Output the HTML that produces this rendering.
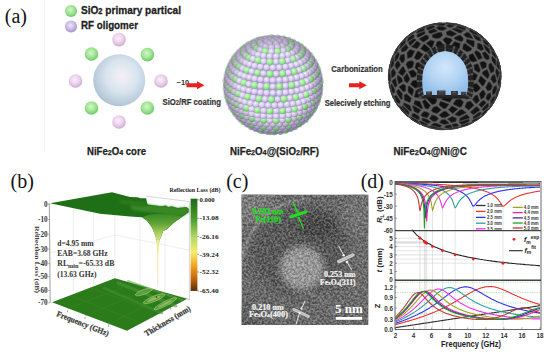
<!DOCTYPE html><html><head><meta charset="utf-8"><style>html,body{margin:0;padding:0;background:#fff;overflow:hidden}svg{display:block}</style></head><body><svg width="550" height="353" viewBox="0 0 550 353">
<defs>
 <radialGradient id="gCore" cx="0.55" cy="0.42" r="0.62">
  <stop offset="0" stop-color="#f5f0f6"/>
  <stop offset="0.5" stop-color="#d8e4ee"/>
  <stop offset="1" stop-color="#abc0d3"/>
 </radialGradient>
 <radialGradient id="gGreen" cx="0.45" cy="0.4" r="0.65">
  <stop offset="0" stop-color="#d2f6c8"/>
  <stop offset="0.5" stop-color="#a2e696"/>
  <stop offset="1" stop-color="#68c062"/>
 </radialGradient>
 <radialGradient id="gPurp" cx="0.45" cy="0.4" r="0.65">
  <stop offset="0" stop-color="#fbf0fb"/>
  <stop offset="0.5" stop-color="#ecd3ec"/>
  <stop offset="1" stop-color="#c9a3cc"/>
 </radialGradient>
 <radialGradient id="gPurpL" cx="0.45" cy="0.4" r="0.65">
  <stop offset="0" stop-color="#efe6f8"/>
  <stop offset="0.5" stop-color="#cdbde6"/>
  <stop offset="1" stop-color="#9c88c0"/>
 </radialGradient>
 <radialGradient id="gB1" cx="0.4" cy="0.35" r="0.7">
  <stop offset="0" stop-color="#f6f0fc"/>
  <stop offset="0.6" stop-color="#d2c4ec"/>
  <stop offset="1" stop-color="#9a8abe"/>
 </radialGradient>
 <radialGradient id="gB2" cx="0.4" cy="0.35" r="0.7">
  <stop offset="0" stop-color="#d8fad0"/>
  <stop offset="0.6" stop-color="#92e68e"/>
  <stop offset="1" stop-color="#5cb85a"/>
 </radialGradient>
 <radialGradient id="gShade" cx="0.5" cy="0.5" r="0.5">
  <stop offset="0.7" stop-color="#000" stop-opacity="0"/>
  <stop offset="1" stop-color="#302040" stop-opacity="0.35"/>
 </radialGradient>
 <radialGradient id="gDark" cx="0.45" cy="0.4" r="0.6">
  <stop offset="0" stop-color="#2e2e2e"/>
  <stop offset="1" stop-color="#141414"/>
 </radialGradient>
 <radialGradient id="gBlue" cx="0.5" cy="0.38" r="0.62">
  <stop offset="0" stop-color="#d2e7fa"/>
  <stop offset="0.6" stop-color="#b0d3f3"/>
  <stop offset="1" stop-color="#94bfea"/>
 </radialGradient>
 <linearGradient id="gCbar" x1="0" y1="0" x2="0" y2="1">
  <stop offset="0" stop-color="#1b6a16"/>
  <stop offset="0.22" stop-color="#4d9a2e"/>
  <stop offset="0.42" stop-color="#b5d86a"/>
  <stop offset="0.58" stop-color="#f4ec6e"/>
  <stop offset="0.72" stop-color="#f0a828"/>
  <stop offset="0.86" stop-color="#c86a0c"/>
  <stop offset="1" stop-color="#5a2c0a"/>
 </linearGradient>
 <linearGradient id="gTop" x1="0" y1="0" x2="1" y2="0.3">
  <stop offset="0" stop-color="#2a7a1e"/>
  <stop offset="0.6" stop-color="#2f7f21"/>
  <stop offset="1" stop-color="#4a9530"/>
 </linearGradient>
 <linearGradient id="gDip" x1="0" y1="0" x2="0" y2="1">
  <stop offset="0" stop-color="#3a8a26"/>
  <stop offset="0.3" stop-color="#5ea236"/>
  <stop offset="0.6" stop-color="#a6cc5a"/>
  <stop offset="1" stop-color="#eef29a"/>
 </linearGradient>
 <linearGradient id="gSpike" x1="0" y1="0" x2="0" y2="1">
  <stop offset="0" stop-color="#e8ee90"/>
  <stop offset="0.4" stop-color="#f4e890"/>
  <stop offset="1" stop-color="#f0c090"/>
 </linearGradient>
 <linearGradient id="gFloor" x1="0" y1="0" x2="1" y2="0.4">
  <stop offset="0" stop-color="#2f7e22"/>
  <stop offset="0.7" stop-color="#38882a"/>
  <stop offset="1" stop-color="#46922f"/>
 </linearGradient>
 <filter id="noise" x="0" y="0" width="100%" height="100%" color-interpolation-filters="sRGB">
  <feTurbulence type="fractalNoise" baseFrequency="0.45" numOctaves="2" seed="7" result="t"/>
  <feColorMatrix type="matrix" values="2.4 0 0 0 -0.75  2.4 0 0 0 -0.75  2.4 0 0 0 -0.75  0 0 0 0 1" in="t" result="c"/>
  <feComposite in="c" in2="SourceGraphic" operator="in"/>
 </filter>
 <filter id="blur3"><feGaussianBlur stdDeviation="3"/></filter>
 <filter id="blur6"><feGaussianBlur stdDeviation="6"/></filter>
 <filter id="blur1"><feGaussianBlur stdDeviation="1"/></filter>
 <clipPath id="clipTem"><rect x="241.5" y="194.5" width="127" height="130.5"/></clipPath>
 <clipPath id="clipD"><rect x="395" y="181.5" width="146" height="148"/></clipPath>
 <clipPath id="clipDark"><circle cx="445.5" cy="75.5" r="55.5"/></clipPath>
</defs>
<rect width="550" height="353" fill="#fff"/><line x1="44.5" y1="0" x2="44.5" y2="152" stroke="#f7f7f7" stroke-width="1"/><text x="4.8" y="22.7" style="font-family:&quot;Liberation Serif&quot;,serif;font-size:20px" fill="#111">(a)</text><circle cx="71" cy="11" r="6" fill="url(#gGreen)"/><circle cx="71" cy="26.5" r="6" fill="url(#gPurpL)"/><text x="81" y="13.6" style="font-family:&quot;Liberation Sans&quot;,sans-serif;font-weight:bold;font-size:11.5px" fill="#222" stroke="#222" stroke-width="0.3" textLength="100" lengthAdjust="spacingAndGlyphs">SiO<tspan font-size="8.5px">2</tspan> primary partical</text><text x="81" y="29.3" style="font-family:&quot;Liberation Sans&quot;,sans-serif;font-weight:bold;font-size:11.5px" fill="#222" stroke="#222" stroke-width="0.3" textLength="57" lengthAdjust="spacingAndGlyphs">RF oligomer</text><circle cx="119.2" cy="80.3" r="26" fill="url(#gCore)"/><circle cx="119" cy="39.6" r="6.8" fill="url(#gPurp)"/><circle cx="91.5" cy="54" r="6.8" fill="url(#gGreen)"/><circle cx="147.4" cy="54.6" r="6.8" fill="url(#gGreen)"/><circle cx="75.5" cy="81" r="6.8" fill="url(#gPurp)"/><circle cx="161" cy="81" r="6.8" fill="url(#gPurp)"/><circle cx="91.5" cy="108" r="6.8" fill="url(#gGreen)"/><circle cx="147.4" cy="108" r="6.8" fill="url(#gGreen)"/><circle cx="119" cy="122" r="6.8" fill="url(#gPurp)"/><text x="176.5" y="84.5" style="font-family:&quot;Liberation Sans&quot;,sans-serif;font-weight:bold;font-size:7.5px" fill="#333">~10</text><path d="M186.5,83.3 L197.0,83.3 L197.0,81.3 L204.5,85.3 L197.0,89.3 L197.0,87.3 L186.5,87.3 Z" fill="#e8201e"/><text x="162.5" y="104.8" style="font-family:&quot;Liberation Sans&quot;,sans-serif;font-weight:bold;font-size:8.6px" fill="#333" stroke="#333" stroke-width="0.2" textLength="58.5" lengthAdjust="spacingAndGlyphs">SiO<tspan font-size="6.5px">2</tspan>/RF coating</text><text x="87" y="155.2" style="font-family:&quot;Liberation Sans&quot;,sans-serif;font-weight:bold;font-size:10px" fill="#222" stroke="#222" stroke-width="0.25" textLength="59" lengthAdjust="spacingAndGlyphs">NiFe<tspan font-size="7.5px">2</tspan>O<tspan font-size="7.5px">4</tspan> core</text><circle cx="273.0" cy="84.8" r="48.0" fill="#ac9ecc"/><g><circle cx="227.2" cy="91.4" r="3.5100000000000002" fill="url(#gB2)"/><circle cx="318.8" cy="91.4" r="3.25" fill="url(#gB1)"/><circle cx="296.7" cy="124.6" r="3.25" fill="url(#gB1)"/><circle cx="249.3" cy="124.6" r="3.25" fill="url(#gB1)"/><circle cx="263.5" cy="130.1" r="3.25" fill="url(#gB1)"/><circle cx="317.4" cy="98.3" r="3.25" fill="url(#gB1)"/><circle cx="228.6" cy="98.3" r="3.25" fill="url(#gB1)"/><circle cx="314.9" cy="104.9" r="3.5100000000000002" fill="url(#gB2)"/><circle cx="231.1" cy="104.9" r="3.25" fill="url(#gB1)"/><circle cx="289.5" cy="128.3" r="3.25" fill="url(#gB1)"/><circle cx="226.8" cy="78.3" r="3.25" fill="url(#gB1)"/><circle cx="269.8" cy="38.3" r="3.25" fill="url(#gB1)"/><circle cx="276.2" cy="38.3" r="3.25" fill="url(#gB1)"/><circle cx="280.2" cy="130.9" r="3.5100000000000002" fill="url(#gB2)"/><circle cx="234.6" cy="111.2" r="3.25" fill="url(#gB1)"/><circle cx="311.4" cy="111.2" r="3.25" fill="url(#gB1)"/><circle cx="300.5" cy="47.1" r="3.25" fill="url(#gB1)"/><circle cx="245.5" cy="47.1" r="3.25" fill="url(#gB1)"/><circle cx="226.3" cy="85.4" r="3.25" fill="url(#gB1)"/><circle cx="306.9" cy="52.7" r="3.25" fill="url(#gB1)"/><circle cx="239.1" cy="52.7" r="3.5100000000000002" fill="url(#gB2)"/><circle cx="253.1" cy="42.5" r="3.25" fill="url(#gB1)"/><circle cx="292.9" cy="42.5" r="3.5100000000000002" fill="url(#gB2)"/><circle cx="306.9" cy="117.1" r="3.25" fill="url(#gB1)"/><circle cx="239.1" cy="117.1" r="3.5100000000000002" fill="url(#gB2)"/><circle cx="234.0" cy="58.9" r="3.25" fill="url(#gB1)"/><circle cx="312.0" cy="58.9" r="3.25" fill="url(#gB1)"/><circle cx="268.5" cy="131.4" r="3.5100000000000002" fill="url(#gB2)"/><circle cx="282.4" cy="38.9" r="3.25" fill="url(#gB1)"/><circle cx="263.6" cy="38.9" r="3.25" fill="url(#gB1)"/><circle cx="315.7" cy="65.4" r="3.5100000000000002" fill="url(#gB2)"/><circle cx="230.3" cy="65.4" r="3.5100000000000002" fill="url(#gB2)"/><circle cx="258.2" cy="129.3" r="3.25" fill="url(#gB1)"/><circle cx="274.5" cy="131.7" r="3.25" fill="url(#gB1)"/><circle cx="301.3" cy="122.2" r="3.25" fill="url(#gB1)"/><circle cx="244.7" cy="122.2" r="3.25" fill="url(#gB1)"/><circle cx="318.3" cy="72.4" r="3.25" fill="url(#gB1)"/><circle cx="227.7" cy="72.4" r="3.25" fill="url(#gB1)"/><circle cx="319.7" cy="79.5" r="3.5100000000000002" fill="url(#gB2)"/><circle cx="320.0" cy="86.6" r="3.25" fill="url(#gB1)"/><circle cx="294.2" cy="126.8" r="3.5100000000000002" fill="url(#gB2)"/><circle cx="251.8" cy="126.8" r="3.5100000000000002" fill="url(#gB2)"/><circle cx="319.2" cy="93.7" r="3.5100000000000002" fill="url(#gB2)"/><circle cx="226.8" cy="93.7" r="3.25" fill="url(#gB1)"/><circle cx="285.7" cy="130.1" r="3.25" fill="url(#gB1)"/><circle cx="317.4" cy="100.7" r="3.25" fill="url(#gB1)"/><circle cx="228.6" cy="100.7" r="3.25" fill="url(#gB1)"/><circle cx="287.9" cy="40.1" r="3.25" fill="url(#gB1)"/><circle cx="258.1" cy="40.1" r="3.25" fill="url(#gB1)"/><circle cx="297.1" cy="44.3" r="3.25" fill="url(#gB1)"/><circle cx="248.9" cy="44.3" r="3.5100000000000002" fill="url(#gB2)"/><circle cx="314.5" cy="107.3" r="3.25" fill="url(#gB1)"/><circle cx="231.5" cy="107.3" r="3.5100000000000002" fill="url(#gB2)"/><circle cx="242.1" cy="49.2" r="3.25" fill="url(#gB1)"/><circle cx="303.9" cy="49.2" r="3.25" fill="url(#gB1)"/><circle cx="226.0" cy="80.6" r="3.5100000000000002" fill="url(#gB2)"/><circle cx="262.7" cy="130.9" r="3.25" fill="url(#gB1)"/><circle cx="310.4" cy="113.6" r="3.25" fill="url(#gB1)"/><circle cx="235.6" cy="113.6" r="3.25" fill="url(#gB1)"/><circle cx="309.5" cy="54.9" r="3.5100000000000002" fill="url(#gB2)"/><circle cx="236.5" cy="54.9" r="3.25" fill="url(#gB1)"/><circle cx="225.9" cy="87.8" r="3.25" fill="url(#gB1)"/><circle cx="271.4" cy="37.6" r="3.5100000000000002" fill="url(#gB2)"/><circle cx="277.6" cy="37.8" r="3.25" fill="url(#gB1)"/><circle cx="305.2" cy="119.4" r="3.5100000000000002" fill="url(#gB2)"/><circle cx="240.8" cy="119.4" r="3.25" fill="url(#gB1)"/><circle cx="313.9" cy="61.2" r="3.25" fill="url(#gB1)"/><circle cx="232.1" cy="61.2" r="3.25" fill="url(#gB1)"/><circle cx="280.6" cy="131.4" r="3.25" fill="url(#gB1)"/><circle cx="317.0" cy="67.8" r="3.25" fill="url(#gB1)"/><circle cx="229.0" cy="67.8" r="3.25" fill="url(#gB1)"/><circle cx="298.8" cy="124.3" r="3.25" fill="url(#gB1)"/><circle cx="247.2" cy="124.3" r="3.25" fill="url(#gB1)"/><circle cx="265.4" cy="38.2" r="3.25" fill="url(#gB1)"/><circle cx="319.1" cy="74.7" r="3.25" fill="url(#gB1)"/><circle cx="226.9" cy="74.7" r="3.25" fill="url(#gB1)"/><circle cx="268.4" cy="131.8" r="3.25" fill="url(#gB1)"/><circle cx="290.4" cy="128.7" r="3.25" fill="url(#gB1)"/><circle cx="255.6" cy="128.7" r="3.25" fill="url(#gB1)"/><circle cx="274.6" cy="132.0" r="3.25" fill="url(#gB1)"/><circle cx="320.1" cy="81.8" r="3.5100000000000002" fill="url(#gB2)"/><circle cx="292.5" cy="41.8" r="3.25" fill="url(#gB1)"/><circle cx="253.5" cy="41.8" r="3.25" fill="url(#gB1)"/><circle cx="283.3" cy="38.7" r="3.5100000000000002" fill="url(#gB2)"/><circle cx="320.0" cy="89.0" r="3.25" fill="url(#gB1)"/><circle cx="318.8" cy="96.1" r="3.25" fill="url(#gB1)"/><circle cx="227.2" cy="96.1" r="3.5100000000000002" fill="url(#gB2)"/><circle cx="245.8" cy="46.3" r="3.25" fill="url(#gB1)"/><circle cx="300.2" cy="46.3" r="3.5100000000000002" fill="url(#gB2)"/><circle cx="316.5" cy="103.0" r="3.25" fill="url(#gB1)"/><circle cx="229.5" cy="103.0" r="3.25" fill="url(#gB1)"/><circle cx="306.2" cy="51.4" r="3.25" fill="url(#gB1)"/><circle cx="239.8" cy="51.4" r="3.25" fill="url(#gB1)"/><circle cx="313.1" cy="109.6" r="3.5100000000000002" fill="url(#gB2)"/><circle cx="232.9" cy="109.6" r="3.25" fill="url(#gB1)"/><circle cx="260.3" cy="39.5" r="3.5100000000000002" fill="url(#gB2)"/><circle cx="226.0" cy="83.0" r="3.25" fill="url(#gB1)"/><circle cx="308.3" cy="115.9" r="3.25" fill="url(#gB1)"/><circle cx="237.7" cy="115.9" r="3.25" fill="url(#gB1)"/><circle cx="234.9" cy="57.2" r="3.5100000000000002" fill="url(#gB2)"/><circle cx="311.1" cy="57.2" r="3.25" fill="url(#gB1)"/><circle cx="285.3" cy="130.2" r="3.5100000000000002" fill="url(#gB2)"/><circle cx="260.7" cy="130.2" r="3.5100000000000002" fill="url(#gB2)"/><circle cx="226.3" cy="90.1" r="3.25" fill="url(#gB1)"/><circle cx="295.1" cy="126.2" r="3.25" fill="url(#gB1)"/><circle cx="250.9" cy="126.2" r="3.25" fill="url(#gB1)"/><circle cx="302.3" cy="121.5" r="3.25" fill="url(#gB1)"/><circle cx="243.7" cy="121.5" r="3.5100000000000002" fill="url(#gB2)"/><circle cx="231.2" cy="63.5" r="3.25" fill="url(#gB1)"/><circle cx="314.8" cy="63.5" r="3.25" fill="url(#gB1)"/><circle cx="271.5" cy="37.9" r="3.25" fill="url(#gB1)"/><circle cx="287.8" cy="40.3" r="3.25" fill="url(#gB1)"/><circle cx="317.5" cy="70.1" r="3.5100000000000002" fill="url(#gB2)"/><circle cx="228.5" cy="70.1" r="3.5100000000000002" fill="url(#gB2)"/><circle cx="277.5" cy="38.2" r="3.25" fill="url(#gB1)"/><circle cx="250.3" cy="43.9" r="3.25" fill="url(#gB1)"/><circle cx="295.7" cy="43.9" r="3.25" fill="url(#gB1)"/><circle cx="226.9" cy="77.1" r="3.25" fill="url(#gB1)"/><circle cx="319.1" cy="77.1" r="3.25" fill="url(#gB1)"/><circle cx="279.4" cy="131.1" r="3.25" fill="url(#gB1)"/><circle cx="266.6" cy="131.1" r="3.25" fill="url(#gB1)"/><circle cx="319.7" cy="84.2" r="3.25" fill="url(#gB1)"/><circle cx="265.8" cy="38.7" r="3.25" fill="url(#gB1)"/><circle cx="319.2" cy="91.3" r="3.25" fill="url(#gB1)"/><circle cx="273.0" cy="131.4" r="3.5100000000000002" fill="url(#gB2)"/><circle cx="256.5" cy="41.3" r="3.25" fill="url(#gB1)"/><circle cx="317.5" cy="98.4" r="3.5100000000000002" fill="url(#gB2)"/><circle cx="228.5" cy="98.4" r="3.25" fill="url(#gB1)"/><circle cx="243.8" cy="48.5" r="3.5100000000000002" fill="url(#gB2)"/><circle cx="302.2" cy="48.5" r="3.25" fill="url(#gB1)"/><circle cx="314.7" cy="105.3" r="3.25" fill="url(#gB1)"/><circle cx="231.3" cy="105.3" r="3.25" fill="url(#gB1)"/><circle cx="290.5" cy="127.8" r="3.25" fill="url(#gB1)"/><circle cx="255.5" cy="127.8" r="3.25" fill="url(#gB1)"/><circle cx="310.8" cy="111.8" r="3.25" fill="url(#gB1)"/><circle cx="235.2" cy="111.8" r="3.5100000000000002" fill="url(#gB2)"/><circle cx="307.4" cy="53.7" r="3.25" fill="url(#gB1)"/><circle cx="238.6" cy="53.7" r="3.25" fill="url(#gB1)"/><circle cx="282.5" cy="39.5" r="3.25" fill="url(#gB1)"/><circle cx="305.3" cy="118.0" r="3.25" fill="url(#gB1)"/><circle cx="240.7" cy="118.0" r="3.25" fill="url(#gB1)"/><circle cx="247.5" cy="123.4" r="3.25" fill="url(#gB1)"/><circle cx="298.5" cy="123.4" r="3.5100000000000002" fill="url(#gB2)"/><circle cx="226.8" cy="85.3" r="3.5100000000000002" fill="url(#gB2)"/><circle cx="311.6" cy="59.5" r="3.5100000000000002" fill="url(#gB2)"/><circle cx="234.4" cy="59.5" r="3.25" fill="url(#gB1)"/><circle cx="227.6" cy="92.5" r="3.25" fill="url(#gB1)"/><circle cx="290.8" cy="42.4" r="3.5100000000000002" fill="url(#gB2)"/><circle cx="314.8" cy="65.8" r="3.25" fill="url(#gB1)"/><circle cx="231.2" cy="65.8" r="3.25" fill="url(#gB1)"/><circle cx="285.1" cy="129.0" r="3.25" fill="url(#gB1)"/><circle cx="260.9" cy="129.0" r="3.25" fill="url(#gB1)"/><circle cx="261.7" cy="40.4" r="3.25" fill="url(#gB1)"/><circle cx="317.0" cy="72.5" r="3.25" fill="url(#gB1)"/><circle cx="229.0" cy="72.5" r="3.25" fill="url(#gB1)"/><circle cx="248.7" cy="46.2" r="3.25" fill="url(#gB1)"/><circle cx="297.3" cy="46.2" r="3.25" fill="url(#gB1)"/><circle cx="318.3" cy="79.4" r="3.25" fill="url(#gB1)"/><circle cx="227.7" cy="79.4" r="3.25" fill="url(#gB1)"/><circle cx="269.8" cy="39.3" r="3.25" fill="url(#gB1)"/><circle cx="276.2" cy="39.3" r="3.25" fill="url(#gB1)"/><circle cx="318.4" cy="86.5" r="3.5100000000000002" fill="url(#gB2)"/><circle cx="317.5" cy="93.6" r="3.25" fill="url(#gB1)"/><circle cx="279.2" cy="129.7" r="3.25" fill="url(#gB1)"/><circle cx="266.8" cy="129.7" r="3.25" fill="url(#gB1)"/><circle cx="254.4" cy="43.5" r="3.5100000000000002" fill="url(#gB2)"/><circle cx="293.8" cy="125.0" r="3.25" fill="url(#gB1)"/><circle cx="252.2" cy="125.0" r="3.5100000000000002" fill="url(#gB2)"/><circle cx="230.6" cy="100.6" r="3.5100000000000002" fill="url(#gB2)"/><circle cx="315.4" cy="100.6" r="3.25" fill="url(#gB1)"/><circle cx="302.8" cy="50.8" r="3.5100000000000002" fill="url(#gB2)"/><circle cx="243.2" cy="50.8" r="3.25" fill="url(#gB1)"/><circle cx="238.4" cy="113.8" r="3.25" fill="url(#gB1)"/><circle cx="307.6" cy="113.8" r="3.5100000000000002" fill="url(#gB2)"/><circle cx="233.9" cy="107.5" r="3.25" fill="url(#gB1)"/><circle cx="312.1" cy="107.5" r="3.25" fill="url(#gB1)"/><circle cx="273.0" cy="129.9" r="3.25" fill="url(#gB1)"/><circle cx="301.4" cy="119.8" r="3.25" fill="url(#gB1)"/><circle cx="244.6" cy="119.8" r="3.25" fill="url(#gB1)"/><circle cx="285.4" cy="41.5" r="3.25" fill="url(#gB1)"/><circle cx="238.6" cy="56.1" r="3.25" fill="url(#gB1)"/><circle cx="307.4" cy="56.1" r="3.25" fill="url(#gB1)"/><circle cx="228.5" cy="87.6" r="3.25" fill="url(#gB1)"/><circle cx="229.6" cy="94.7" r="3.25" fill="url(#gB1)"/><circle cx="311.1" cy="61.9" r="3.25" fill="url(#gB1)"/><circle cx="234.9" cy="61.9" r="3.5100000000000002" fill="url(#gB2)"/><circle cx="291.8" cy="44.6" r="3.5100000000000002" fill="url(#gB2)"/><circle cx="288.4" cy="126.3" r="3.5100000000000002" fill="url(#gB2)"/><circle cx="257.6" cy="126.3" r="3.25" fill="url(#gB1)"/><circle cx="313.9" cy="68.2" r="3.25" fill="url(#gB1)"/><circle cx="232.1" cy="68.2" r="3.25" fill="url(#gB1)"/><circle cx="260.3" cy="42.6" r="3.25" fill="url(#gB1)"/><circle cx="279.4" cy="41.4" r="3.25" fill="url(#gB1)"/><circle cx="266.6" cy="41.4" r="3.25" fill="url(#gB1)"/><circle cx="315.7" cy="74.8" r="3.5100000000000002" fill="url(#gB2)"/><circle cx="230.3" cy="74.8" r="3.5100000000000002" fill="url(#gB2)"/><circle cx="273.0" cy="41.0" r="3.25" fill="url(#gB1)"/><circle cx="316.6" cy="81.7" r="3.25" fill="url(#gB1)"/><circle cx="229.4" cy="81.7" r="3.25" fill="url(#gB1)"/><circle cx="296.7" cy="121.5" r="3.25" fill="url(#gB1)"/><circle cx="249.3" cy="121.5" r="3.25" fill="url(#gB1)"/><circle cx="297.3" cy="48.6" r="3.25" fill="url(#gB1)"/><circle cx="248.7" cy="48.6" r="3.25" fill="url(#gB1)"/><circle cx="316.4" cy="88.7" r="3.25" fill="url(#gB1)"/><circle cx="303.7" cy="115.6" r="3.25" fill="url(#gB1)"/><circle cx="242.3" cy="115.6" r="3.5100000000000002" fill="url(#gB2)"/><circle cx="315.1" cy="95.7" r="3.25" fill="url(#gB1)"/><circle cx="312.5" cy="102.7" r="3.5100000000000002" fill="url(#gB2)"/><circle cx="233.5" cy="102.7" r="3.25" fill="url(#gB1)"/><circle cx="282.4" cy="127.1" r="3.25" fill="url(#gB1)"/><circle cx="263.6" cy="127.1" r="3.5100000000000002" fill="url(#gB2)"/><circle cx="308.6" cy="109.5" r="3.25" fill="url(#gB1)"/><circle cx="237.4" cy="109.5" r="3.25" fill="url(#gB1)"/><circle cx="254.4" cy="45.8" r="3.25" fill="url(#gB1)"/><circle cx="302.2" cy="53.2" r="3.25" fill="url(#gB1)"/><circle cx="243.8" cy="53.2" r="3.5100000000000002" fill="url(#gB2)"/><circle cx="276.2" cy="127.6" r="3.5100000000000002" fill="url(#gB2)"/><circle cx="269.8" cy="127.6" r="3.25" fill="url(#gB1)"/><circle cx="285.4" cy="43.8" r="3.25" fill="url(#gB1)"/><circle cx="306.2" cy="58.5" r="3.25" fill="url(#gB1)"/><circle cx="239.8" cy="58.5" r="3.25" fill="url(#gB1)"/><circle cx="230.9" cy="89.8" r="3.5100000000000002" fill="url(#gB2)"/><circle cx="232.5" cy="96.8" r="3.25" fill="url(#gB1)"/><circle cx="291.4" cy="122.8" r="3.25" fill="url(#gB1)"/><circle cx="254.6" cy="122.8" r="3.25" fill="url(#gB1)"/><circle cx="236.5" cy="64.2" r="3.25" fill="url(#gB1)"/><circle cx="309.5" cy="64.2" r="3.5100000000000002" fill="url(#gB2)"/><circle cx="290.8" cy="46.9" r="3.25" fill="url(#gB1)"/><circle cx="299.1" cy="117.2" r="3.5100000000000002" fill="url(#gB2)"/><circle cx="246.9" cy="117.2" r="3.25" fill="url(#gB1)"/><circle cx="234.0" cy="70.4" r="3.25" fill="url(#gB1)"/><circle cx="312.0" cy="70.4" r="3.25" fill="url(#gB1)"/><circle cx="261.7" cy="44.9" r="3.25" fill="url(#gB1)"/><circle cx="276.2" cy="43.5" r="3.25" fill="url(#gB1)"/><circle cx="269.8" cy="43.5" r="3.25" fill="url(#gB1)"/><circle cx="313.5" cy="77.1" r="3.25" fill="url(#gB1)"/><circle cx="232.5" cy="77.1" r="3.25" fill="url(#gB1)"/><circle cx="304.5" cy="111.3" r="3.25" fill="url(#gB1)"/><circle cx="241.5" cy="111.3" r="3.25" fill="url(#gB1)"/><circle cx="314.1" cy="83.9" r="3.25" fill="url(#gB1)"/><circle cx="231.9" cy="83.9" r="3.25" fill="url(#gB1)"/><circle cx="308.9" cy="104.6" r="3.25" fill="url(#gB1)"/><circle cx="237.1" cy="104.6" r="3.5100000000000002" fill="url(#gB2)"/><circle cx="313.5" cy="90.8" r="3.5100000000000002" fill="url(#gB2)"/><circle cx="311.8" cy="97.8" r="3.25" fill="url(#gB1)"/><circle cx="285.5" cy="123.7" r="3.25" fill="url(#gB1)"/><circle cx="260.5" cy="123.7" r="3.25" fill="url(#gB1)"/><circle cx="295.7" cy="50.9" r="3.25" fill="url(#gB1)"/><circle cx="250.3" cy="50.9" r="3.25" fill="url(#gB1)"/><circle cx="256.5" cy="48.0" r="3.5100000000000002" fill="url(#gB2)"/><circle cx="282.5" cy="45.8" r="3.25" fill="url(#gB1)"/><circle cx="300.2" cy="55.4" r="3.5100000000000002" fill="url(#gB2)"/><circle cx="245.8" cy="55.4" r="3.25" fill="url(#gB1)"/><circle cx="279.4" cy="124.3" r="3.25" fill="url(#gB1)"/><circle cx="266.6" cy="124.3" r="3.25" fill="url(#gB1)"/><circle cx="294.0" cy="118.5" r="3.25" fill="url(#gB1)"/><circle cx="252.0" cy="118.5" r="3.5100000000000002" fill="url(#gB2)"/><circle cx="273.0" cy="124.5" r="3.25" fill="url(#gB1)"/><circle cx="236.0" cy="98.7" r="3.25" fill="url(#gB1)"/><circle cx="234.2" cy="91.8" r="3.25" fill="url(#gB1)"/><circle cx="303.9" cy="60.7" r="3.25" fill="url(#gB1)"/><circle cx="242.1" cy="60.7" r="3.25" fill="url(#gB1)"/><circle cx="265.8" cy="46.6" r="3.25" fill="url(#gB1)"/><circle cx="287.8" cy="49.0" r="3.5100000000000002" fill="url(#gB2)"/><circle cx="299.7" cy="112.8" r="3.25" fill="url(#gB1)"/><circle cx="246.3" cy="112.8" r="3.25" fill="url(#gB1)"/><circle cx="306.9" cy="66.4" r="3.25" fill="url(#gB1)"/><circle cx="239.1" cy="66.4" r="3.5100000000000002" fill="url(#gB2)"/><circle cx="309.3" cy="72.5" r="3.25" fill="url(#gB1)"/><circle cx="236.7" cy="72.5" r="3.25" fill="url(#gB1)"/><circle cx="241.4" cy="106.4" r="3.25" fill="url(#gB1)"/><circle cx="304.6" cy="106.4" r="3.5100000000000002" fill="url(#gB2)"/><circle cx="288.3" cy="119.6" r="3.5100000000000002" fill="url(#gB2)"/><circle cx="257.7" cy="119.6" r="3.25" fill="url(#gB1)"/><circle cx="277.5" cy="47.1" r="3.25" fill="url(#gB1)"/><circle cx="307.9" cy="99.6" r="3.25" fill="url(#gB1)"/><circle cx="310.4" cy="79.1" r="3.5100000000000002" fill="url(#gB2)"/><circle cx="235.6" cy="79.1" r="3.5100000000000002" fill="url(#gB2)"/><circle cx="310.0" cy="92.8" r="3.25" fill="url(#gB1)"/><circle cx="310.8" cy="85.9" r="3.25" fill="url(#gB1)"/><circle cx="235.2" cy="85.9" r="3.25" fill="url(#gB1)"/><circle cx="271.5" cy="47.4" r="3.25" fill="url(#gB1)"/><circle cx="292.5" cy="53.0" r="3.25" fill="url(#gB1)"/><circle cx="253.5" cy="53.0" r="3.25" fill="url(#gB1)"/><circle cx="260.3" cy="49.8" r="3.25" fill="url(#gB1)"/><circle cx="282.3" cy="120.3" r="3.25" fill="url(#gB1)"/><circle cx="263.7" cy="120.3" r="3.5100000000000002" fill="url(#gB2)"/><circle cx="297.1" cy="57.4" r="3.25" fill="url(#gB1)"/><circle cx="248.9" cy="57.4" r="3.5100000000000002" fill="url(#gB2)"/><circle cx="240.2" cy="100.5" r="3.25" fill="url(#gB1)"/><circle cx="294.3" cy="114.1" r="3.25" fill="url(#gB1)"/><circle cx="251.7" cy="114.1" r="3.25" fill="url(#gB1)"/><circle cx="238.1" cy="93.7" r="3.5100000000000002" fill="url(#gB2)"/><circle cx="276.1" cy="120.6" r="3.5100000000000002" fill="url(#gB2)"/><circle cx="269.9" cy="120.6" r="3.25" fill="url(#gB1)"/><circle cx="283.3" cy="50.5" r="3.25" fill="url(#gB1)"/><circle cx="300.5" cy="62.7" r="3.25" fill="url(#gB1)"/><circle cx="245.5" cy="62.7" r="3.25" fill="url(#gB1)"/><circle cx="299.7" cy="107.9" r="3.25" fill="url(#gB1)"/><circle cx="246.3" cy="107.9" r="3.5100000000000002" fill="url(#gB2)"/><circle cx="303.4" cy="101.3" r="3.25" fill="url(#gB1)"/><circle cx="303.4" cy="68.4" r="3.5100000000000002" fill="url(#gB2)"/><circle cx="242.6" cy="68.4" r="3.25" fill="url(#gB1)"/><circle cx="265.4" cy="51.1" r="3.5100000000000002" fill="url(#gB2)"/><circle cx="305.8" cy="74.4" r="3.25" fill="url(#gB1)"/><circle cx="240.2" cy="74.4" r="3.25" fill="url(#gB1)"/><circle cx="305.8" cy="94.5" r="3.5100000000000002" fill="url(#gB2)"/><circle cx="288.6" cy="115.1" r="3.25" fill="url(#gB1)"/><circle cx="257.4" cy="115.1" r="3.25" fill="url(#gB1)"/><circle cx="306.8" cy="87.7" r="3.25" fill="url(#gB1)"/><circle cx="239.2" cy="87.7" r="3.25" fill="url(#gB1)"/><circle cx="306.6" cy="81.1" r="3.25" fill="url(#gB1)"/><circle cx="239.4" cy="81.1" r="3.25" fill="url(#gB1)"/><circle cx="277.6" cy="51.5" r="3.5100000000000002" fill="url(#gB2)"/><circle cx="287.9" cy="54.7" r="3.25" fill="url(#gB1)"/><circle cx="258.1" cy="54.7" r="3.25" fill="url(#gB1)"/><circle cx="271.4" cy="51.7" r="3.25" fill="url(#gB1)"/><circle cx="245.1" cy="102.0" r="3.25" fill="url(#gB1)"/><circle cx="292.9" cy="59.1" r="3.5100000000000002" fill="url(#gB2)"/><circle cx="253.1" cy="59.1" r="3.25" fill="url(#gB1)"/><circle cx="282.5" cy="115.8" r="3.25" fill="url(#gB1)"/><circle cx="263.5" cy="115.8" r="3.25" fill="url(#gB1)"/><circle cx="294.3" cy="109.1" r="3.5100000000000002" fill="url(#gB2)"/><circle cx="251.7" cy="109.1" r="3.25" fill="url(#gB1)"/><circle cx="242.6" cy="95.3" r="3.25" fill="url(#gB1)"/><circle cx="276.2" cy="116.1" r="3.25" fill="url(#gB1)"/><circle cx="269.8" cy="116.1" r="3.25" fill="url(#gB1)"/><circle cx="298.4" cy="102.7" r="3.25" fill="url(#gB1)"/><circle cx="296.3" cy="64.5" r="3.25" fill="url(#gB1)"/><circle cx="249.7" cy="64.5" r="3.25" fill="url(#gB1)"/><circle cx="282.4" cy="55.9" r="3.25" fill="url(#gB1)"/><circle cx="263.6" cy="55.9" r="3.25" fill="url(#gB1)"/><circle cx="300.9" cy="96.0" r="3.25" fill="url(#gB1)"/><circle cx="299.1" cy="70.2" r="3.25" fill="url(#gB1)"/><circle cx="246.9" cy="70.2" r="3.5100000000000002" fill="url(#gB2)"/><circle cx="301.5" cy="76.2" r="3.25" fill="url(#gB1)"/><circle cx="244.5" cy="76.2" r="3.25" fill="url(#gB1)"/><circle cx="288.5" cy="110.0" r="3.25" fill="url(#gB1)"/><circle cx="257.5" cy="110.0" r="3.5100000000000002" fill="url(#gB2)"/><circle cx="302.2" cy="89.3" r="3.25" fill="url(#gB1)"/><circle cx="243.8" cy="89.3" r="3.25" fill="url(#gB1)"/><circle cx="250.4" cy="103.3" r="3.25" fill="url(#gB1)"/><circle cx="302.1" cy="82.7" r="3.5100000000000002" fill="url(#gB2)"/><circle cx="243.9" cy="82.7" r="3.5100000000000002" fill="url(#gB2)"/><circle cx="287.9" cy="60.5" r="3.25" fill="url(#gB1)"/><circle cx="258.1" cy="60.5" r="3.5100000000000002" fill="url(#gB2)"/><circle cx="276.2" cy="56.5" r="3.25" fill="url(#gB1)"/><circle cx="269.8" cy="56.5" r="3.25" fill="url(#gB1)"/><circle cx="247.6" cy="96.7" r="3.5100000000000002" fill="url(#gB2)"/><circle cx="282.4" cy="110.7" r="3.5100000000000002" fill="url(#gB2)"/><circle cx="263.6" cy="110.7" r="3.25" fill="url(#gB1)"/><circle cx="292.8" cy="103.8" r="3.25" fill="url(#gB1)"/><circle cx="276.2" cy="111.0" r="3.25" fill="url(#gB1)"/><circle cx="269.8" cy="111.0" r="3.5100000000000002" fill="url(#gB2)"/><circle cx="291.2" cy="65.9" r="3.25" fill="url(#gB1)"/><circle cx="254.8" cy="65.9" r="3.25" fill="url(#gB1)"/><circle cx="295.6" cy="97.3" r="3.5100000000000002" fill="url(#gB2)"/><circle cx="256.1" cy="104.3" r="3.25" fill="url(#gB1)"/><circle cx="282.2" cy="61.5" r="3.5100000000000002" fill="url(#gB2)"/><circle cx="263.8" cy="61.5" r="3.25" fill="url(#gB1)"/><circle cx="251.9" cy="71.6" r="3.25" fill="url(#gB1)"/><circle cx="294.1" cy="71.6" r="3.5100000000000002" fill="url(#gB2)"/><circle cx="297.0" cy="90.7" r="3.25" fill="url(#gB1)"/><circle cx="249.0" cy="90.7" r="3.25" fill="url(#gB1)"/><circle cx="296.6" cy="77.6" r="3.25" fill="url(#gB1)"/><circle cx="249.4" cy="77.6" r="3.25" fill="url(#gB1)"/><circle cx="287.0" cy="104.6" r="3.25" fill="url(#gB1)"/><circle cx="297.1" cy="84.2" r="3.25" fill="url(#gB1)"/><circle cx="248.9" cy="84.2" r="3.25" fill="url(#gB1)"/><circle cx="253.2" cy="97.8" r="3.25" fill="url(#gB1)"/><circle cx="276.1" cy="61.9" r="3.25" fill="url(#gB1)"/><circle cx="269.9" cy="61.9" r="3.5100000000000002" fill="url(#gB2)"/><circle cx="262.1" cy="105.0" r="3.25" fill="url(#gB1)"/><circle cx="280.8" cy="105.2" r="3.25" fill="url(#gB1)"/><circle cx="285.5" cy="67.0" r="3.25" fill="url(#gB1)"/><circle cx="260.5" cy="67.0" r="3.25" fill="url(#gB1)"/><circle cx="289.9" cy="98.3" r="3.25" fill="url(#gB1)"/><circle cx="268.3" cy="105.3" r="3.25" fill="url(#gB1)"/><circle cx="274.6" cy="105.4" r="3.25" fill="url(#gB1)"/><circle cx="291.4" cy="91.8" r="3.25" fill="url(#gB1)"/><circle cx="254.6" cy="91.8" r="3.25" fill="url(#gB1)"/><circle cx="259.0" cy="98.7" r="3.5100000000000002" fill="url(#gB2)"/><circle cx="288.5" cy="72.8" r="3.25" fill="url(#gB1)"/><circle cx="257.5" cy="72.8" r="3.5100000000000002" fill="url(#gB2)"/><circle cx="291.2" cy="78.8" r="3.25" fill="url(#gB1)"/><circle cx="254.8" cy="78.8" r="3.25" fill="url(#gB1)"/><circle cx="291.5" cy="85.3" r="3.5100000000000002" fill="url(#gB2)"/><circle cx="254.5" cy="85.3" r="3.5100000000000002" fill="url(#gB2)"/><circle cx="279.3" cy="67.6" r="3.25" fill="url(#gB1)"/><circle cx="266.7" cy="67.6" r="3.25" fill="url(#gB1)"/><circle cx="283.9" cy="99.0" r="3.5100000000000002" fill="url(#gB2)"/><circle cx="273.0" cy="67.8" r="3.25" fill="url(#gB1)"/><circle cx="265.2" cy="99.2" r="3.25" fill="url(#gB1)"/><circle cx="277.7" cy="99.4" r="3.25" fill="url(#gB1)"/><circle cx="271.4" cy="99.5" r="3.5100000000000002" fill="url(#gB2)"/><circle cx="282.5" cy="73.6" r="3.5100000000000002" fill="url(#gB2)"/><circle cx="263.5" cy="73.6" r="3.25" fill="url(#gB1)"/><circle cx="285.5" cy="92.6" r="3.25" fill="url(#gB1)"/><circle cx="260.5" cy="92.6" r="3.25" fill="url(#gB1)"/><circle cx="260.6" cy="79.7" r="3.25" fill="url(#gB1)"/><circle cx="285.4" cy="79.7" r="3.25" fill="url(#gB1)"/><circle cx="285.5" cy="86.1" r="3.25" fill="url(#gB1)"/><circle cx="260.5" cy="86.1" r="3.25" fill="url(#gB1)"/><circle cx="276.2" cy="74.0" r="3.25" fill="url(#gB1)"/><circle cx="269.8" cy="74.0" r="3.5100000000000002" fill="url(#gB2)"/><circle cx="279.3" cy="93.1" r="3.25" fill="url(#gB1)"/><circle cx="266.7" cy="93.1" r="3.25" fill="url(#gB1)"/><circle cx="273.0" cy="93.2" r="3.25" fill="url(#gB1)"/><circle cx="279.2" cy="80.2" r="3.25" fill="url(#gB1)"/><circle cx="266.8" cy="80.2" r="3.25" fill="url(#gB1)"/><circle cx="279.3" cy="86.6" r="3.5100000000000002" fill="url(#gB2)"/><circle cx="266.7" cy="86.6" r="3.5100000000000002" fill="url(#gB2)"/><circle cx="273.0" cy="80.4" r="3.25" fill="url(#gB1)"/><circle cx="273.0" cy="86.8" r="3.25" fill="url(#gB1)"/></g><circle cx="273.0" cy="84.8" r="49.5" fill="url(#gShade)"/><text x="230" y="155.2" style="font-family:&quot;Liberation Sans&quot;,sans-serif;font-weight:bold;font-size:10px" fill="#222" stroke="#222" stroke-width="0.25" textLength="89" lengthAdjust="spacingAndGlyphs">NiFe<tspan font-size="7.5px">2</tspan>O<tspan font-size="7.5px">4</tspan>@(SiO<tspan font-size="7.5px">2</tspan>/RF)</text><text x="331.3" y="72.3" style="font-family:&quot;Liberation Sans&quot;,sans-serif;font-weight:bold;font-size:8.4px" fill="#333" stroke="#333" stroke-width="0.2" textLength="51.5" lengthAdjust="spacingAndGlyphs">Carbonization</text><path d="M349,83.3 L359.3,83.3 L359.3,81.3 L366.8,85.3 L359.3,89.3 L359.3,87.3 L349,87.3 Z" fill="#e8201e"/><text x="324.7" y="105.6" style="font-family:&quot;Liberation Sans&quot;,sans-serif;font-weight:bold;font-size:8.4px" fill="#333" stroke="#333" stroke-width="0.2" textLength="65.8" lengthAdjust="spacingAndGlyphs">Selecively etching</text><ellipse cx="444.8" cy="76.3" rx="56.5" ry="53.6" fill="#636363"/><g><polygon points="433.5,128.8 433.3,128.7 429.2,127.8 429.6,127.9 435.3,128.8 440.2,129.7" fill="rgb(28,28,28)" stroke="#333" stroke-width="0.6"/><polygon points="437.4,23.4 440.2,22.9 431.5,24.2 429.3,24.8 428.7,25.0 432.0,24.5" fill="rgb(28,28,28)" stroke="#333" stroke-width="0.6"/><polygon points="493.2,103.8 495.8,99.2 497.7,95.1 498.0,94.2 495.9,98.3 493.7,102.8" fill="rgb(28,28,28)" stroke="#333" stroke-width="0.6"/><polygon points="388.4,74.7 388.5,72.3 388.6,73.0 388.7,75.9 388.5,80.7 388.4,78.8" fill="rgb(28,28,28)" stroke="#333" stroke-width="0.6"/><polygon points="412.9,32.1 409.5,35.2 409.2,35.4 404.6,38.6 408.0,35.6 412.8,32.1" fill="rgb(28,28,28)" stroke="#333" stroke-width="0.6"/><polygon points="390.4,90.5 391.3,93.3 393.1,97.9 393.6,98.9 391.9,94.1 390.7,91.2" fill="rgb(28,28,28)" stroke="#333" stroke-width="0.6"/><polygon points="475.6,31.7 477.0,32.7 483.1,36.9 482.2,36.2 479.2,33.9 475.0,31.0" fill="rgb(28,28,28)" stroke="#333" stroke-width="0.6"/><polygon points="457.8,24.1 453.8,23.5 447.0,22.9 445.8,22.7 451.5,23.3 457.5,24.1" fill="rgb(27,27,27)" stroke="#333" stroke-width="0.6"/><polygon points="395.6,50.0 399.2,45.1 401.7,41.7 398.3,46.3" fill="rgb(27,27,27)" stroke="#333" stroke-width="0.6"/><polygon points="484.8,114.1 484.8,114.1 481.0,117.1 476.9,120.2 476.0,121.0 482.7,116.0" fill="rgb(27,27,27)" stroke="#333" stroke-width="0.6"/><polygon points="500.1,65.2 500.3,68.3 500.4,69.1 501.2,73.7 501.0,72.4 500.6,69.1" fill="rgb(27,27,27)" stroke="#333" stroke-width="0.6"/><polygon points="398.3,106.4 396.7,103.6 394.2,100.1 394.7,101.0 397.3,105.1 397.6,105.5 398.6,107.1" fill="rgb(27,27,27)" stroke="#333" stroke-width="0.6"/><polygon points="410.5,118.9 415.1,121.8 419.9,124.4 418.2,123.3 411.5,119.3" fill="rgb(27,27,27)" stroke="#333" stroke-width="0.6"/><polygon points="500.9,82.3 500.6,83.3 499.7,86.9 499.0,91.3 499.3,90.4 500.1,86.9" fill="rgb(27,27,27)" stroke="#333" stroke-width="0.6"/><polygon points="416.8,29.7 420.9,27.8 425.0,26.1 425.6,25.9 420.8,28.4 419.3,29.1 416.7,29.8" fill="rgb(27,27,27)" stroke="#333" stroke-width="0.6"/><polygon points="478.1,33.2 473.9,30.4 470.0,28.5 470.6,29.2 476.1,32.3" fill="rgb(27,27,27)" stroke="#333" stroke-width="0.6"/><polygon points="432.1,24.2 433.9,24.5 434.7,24.4 442.1,23.0 442.2,23.0 440.9,22.8 440.8,22.8" fill="rgb(27,27,27)" stroke="#333" stroke-width="0.6"/><polygon points="486.3,40.8 488.6,43.4 491.4,46.2 491.0,45.5 486.0,39.6 485.9,39.5 485.0,38.8" fill="rgb(27,27,27)" stroke="#333" stroke-width="0.6"/><polygon points="406.6,115.7 401.2,110.3 400.9,109.6 407.2,115.1 408.4,116.9 407.4,116.5" fill="rgb(26,26,26)" stroke="#333" stroke-width="0.6"/><polygon points="474.1,121.9 473.2,122.6 470.7,123.9 468.6,124.9 465.6,126.0 470.6,123.1" fill="rgb(26,26,26)" stroke="#333" stroke-width="0.6"/><polygon points="390.0,85.0 390.9,90.2 390.5,90.5 389.6,87.7 388.9,83.9 388.8,82.0" fill="rgb(26,26,26)" stroke="#333" stroke-width="0.6"/><polygon points="388.7,72.4 389.9,69.7 390.2,65.5 389.8,64.4 388.7,70.0" fill="rgb(26,26,26)" stroke="#333" stroke-width="0.6"/><polygon points="406.8,36.9 406.9,37.8 406.3,38.4 401.0,43.2 400.9,43.3 403.3,39.9 403.4,39.8" fill="rgb(26,26,26)" stroke="#333" stroke-width="0.6"/><polygon points="498.1,58.7 496.7,55.8 496.8,56.3 497.6,59.9 499.7,65.8 499.4,62.7" fill="rgb(26,26,26)" stroke="#333" stroke-width="0.6"/><polygon points="393.3,95.8 392.0,93.5 391.6,93.8 393.5,98.5 395.9,102.0 395.9,101.7" fill="rgb(26,26,26)" stroke="#333" stroke-width="0.6"/><polygon points="413.9,31.5 409.1,35.0 409.2,35.9 413.4,33.3 416.4,30.7" fill="rgb(26,26,26)" stroke="#333" stroke-width="0.6"/><polygon points="440.2,128.4 434.7,128.8 441.4,129.8 443.4,129.8 444.9,129.7 443.9,129.0 441.3,128.4" fill="rgb(26,26,26)" stroke="#333" stroke-width="0.6"/><polygon points="427.1,25.4 429.3,24.9 431.1,25.2 426.0,27.0 422.4,27.9" fill="rgb(26,26,26)" stroke="#333" stroke-width="0.6"/><polygon points="501.0,79.2 500.7,80.2 500.1,74.8 500.1,73.0 500.4,71.0 501.2,75.7" fill="rgb(26,26,26)" stroke="#333" stroke-width="0.6"/><polygon points="390.9,62.9 393.2,57.4 392.8,55.6 391.3,59.1 390.5,61.9" fill="rgb(26,26,26)" stroke="#333" stroke-width="0.6"/><polygon points="492.0,105.7 494.5,101.1 494.0,101.4 490.2,105.9 490.0,106.4 488.5,110.1 488.5,110.1" fill="rgb(26,26,26)" stroke="#333" stroke-width="0.6"/><polygon points="460.3,24.8 465.6,26.7 466.1,27.4 465.2,27.4 458.1,25.3 456.3,24.2" fill="rgb(26,26,26)" stroke="#333" stroke-width="0.6"/><polygon points="427.6,126.0 422.5,124.8 421.7,124.8 423.5,125.9 426.6,127.0 430.6,127.9" fill="rgb(26,26,26)" stroke="#333" stroke-width="0.6"/><polygon points="481.2,37.5 484.2,39.0 482.9,37.0 479.9,34.7 477.9,33.8 480.3,36.7" fill="rgb(26,26,26)" stroke="#333" stroke-width="0.6"/><polygon points="394.8,54.6 394.4,54.9 394.0,53.1 394.7,51.8 398.3,46.8 398.4,46.8 397.5,50.7" fill="rgb(26,26,26)" stroke="#333" stroke-width="0.6"/><polygon points="448.3,128.7 453.5,127.8 457.4,127.2 458.4,128.0 455.2,128.8 449.4,129.5" fill="rgb(26,26,26)" stroke="#333" stroke-width="0.6"/><polygon points="388.7,75.3 389.9,72.6 390.0,72.8 390.6,79.3 390.6,80.4 389.9,82.3 388.7,79.4" fill="rgb(25,25,25)" stroke="#333" stroke-width="0.6"/><polygon points="498.1,93.6 498.7,89.1 497.7,89.6 496.0,94.0 495.6,98.0 496.1,97.7" fill="rgb(25,25,25)" stroke="#333" stroke-width="0.6"/><polygon points="492.6,48.0 494.7,52.0 494.7,52.5 490.8,48.8 490.6,48.6 489.7,45.2" fill="rgb(25,25,25)" stroke="#333" stroke-width="0.6"/><polygon points="468.5,122.9 469.0,123.5 464.1,126.4 461.7,127.1 460.7,126.2 462.2,125.3" fill="rgb(25,25,25)" stroke="#333" stroke-width="0.6"/><polygon points="453.5,23.8 455.4,25.0 454.4,25.1 448.3,24.1 446.7,23.2 446.8,23.1" fill="rgb(25,25,25)" stroke="#333" stroke-width="0.6"/><polygon points="438.5,128.0 430.9,126.1 429.7,126.4 432.7,128.3 432.9,128.3" fill="rgb(25,25,25)" stroke="#333" stroke-width="0.6"/><polygon points="471.9,121.1 472.5,121.7 476.0,120.5 480.1,117.4 479.2,116.9 473.0,120.0" fill="rgb(25,25,25)" stroke="#333" stroke-width="0.6"/><polygon points="410.5,117.2 410.6,117.2 411.9,117.5 416.8,120.3 419.1,123.0 418.4,123.0 411.7,119.0" fill="rgb(25,25,25)" stroke="#333" stroke-width="0.6"/><polygon points="486.4,112.3 482.5,115.3 481.7,114.8 483.6,112.1 487.8,108.5" fill="rgb(25,25,25)" stroke="#333" stroke-width="0.6"/><polygon points="401.1,106.5 406.6,113.8 406.5,113.9 400.2,108.4 398.7,105.6 398.6,105.4" fill="rgb(25,25,25)" stroke="#333" stroke-width="0.6"/><polygon points="500.4,81.5 499.5,85.1 498.5,85.6 497.9,82.2 498.1,80.8 499.7,76.1" fill="rgb(25,25,25)" stroke="#333" stroke-width="0.6"/><polygon points="444.0,23.2 436.6,24.7 438.6,25.5 443.8,25.5 445.6,24.2" fill="rgb(25,25,25)" stroke="#333" stroke-width="0.6"/><polygon points="478.4,35.7 471.9,32.9 469.9,31.6 469.5,29.7 470.4,29.7 476.0,32.8" fill="rgb(24,24,24)" stroke="#333" stroke-width="0.6"/><polygon points="499.2,69.8 496.8,66.4 496.9,61.3 497.4,61.1 499.5,67.0 499.6,67.8" fill="rgb(24,24,24)" stroke="#333" stroke-width="0.6"/><polygon points="492.3,54.3 491.4,50.5 495.4,54.3 496.2,57.9 495.8,58.0" fill="rgb(24,24,24)" stroke="#333" stroke-width="0.6"/><polygon points="482.8,39.6 483.8,42.7 489.0,46.9 488.0,43.6 485.8,41.1" fill="rgb(24,24,24)" stroke="#333" stroke-width="0.6"/><polygon points="390.9,68.1 391.1,63.9 393.4,58.4 393.8,58.0 393.8,63.5 393.3,65.2 391.0,68.3" fill="rgb(24,24,24)" stroke="#333" stroke-width="0.6"/><polygon points="400.5,48.1 405.0,43.2 405.9,39.6 400.6,44.5 399.6,48.4" fill="rgb(24,24,24)" stroke="#333" stroke-width="0.6"/><polygon points="490.6,104.3 490.6,100.9 492.4,98.0 494.8,95.8 494.3,99.8" fill="rgb(24,24,24)" stroke="#333" stroke-width="0.6"/><polygon points="427.6,124.7 426.4,125.1 421.3,123.8 419.0,121.1 421.2,121.3 427.2,124.1" fill="rgb(24,24,24)" stroke="#333" stroke-width="0.6"/><polygon points="448.0,24.5 454.1,25.4 453.1,26.7 449.7,27.4 446.2,25.8" fill="rgb(24,24,24)" stroke="#333" stroke-width="0.6"/><polygon points="394.9,92.2 394.7,89.6 391.6,83.8 390.9,85.8 391.8,91.0 393.1,93.3" fill="rgb(24,24,24)" stroke="#333" stroke-width="0.6"/><polygon points="417.5,33.1 416.1,32.5 419.2,30.0 420.7,29.3 424.3,28.3 424.1,30.5" fill="rgb(24,24,24)" stroke="#333" stroke-width="0.6"/><polygon points="400.2,102.3 400.1,101.0 396.2,95.2 394.4,96.3 397.0,102.3 399.5,103.4" fill="rgb(24,24,24)" stroke="#333" stroke-width="0.6"/><polygon points="456.1,27.4 457.1,26.1 458.0,26.0 465.1,28.1 465.5,30.0 464.1,30.0" fill="rgb(24,24,24)" stroke="#333" stroke-width="0.6"/><polygon points="427.0,27.5 426.8,29.7 427.8,29.9 433.3,27.9 435.0,26.5 433.0,25.7 432.1,25.8" fill="rgb(23,23,23)" stroke="#333" stroke-width="0.6"/><polygon points="445.6,125.8 450.5,124.7 452.3,127.2 447.1,128.2 444.5,127.6" fill="rgb(23,23,23)" stroke="#333" stroke-width="0.6"/><polygon points="402.8,105.6 408.9,111.8 408.9,114.3 407.6,114.0 402.1,106.7" fill="rgb(23,23,23)" stroke="#333" stroke-width="0.6"/><polygon points="452.2,124.3 452.0,124.4 453.7,126.9 457.6,126.3 459.1,125.4 456.3,123.4" fill="rgb(23,23,23)" stroke="#333" stroke-width="0.6"/><polygon points="495.7,72.6 496.0,69.1 496.7,68.8 499.1,72.2 499.1,73.9 497.4,78.6" fill="rgb(23,23,23)" stroke="#333" stroke-width="0.6"/><polygon points="479.9,112.1 481.6,112.9 479.7,115.6 473.5,118.8 473.3,117.2 473.8,116.2" fill="rgb(23,23,23)" stroke="#333" stroke-width="0.6"/><polygon points="413.7,37.5 414.3,35.4 412.9,34.8 408.8,37.4 408.2,38.0 407.4,41.6 407.9,41.5" fill="rgb(23,23,23)" stroke="#333" stroke-width="0.6"/><polygon points="495.1,65.3 492.0,60.6 491.7,57.4 492.5,56.2 495.9,59.9 495.8,65.0" fill="rgb(23,23,23)" stroke="#333" stroke-width="0.6"/><polygon points="488.4,106.6 488.1,107.1 483.8,110.7 482.1,109.8 482.6,108.7 486.9,104.0 488.4,103.3" fill="rgb(23,23,23)" stroke="#333" stroke-width="0.6"/><polygon points="436.9,123.3 441.6,125.5 440.5,127.3 439.5,127.3 431.8,125.4 431.4,124.8 433.9,123.2" fill="rgb(23,23,23)" stroke="#333" stroke-width="0.6"/><polygon points="398.5,52.3 399.3,54.8 397.7,58.6 395.0,62.0 395.0,56.5 397.7,52.6" fill="rgb(23,23,23)" stroke="#333" stroke-width="0.6"/><polygon points="480.4,41.1 480.9,41.0 479.9,37.8 479.0,37.0 472.5,34.2 475.6,39.2 476.3,39.8" fill="rgb(23,23,23)" stroke="#333" stroke-width="0.6"/><polygon points="459.2,122.2 468.9,119.3 469.1,120.9 468.1,122.0 461.8,124.4 459.0,122.3" fill="rgb(23,23,23)" stroke="#333" stroke-width="0.6"/><polygon points="393.5,68.5 395.7,72.7 395.7,73.1 395.0,75.5 391.7,78.1 391.1,71.6" fill="rgb(23,23,23)" stroke="#333" stroke-width="0.6"/><polygon points="493.9,87.1 492.3,91.0 492.8,95.3 495.2,93.1 496.9,88.7 496.3,85.3" fill="rgb(23,23,23)" stroke="#333" stroke-width="0.6"/><polygon points="414.1,113.6 418.0,115.5 419.2,116.9 419.2,119.4 416.9,119.2 412.0,116.3 412.0,113.9" fill="rgb(23,23,23)" stroke="#333" stroke-width="0.6"/><polygon points="483.5,44.8 484.0,44.6 489.2,48.8 489.3,49.0 490.2,52.8 489.5,53.9 485.7,50.1" fill="rgb(22,22,22)" stroke="#333" stroke-width="0.6"/><polygon points="442.7,30.5 439.6,30.3 436.4,28.0 438.0,26.6 443.2,26.6 446.7,28.2 446.6,28.5" fill="rgb(22,22,22)" stroke="#333" stroke-width="0.6"/><polygon points="392.1,81.8 395.2,87.5 397.0,85.6 397.0,84.9 395.5,78.2 392.2,80.7" fill="rgb(22,22,22)" stroke="#333" stroke-width="0.6"/><polygon points="418.6,37.3 424.9,33.8 425.0,31.8 424.0,31.6 417.4,34.1 416.7,36.2" fill="rgb(22,22,22)" stroke="#333" stroke-width="0.6"/><polygon points="427.3,119.5 430.7,121.9 428.2,123.4 422.1,120.6 422.2,118.0" fill="rgb(22,22,22)" stroke="#333" stroke-width="0.6"/><polygon points="452.2,29.1 452.2,28.8 455.6,28.2 463.6,30.7 460.6,33.1 458.9,32.7" fill="rgb(22,22,22)" stroke="#333" stroke-width="0.6"/><polygon points="401.0,49.4 405.6,44.5 406.2,44.4 408.2,47.5 408.1,47.9 405.4,51.1 401.8,51.9" fill="rgb(22,22,22)" stroke="#333" stroke-width="0.6"/><polygon points="428.7,32.8 431.0,33.5 437.5,31.1 434.2,28.8 428.7,30.8" fill="rgb(22,22,22)" stroke="#333" stroke-width="0.6"/><polygon points="403.6,104.8 409.7,111.0 411.7,110.8 409.9,105.4 404.6,103.0 403.4,103.4" fill="rgb(22,22,22)" stroke="#333" stroke-width="0.6"/><polygon points="410.2,45.7 408.2,42.6 413.9,38.6 415.8,39.6 415.7,40.2" fill="rgb(22,22,22)" stroke="#333" stroke-width="0.6"/><polygon points="494.6,74.3 491.7,76.2 490.9,79.2 493.7,83.5 496.1,81.7 496.3,80.3" fill="rgb(22,22,22)" stroke="#333" stroke-width="0.6"/><polygon points="473.1,38.8 466.2,37.1 463.6,34.7 466.7,32.3 468.1,32.4 470.1,33.7" fill="rgb(22,22,22)" stroke="#333" stroke-width="0.6"/><polygon points="398.1,60.6 400.6,64.7 397.1,69.8 394.9,65.7 395.3,64.0" fill="rgb(21,21,21)" stroke="#333" stroke-width="0.6"/><polygon points="490.6,92.7 487.5,94.0 485.8,98.1 487.9,100.7 489.3,100.0 491.1,97.0" fill="rgb(21,21,21)" stroke="#333" stroke-width="0.6"/><polygon points="397.1,93.6 396.8,91.0 398.6,89.1 402.2,93.5 402.2,98.9 401.0,99.4" fill="rgb(21,21,21)" stroke="#333" stroke-width="0.6"/><polygon points="459.2,121.1 469.0,118.2 469.5,117.3 466.9,114.6 460.1,118.0" fill="rgb(21,21,21)" stroke="#333" stroke-width="0.6"/><polygon points="439.3,122.4 441.8,119.7 445.4,119.8 449.1,123.2 448.9,123.4 444.0,124.5" fill="rgb(21,21,21)" stroke="#333" stroke-width="0.6"/><polygon points="481.7,107.6 486.1,102.9 484.0,100.3 481.2,101.9 478.9,104.7" fill="rgb(21,21,21)" stroke="#333" stroke-width="0.6"/><polygon points="479.7,109.5 479.2,110.7 473.2,114.8 470.6,112.2 470.8,111.6 475.9,107.0 476.9,106.7" fill="rgb(21,21,21)" stroke="#333" stroke-width="0.6"/><polygon points="493.9,71.3 494.2,67.7 491.0,63.0 488.9,64.2 488.8,68.1 491.0,73.2" fill="rgb(21,21,21)" stroke="#333" stroke-width="0.6"/><polygon points="404.8,59.8 404.4,54.2 400.8,55.0 399.3,58.8 401.8,63.0 403.3,62.4" fill="rgb(21,21,21)" stroke="#333" stroke-width="0.6"/><polygon points="481.6,44.3 483.8,49.6 480.9,50.6 477.2,48.2 477.6,43.0" fill="rgb(21,21,21)" stroke="#333" stroke-width="0.6"/><polygon points="487.1,60.0 489.2,58.9 489.0,55.7 485.1,51.8 482.3,52.8 484.3,58.0" fill="rgb(21,21,21)" stroke="#333" stroke-width="0.6"/><polygon points="455.7,121.5 456.6,118.3 452.3,116.6 452.1,116.6 447.7,119.1 451.4,122.5 455.5,121.6" fill="rgb(21,21,21)" stroke="#333" stroke-width="0.6"/><polygon points="492.4,86.0 490.8,89.8 487.7,91.1 485.7,87.6 488.3,82.5 489.5,81.7" fill="rgb(21,21,21)" stroke="#333" stroke-width="0.6"/><polygon points="435.9,121.2 438.4,118.6 435.8,116.1 431.8,114.9 429.6,118.8 432.9,121.2" fill="rgb(21,21,21)" stroke="#333" stroke-width="0.6"/><polygon points="447.0,35.1 446.2,32.1 450.1,30.2 456.9,33.8 452.1,36.4" fill="rgb(20,20,20)" stroke="#333" stroke-width="0.6"/><polygon points="427.2,117.8 422.1,116.4 420.8,115.1 423.5,111.8 424.8,111.6 427.8,112.4 429.5,113.9" fill="rgb(20,20,20)" stroke="#333" stroke-width="0.6"/><polygon points="402.5,81.6 401.8,78.2 397.8,75.0 397.1,77.4 398.6,84.1" fill="rgb(20,20,20)" stroke="#333" stroke-width="0.6"/><polygon points="412.5,106.0 414.3,111.4 418.2,113.4 420.9,110.1 413.3,105.5" fill="rgb(20,20,20)" stroke="#333" stroke-width="0.6"/><polygon points="428.7,38.5 428.2,35.8 425.9,35.1 419.6,38.6 419.5,39.2 423.0,41.9 424.3,41.5" fill="rgb(20,20,20)" stroke="#333" stroke-width="0.6"/><polygon points="404.3,94.7 404.3,100.1 409.5,102.5 410.3,102.0 411.2,98.4 411.0,98.0 406.7,94.1" fill="rgb(20,20,20)" stroke="#333" stroke-width="0.6"/><polygon points="442.5,35.5 439.5,38.0 436.5,38.5 432.6,37.5 432.2,34.8 438.6,32.4 441.7,32.6" fill="rgb(20,20,20)" stroke="#333" stroke-width="0.6"/><polygon points="474.4,41.4 473.7,40.8 466.7,39.2 466.2,42.1 473.1,46.9 474.0,46.7" fill="rgb(20,20,20)" stroke="#333" stroke-width="0.6"/><polygon points="411.7,46.6 411.6,46.9 416.5,48.5 417.8,47.9 420.6,43.8 417.1,41.0" fill="rgb(20,20,20)" stroke="#333" stroke-width="0.6"/><polygon points="403.1,91.7 399.5,87.2 399.5,86.5 403.4,84.0 405.7,85.7 405.6,91.1" fill="rgb(20,20,20)" stroke="#333" stroke-width="0.6"/><polygon points="403.5,66.6 402.0,67.2 398.5,72.3 398.5,72.8 402.6,76.0 405.7,71.6 405.7,71.3" fill="rgb(20,20,20)" stroke="#333" stroke-width="0.6"/><polygon points="483.5,90.1 485.5,93.6 483.8,97.7 481.1,99.3 479.2,93.9 482.4,90.4" fill="rgb(20,20,20)" stroke="#333" stroke-width="0.6"/><polygon points="454.1,37.8 455.4,39.6 460.9,41.5 462.7,40.9 463.2,38.0 460.6,35.5 459.0,35.2" fill="rgb(20,20,20)" stroke="#333" stroke-width="0.6"/><polygon points="409.9,49.5 407.1,52.7 407.5,58.4 411.8,57.0 414.8,51.1" fill="rgb(19,19,19)" stroke="#333" stroke-width="0.6"/><polygon points="465.8,113.0 458.9,116.3 454.7,114.6 459.8,110.0 461.9,109.4 465.9,112.4" fill="rgb(19,19,19)" stroke="#333" stroke-width="0.6"/><polygon points="487.2,69.5 489.3,74.6 488.5,77.6 487.3,78.4 482.2,73.7 483.0,71.6" fill="rgb(19,19,19)" stroke="#333" stroke-width="0.6"/><polygon points="443.6,111.4 439.2,114.9 441.8,117.4 445.4,117.5 449.8,115.0 445.8,111.3" fill="rgb(19,19,19)" stroke="#333" stroke-width="0.6"/><polygon points="478.6,59.6 474.5,52.8 475.5,50.9 476.5,50.6 480.2,53.1 482.3,58.2" fill="rgb(19,19,19)" stroke="#333" stroke-width="0.6"/><polygon points="480.0,62.5 483.6,61.2 486.4,63.2 486.3,67.1 482.1,69.2 479.8,63.0" fill="rgb(19,19,19)" stroke="#333" stroke-width="0.6"/><polygon points="422.8,108.4 420.0,101.4 414.8,100.5 413.9,104.1 421.5,108.7" fill="rgb(19,19,19)" stroke="#333" stroke-width="0.6"/><polygon points="472.5,99.4 476.0,103.6 477.0,103.3 479.4,100.5 477.5,95.1 475.0,95.7" fill="rgb(19,19,19)" stroke="#333" stroke-width="0.6"/><polygon points="466.8,102.3 470.4,101.1 474.0,105.4 468.8,110.0 464.9,107.0" fill="rgb(19,19,19)" stroke="#333" stroke-width="0.6"/><polygon points="409.9,78.9 408.0,82.2 406.8,82.7 404.5,81.0 403.8,77.6 406.9,73.2" fill="rgb(19,19,19)" stroke="#333" stroke-width="0.6"/><polygon points="483.5,85.7 486.1,80.7 481.0,76.0 480.2,76.4 478.3,81.1 482.4,86.0" fill="rgb(19,19,19)" stroke="#333" stroke-width="0.6"/><polygon points="465.0,43.6 463.3,44.3 462.6,49.1 467.0,51.8 470.9,50.4 471.9,48.4" fill="rgb(19,19,19)" stroke="#333" stroke-width="0.6"/><polygon points="445.8,37.3 442.8,39.7 447.3,45.1 449.0,44.7 452.2,40.4 450.9,38.6" fill="rgb(19,19,19)" stroke="#333" stroke-width="0.6"/><polygon points="430.6,40.2 426.1,43.2 431.4,47.8 432.3,47.3 434.4,41.2" fill="rgb(18,18,18)" stroke="#333" stroke-width="0.6"/><polygon points="408.0,91.9 408.2,86.5 409.4,86.0 413.8,89.8 412.3,95.8" fill="rgb(18,18,18)" stroke="#333" stroke-width="0.6"/><polygon points="412.7,67.3 413.9,62.5 411.8,60.5 407.5,61.8 406.0,64.4 408.2,69.1" fill="rgb(18,18,18)" stroke="#333" stroke-width="0.6"/><polygon points="451.8,105.9 457.9,108.9 452.7,113.5 452.5,113.5 448.5,109.8" fill="rgb(18,18,18)" stroke="#333" stroke-width="0.6"/><polygon points="436.9,106.2 433.5,107.1 431.2,110.7 432.9,112.2 436.9,113.4 441.3,109.9" fill="rgb(18,18,18)" stroke="#333" stroke-width="0.6"/><polygon points="420.6,48.8 425.3,51.8 427.9,51.5 430.0,48.9 424.7,44.2 423.5,44.7" fill="rgb(18,18,18)" stroke="#333" stroke-width="0.6"/><polygon points="451.5,45.8 454.6,41.5 460.2,43.4 459.5,48.2 458.3,48.4" fill="rgb(18,18,18)" stroke="#333" stroke-width="0.6"/><polygon points="430.4,105.5 428.1,109.1 425.1,108.3 422.4,101.3 425.1,99.6" fill="rgb(18,18,18)" stroke="#333" stroke-width="0.6"/><polygon points="477.0,60.4 472.9,53.6 469.0,55.1 469.1,59.9 472.8,62.1 476.8,60.9" fill="rgb(18,18,18)" stroke="#333" stroke-width="0.6"/><polygon points="417.2,51.8 418.5,51.2 423.1,54.3 419.3,59.3 416.3,59.7 414.2,57.7" fill="rgb(18,18,18)" stroke="#333" stroke-width="0.6"/><polygon points="480.6,88.1 476.5,83.2 473.8,84.3 471.9,87.7 475.0,92.3 477.4,91.6" fill="rgb(18,18,18)" stroke="#333" stroke-width="0.6"/><polygon points="474.5,69.9 478.6,72.5 479.5,72.0 480.3,69.9 477.9,63.8 473.9,64.9" fill="rgb(18,18,18)" stroke="#333" stroke-width="0.6"/><polygon points="435.0,47.6 442.9,48.7 444.7,46.4 440.1,41.0 437.2,41.5" fill="rgb(18,18,18)" stroke="#333" stroke-width="0.6"/><polygon points="414.3,96.8 415.8,90.7 420.2,89.7 423.1,95.0 422.5,96.3 419.7,98.0 414.5,97.1" fill="rgb(18,18,18)" stroke="#333" stroke-width="0.6"/><polygon points="413.2,69.8 416.8,73.5 415.6,76.6 411.6,77.6 408.6,71.8 408.7,71.5" fill="rgb(18,18,18)" stroke="#333" stroke-width="0.6"/><polygon points="463.5,101.9 461.5,106.6 459.4,107.2 453.3,104.2 453.3,103.8 455.9,99.8 460.1,99.1" fill="rgb(18,18,18)" stroke="#333" stroke-width="0.6"/><polygon points="412.3,81.0 410.5,84.3 414.9,88.0 419.3,86.9 419.6,85.5 416.3,80.0" fill="rgb(18,18,18)" stroke="#333" stroke-width="0.6"/><polygon points="439.0,104.8 443.3,108.5 445.6,108.4 448.8,104.5 448.8,104.2 440.5,101.3" fill="rgb(17,17,17)" stroke="#333" stroke-width="0.6"/><polygon points="469.4,89.7 472.5,94.3 469.9,97.9 466.4,99.1 463.0,96.2 465.5,90.7" fill="rgb(17,17,17)" stroke="#333" stroke-width="0.6"/><polygon points="435.5,103.6 432.1,104.5 426.8,98.5 427.4,97.1 433.7,96.5 437.0,99.8 437.0,100.1" fill="rgb(17,17,17)" stroke="#333" stroke-width="0.6"/><polygon points="415.0,67.7 418.6,71.5 421.3,70.0 422.9,66.9 419.2,62.5 416.2,62.9" fill="rgb(17,17,17)" stroke="#333" stroke-width="0.6"/><polygon points="468.2,75.0 473.3,72.3 477.5,75.0 475.6,79.7 472.9,80.7" fill="rgb(17,17,17)" stroke="#333" stroke-width="0.6"/><polygon points="447.0,50.8 448.8,48.5 450.5,48.1 457.3,50.7 454.6,55.2 449.9,56.0 447.4,53.7" fill="rgb(17,17,17)" stroke="#333" stroke-width="0.6"/><polygon points="462.3,61.2 465.3,59.3 465.3,54.5 460.8,51.7 459.7,51.9 457.0,56.5" fill="rgb(17,17,17)" stroke="#333" stroke-width="0.6"/><polygon points="464.5,65.5 464.8,64.7 467.8,62.8 471.6,65.0 472.1,69.9 467.0,72.6 466.9,72.6" fill="rgb(17,17,17)" stroke="#333" stroke-width="0.6"/><polygon points="430.6,59.9 428.5,63.6 425.1,65.0 421.4,60.6 425.2,55.6 427.8,55.3" fill="rgb(17,17,17)" stroke="#333" stroke-width="0.6"/><polygon points="434.1,57.9 435.7,57.8 442.6,54.2 442.2,51.3 434.3,50.2 433.4,50.7 431.3,53.3" fill="rgb(17,17,17)" stroke="#333" stroke-width="0.6"/><polygon points="452.4,98.3 448.9,94.5 441.4,99.2 441.4,99.4 449.7,102.3" fill="rgb(17,17,17)" stroke="#333" stroke-width="0.6"/><polygon points="462.3,79.3 461.9,83.9 464.9,87.0 468.9,86.0 470.9,82.6 466.2,76.9 466.1,76.9" fill="rgb(16,16,16)" stroke="#333" stroke-width="0.6"/><polygon points="420.3,75.1 423.1,73.6 427.3,77.4 425.2,82.4 422.4,83.7 419.1,78.2" fill="rgb(16,16,16)" stroke="#333" stroke-width="0.6"/><polygon points="424.0,86.7 426.7,85.5 434.9,87.4 432.9,92.8 426.6,93.5 423.7,88.2" fill="rgb(16,16,16)" stroke="#333" stroke-width="0.6"/><polygon points="453.9,88.3 459.1,86.5 462.1,89.6 459.6,95.2 455.5,95.9 452.0,92.2 451.9,91.6" fill="rgb(16,16,16)" stroke="#333" stroke-width="0.6"/><polygon points="454.2,65.8 450.6,61.6 450.7,58.9 455.4,58.1 460.7,62.8 460.4,63.6" fill="rgb(16,16,16)" stroke="#333" stroke-width="0.6"/><polygon points="436.8,94.2 440.1,97.6 447.6,92.9 447.5,92.4 439.2,88.5 438.8,88.8" fill="rgb(16,16,16)" stroke="#333" stroke-width="0.6"/><polygon points="446.5,61.5 446.6,58.8 444.0,56.4 437.1,60.1 442.1,64.5" fill="rgb(16,16,16)" stroke="#333" stroke-width="0.6"/><polygon points="460.1,75.9 454.2,73.1 455.4,68.5 461.5,66.4 463.9,73.5" fill="rgb(16,16,16)" stroke="#333" stroke-width="0.6"/><polygon points="429.0,75.5 433.4,75.2 434.1,71.5 429.9,67.2 426.4,68.6 424.9,71.7" fill="rgb(16,16,16)" stroke="#333" stroke-width="0.6"/><polygon points="427.2,83.3 429.3,78.3 433.7,78.0 436.6,81.7 435.7,84.9 435.3,85.2" fill="rgb(16,16,16)" stroke="#333" stroke-width="0.6"/><polygon points="434.1,61.5 435.7,61.4 440.8,65.8 440.3,67.7 436.2,69.5 432.0,65.3" fill="rgb(16,16,16)" stroke="#333" stroke-width="0.6"/><polygon points="458.5,79.1 452.6,76.3 450.5,77.2 449.0,79.4 452.9,85.5 458.1,83.7" fill="rgb(16,16,16)" stroke="#333" stroke-width="0.6"/><polygon points="446.9,80.7 450.8,86.8 448.8,90.1 440.5,86.2 441.4,82.9" fill="rgb(16,16,16)" stroke="#333" stroke-width="0.6"/><polygon points="450.6,72.2 448.5,73.1 443.3,68.4 443.8,66.5 448.1,63.5 451.7,67.6" fill="rgb(16,16,16)" stroke="#333" stroke-width="0.6"/><polygon points="445.2,77.1 446.8,74.9 441.5,70.1 437.4,72.0 436.8,75.7 439.8,79.4" fill="rgb(16,16,16)" stroke="#333" stroke-width="0.6"/></g><ellipse cx="444.8" cy="76.3" rx="56.1" ry="53.2" fill="none" stroke="#3a3a3a" stroke-width="1"/><path d="M418.5,98.6 L417.7,93.6 L416.9,88.7 L416.7,81.2 L417.1,73.8 L418.2,67.6 L419.9,62.6 L422.6,57.7 L426.6,52.7 L430.9,49.0 L435.9,45.9 L445.2,44.0 L454.5,45.9 L459.5,49.0 L463.8,52.7 L467.8,57.7 L470.5,62.6 L472.2,67.6 L473.3,73.8 L473.7,81.2 L473.5,88.7 L472.7,93.6 L471.9,98.6 Z" fill="#202020"/><g stroke="#585858" stroke-width="1.8"><line x1="423.7" y1="95.0" x2="418.5" y2="98.6"/><line x1="423.0" y1="91.0" x2="417.7" y2="93.6"/><line x1="422.4" y1="87.0" x2="416.9" y2="88.7"/><line x1="422.2" y1="81.0" x2="416.7" y2="81.2"/><line x1="422.5" y1="75.0" x2="417.1" y2="73.8"/><line x1="423.4" y1="70.0" x2="418.2" y2="67.6"/><line x1="424.8" y1="66.0" x2="419.9" y2="62.6"/><line x1="427.0" y1="62.0" x2="422.6" y2="57.7"/><line x1="430.2" y1="58.0" x2="426.6" y2="52.7"/><line x1="433.7" y1="55.0" x2="430.9" y2="49.0"/><line x1="437.7" y1="52.5" x2="435.9" y2="45.9"/><line x1="445.2" y1="51.0" x2="445.2" y2="44.0"/><line x1="452.7" y1="52.5" x2="454.5" y2="45.9"/><line x1="456.7" y1="55.0" x2="459.5" y2="49.0"/><line x1="460.2" y1="58.0" x2="463.8" y2="52.7"/><line x1="463.4" y1="62.0" x2="467.8" y2="57.7"/><line x1="465.6" y1="66.0" x2="470.5" y2="62.6"/><line x1="467.0" y1="70.0" x2="472.2" y2="67.6"/><line x1="467.9" y1="75.0" x2="473.3" y2="73.8"/><line x1="468.2" y1="81.0" x2="473.7" y2="81.2"/><line x1="468.0" y1="87.0" x2="473.5" y2="88.7"/><line x1="467.4" y1="91.0" x2="472.7" y2="93.6"/><line x1="466.7" y1="95.0" x2="471.9" y2="98.6"/></g><path d="M421.3,96.7 L420.6,92.2 L419.9,87.8 L419.7,81.1 L420.0,74.5 L421.0,68.9 L422.6,64.5 L425.0,60.0 L428.6,55.6 L432.4,52.2 L436.9,49.5 L445.2,47.8 L453.5,49.5 L458.0,52.2 L461.8,55.6 L465.4,60.0 L467.8,64.5 L469.4,68.9 L470.4,74.5 L470.7,81.1 L470.5,87.8 L469.8,92.2 L469.1,96.7 Z" fill="none" stroke="#2c2c2c" stroke-width="0.9"/><path d="M423.7,95.0 L423.0,91.0 L422.4,87.0 L422.2,81.0 L422.5,75.0 L423.4,70.0 L424.8,66.0 L427.0,62.0 L430.2,58.0 L433.7,55.0 L437.7,52.5 L445.2,51.0 L452.7,52.5 L456.7,55.0 L460.2,58.0 L463.4,62.0 L465.6,66.0 L467.0,70.0 L467.9,75.0 L468.2,81.0 L468.0,87.0 L467.4,91.0 L466.7,95.0 Z" fill="url(#gBlue)"/><g fill="#3a3a3a"><rect x="426" y="91.5" width="6" height="4"/><rect x="437" y="90.5" width="8.5" height="5"/><rect x="451" y="91" width="7" height="4.5"/><rect x="461" y="91.8" width="5.5" height="3.8"/></g><g fill="#5a5a5a"><rect x="427" y="92.3" width="3" height="1.1"/><rect x="439" y="91.3" width="4.5" height="1.1"/><rect x="453" y="91.8" width="3" height="1.1"/><rect x="462.5" y="92.5" width="3" height="1.1"/></g><text x="393.5" y="155.2" style="font-family:&quot;Liberation Sans&quot;,sans-serif;font-weight:bold;font-size:10px" fill="#222" stroke="#222" stroke-width="0.25" textLength="73.3" lengthAdjust="spacingAndGlyphs">NiFe<tspan font-size="7.5px">2</tspan>O<tspan font-size="7.5px">4</tspan>@Ni@C</text><text x="10.6" y="187.8" style="font-family:&quot;Liberation Serif&quot;,serif;font-size:20px" fill="#111">(b)</text><g stroke="#e2e2e2" stroke-width="0.6" fill="none"><line x1="73.3" y1="199" x2="73.3" y2="293"/><line x1="93.6" y1="196" x2="93.6" y2="286"/><line x1="114.8" y1="192.5" x2="114.8" y2="278.3"/><line x1="140" y1="197" x2="140" y2="285"/><line x1="165" y1="205" x2="165" y2="292"/><line x1="50" y1="253" x2="114.8" y2="235"/><line x1="114.8" y1="235" x2="189" y2="250"/></g><g stroke="#c4c4c4" stroke-width="0.7" fill="none"><line x1="146.2" y1="196.2" x2="189" y2="201.5"/><line x1="189.4" y1="201.5" x2="189.4" y2="299"/></g><line x1="49.3" y1="203.5" x2="50.2" y2="303" stroke="#8a8a8a" stroke-width="0.8"/><text x="47.6" y="206.7" text-anchor="end" style="font-family:&quot;Liberation Serif&quot;,serif;font-weight:bold;font-size:7.2px" fill="#333">0</text><line x1="48" y1="204.2" x2="50" y2="204.2" stroke="#777" stroke-width="0.5"/><text x="47.6" y="222.0" text-anchor="end" style="font-family:&quot;Liberation Serif&quot;,serif;font-weight:bold;font-size:7.2px" fill="#333">-10</text><line x1="48" y1="219.5" x2="50" y2="219.5" stroke="#777" stroke-width="0.5"/><text x="47.6" y="236.7" text-anchor="end" style="font-family:&quot;Liberation Serif&quot;,serif;font-weight:bold;font-size:7.2px" fill="#333">-20</text><line x1="48" y1="234.2" x2="50" y2="234.2" stroke="#777" stroke-width="0.5"/><text x="47.6" y="251.5" text-anchor="end" style="font-family:&quot;Liberation Serif&quot;,serif;font-weight:bold;font-size:7.2px" fill="#333">-30</text><line x1="48" y1="249" x2="50" y2="249" stroke="#777" stroke-width="0.5"/><text x="47.6" y="266.1" text-anchor="end" style="font-family:&quot;Liberation Serif&quot;,serif;font-weight:bold;font-size:7.2px" fill="#333">-40</text><line x1="48" y1="263.6" x2="50" y2="263.6" stroke="#777" stroke-width="0.5"/><text x="47.6" y="279.2" text-anchor="end" style="font-family:&quot;Liberation Serif&quot;,serif;font-weight:bold;font-size:7.2px" fill="#333">-50</text><line x1="48" y1="276.7" x2="50" y2="276.7" stroke="#777" stroke-width="0.5"/><text x="47.6" y="292.9" text-anchor="end" style="font-family:&quot;Liberation Serif&quot;,serif;font-weight:bold;font-size:7.2px" fill="#333">-60</text><line x1="48" y1="290.4" x2="50" y2="290.4" stroke="#777" stroke-width="0.5"/><text x="47.6" y="305.3" text-anchor="end" style="font-family:&quot;Liberation Serif&quot;,serif;font-weight:bold;font-size:7.2px" fill="#333">-70</text><line x1="48" y1="302.8" x2="50" y2="302.8" stroke="#777" stroke-width="0.5"/><text transform="translate(34.5,226) rotate(90)" style="font-family:&quot;Liberation Serif&quot;,serif;font-weight:bold;font-size:6px" fill="#444" textLength="67" lengthAdjust="spacingAndGlyphs">Reflection Loss (dB)</text><polygon points="52,302.2 114.9,278.3 187.3,298.8 127,330.8" fill="#2b7b1b"/><g opacity="0.55" stroke-linecap="round" fill="none"><path d="M118,283 L176,306" stroke="#4f9c38" stroke-width="3"/><path d="M104,288 L162,313" stroke="#449230" stroke-width="2.5"/><path d="M128,281 L182,300" stroke="#5aa540" stroke-width="2"/></g><g stroke="#3d8b2b" stroke-width="0.5" opacity="0.9"><line x1="70" y1="295.3" x2="141.5" y2="323.2"/><line x1="90" y1="287.8" x2="160" y2="313.3"/><line x1="67.7" y1="308.7" x2="131" y2="284.2"/><line x1="85" y1="316" x2="149" y2="289"/><line x1="108.4" y1="324.5" x2="168" y2="294"/></g><g fill="#68a848" stroke="#d8ecb0" stroke-width="0.5" opacity="0.75"><ellipse cx="143.8" cy="292" rx="9" ry="2.4" transform="rotate(-20 143.8 292)"/><ellipse cx="154" cy="298.8" rx="11.5" ry="2.6" transform="rotate(-22 154 298.8)"/><ellipse cx="165.3" cy="303.7" rx="12.5" ry="2.3" transform="rotate(-27 165.3 303.7)"/></g><g fill="#b0d070" opacity="0.6"><ellipse cx="154" cy="298.8" rx="7" ry="1.3" transform="rotate(-22 154 298.8)"/><ellipse cx="165.3" cy="303.7" rx="8" ry="1.1" transform="rotate(-27 165.3 303.7)"/></g><circle cx="156.5" cy="297" r="0.9" fill="#a03010"/><polygon points="50,203.3 112,192.3 130,196.9 137.7,197.3 140.2,198.3 146.2,198.3 147,202.9 147.9,204.6 161.5,206.3 165.7,205.4 168.3,207.1 171.7,206.3 177.6,208 186.2,207.1 188.7,208.8 188.7,212.2 182.7,216.5 174.2,222.4 166.6,229.6 163.2,231 161.5,236 159.8,239.5 158.4,245 157.4,245 155.5,236 152,227.5 147,220.7 142,217.3 130,216.5 100,213.7" fill="#1f6f16"/><g fill="#3f8f2a" opacity="0.8" filter="url(#blur1)"><polygon points="130,205 146,206 147.9,204.6 161.5,206.3 165.7,205.4 168.3,207.1 171.7,206.3 177.6,208 186.2,207.1 188.7,208.8 188.7,212.2 182.7,216.5 170,215 158,213 146,212 132,210"/></g><g fill="#2e7e1e" opacity="0.9" filter="url(#blur1)"><polygon points="120,200 146,202 147,202.9 147.9,204.6 140,205 120,204"/></g><polygon points="142,217.3 150,214.5 160,214 172,214.5 182.7,216.5 174.2,222.4 166.6,229.6 163.2,231 161.5,236 159.8,239.5 158.4,245 157.4,245 155.5,236 152,227.5 147,220.7" fill="url(#gDip)"/><polygon points="156.4,240 159.6,240 158.4,252 158.1,287 157.7,287 157.2,252" fill="url(#gSpike)"/><rect x="190.6" y="198.7" width="6.8" height="92.2" fill="url(#gCbar)"/><line x1="197.4" y1="199.8" x2="199" y2="199.8" stroke="#333" stroke-width="0.5"/><text x="199.6" y="202.0" style="font-family:&quot;Liberation Serif&quot;,serif;font-weight:bold;font-size:6.4px" fill="#222" textLength="15" lengthAdjust="spacingAndGlyphs">0.000</text><line x1="197.4" y1="218.2" x2="199" y2="218.2" stroke="#333" stroke-width="0.5"/><text x="199.6" y="220.4" style="font-family:&quot;Liberation Serif&quot;,serif;font-weight:bold;font-size:6.4px" fill="#222" textLength="19" lengthAdjust="spacingAndGlyphs">-13.08</text><line x1="197.4" y1="236.3" x2="199" y2="236.3" stroke="#333" stroke-width="0.5"/><text x="199.6" y="238.5" style="font-family:&quot;Liberation Serif&quot;,serif;font-weight:bold;font-size:6.4px" fill="#222" textLength="19" lengthAdjust="spacingAndGlyphs">-26.16</text><line x1="197.4" y1="254.3" x2="199" y2="254.3" stroke="#333" stroke-width="0.5"/><text x="199.6" y="256.5" style="font-family:&quot;Liberation Serif&quot;,serif;font-weight:bold;font-size:6.4px" fill="#222" textLength="19" lengthAdjust="spacingAndGlyphs">-39.24</text><line x1="197.4" y1="272" x2="199" y2="272" stroke="#333" stroke-width="0.5"/><text x="199.6" y="274.2" style="font-family:&quot;Liberation Serif&quot;,serif;font-weight:bold;font-size:6.4px" fill="#222" textLength="19" lengthAdjust="spacingAndGlyphs">-52.32</text><line x1="197.4" y1="290.8" x2="199" y2="290.8" stroke="#333" stroke-width="0.5"/><text x="199.6" y="293.0" style="font-family:&quot;Liberation Serif&quot;,serif;font-weight:bold;font-size:6.4px" fill="#222" textLength="19" lengthAdjust="spacingAndGlyphs">-65.40</text><text x="169.5" y="192" style="font-family:&quot;Liberation Serif&quot;,serif;font-weight:bold;font-size:6px" fill="#222" textLength="51" lengthAdjust="spacingAndGlyphs">Reflection Loss (dB)</text><text x="57.3" y="245.6" style="font-family:&quot;Liberation Serif&quot;,serif;font-weight:bold;font-size:7.6px" fill="#333">d=4.95 mm</text><text x="57.3" y="256.0" style="font-family:&quot;Liberation Serif&quot;,serif;font-weight:bold;font-size:7.6px" fill="#333">EAB=3.68 GHz</text><text x="57.3" y="276.8" style="font-family:&quot;Liberation Serif&quot;,serif;font-weight:bold;font-size:7.6px" fill="#333">(13.63 GHz)</text><text x="57.3" y="265.6" style="font-family:&quot;Liberation Serif&quot;,serif;font-weight:bold;font-size:7.6px" fill="#333" textLength="57" lengthAdjust="spacingAndGlyphs">RL<tspan font-size="6.2px" dy="2">min</tspan><tspan dy="-2">=-65.33 dB</tspan></text><text transform="translate(56,316) rotate(21.5)" style="font-family:&quot;Liberation Serif&quot;,serif;font-weight:bold;font-size:8.2px" fill="#333" stroke="#333" stroke-width="0.2" textLength="55.5" lengthAdjust="spacingAndGlyphs">Frequency (GHz)</text><text transform="translate(146.5,336.5) rotate(-30.5)" style="font-family:&quot;Liberation Serif&quot;,serif;font-weight:bold;font-size:8.2px" fill="#333" stroke="#333" stroke-width="0.2" textLength="52" lengthAdjust="spacingAndGlyphs">Thickness (mm)</text><g stroke="#555" stroke-width="0.5"><line x1="67.6" y1="310" x2="67.6" y2="312"/><line x1="85" y1="317" x2="85" y2="319"/><line x1="108.4" y1="325" x2="108.4" y2="327"/><line x1="152.6" y1="315.5" x2="152.6" y2="317.5"/><line x1="170.4" y1="307.5" x2="170.4" y2="309.5"/><line x1="187.3" y1="298.8" x2="189.5" y2="299.8"/></g><text x="226.2" y="188.2" style="font-family:&quot;Liberation Serif&quot;,serif;font-size:20px" fill="#111">(c)</text><g clip-path="url(#clipTem)"><rect x="241.5" y="194.5" width="127" height="130.5" fill="#686868"/><g filter="url(#blur6)"><ellipse cx="252" cy="205" rx="22" ry="18" fill="#808080"/><ellipse cx="358" cy="215" rx="14" ry="22" fill="#747474"/><ellipse cx="300" cy="250" rx="50" ry="46" fill="#535353"/><ellipse cx="318" cy="226" rx="22" ry="13" fill="#3e3e3e"/><ellipse cx="358" cy="280" rx="10" ry="40" fill="#6c6c6c"/><ellipse cx="250" cy="318" rx="14" ry="12" fill="#5a5a5a"/></g><circle cx="302" cy="268" r="22" fill="#a4a4a4" filter="url(#blur3)"/><path d="M242,258 C246,238 258,219 275,208.5 C286,202.5 296,200 306,199.5" stroke="#8e8e8e" stroke-width="3.2" fill="none" filter="url(#blur1)"/><path d="M300,292 C315,292 328,300 334,314" stroke="#7c7c7c" stroke-width="2.5" fill="none" filter="url(#blur1)"/><rect x="241.5" y="194.5" width="127" height="130.5" fill="#fff" filter="url(#noise)" opacity="0.24"/></g><g stroke="#22dd22" stroke-linecap="round"><line x1="293.2" y1="202.3" x2="296.8" y2="211.3" stroke-width="1.3"/><line x1="298.8" y1="218" x2="303.2" y2="228" stroke-width="1.3"/><line x1="291" y1="216.8" x2="305.8" y2="211.9" stroke-width="3.2"/></g><circle cx="296.8" cy="211.3" r="1.3" fill="#22dd22"/><circle cx="298.8" cy="218" r="1.3" fill="#22dd22"/><g stroke="#e6e6e6" stroke-linecap="round"><line x1="339" y1="246.4" x2="343.7" y2="255.3" stroke-width="1"/><line x1="347.1" y1="262" x2="351.3" y2="269.3" stroke-width="1"/><line x1="338.8" y1="261.6" x2="352.8" y2="255" stroke-width="3.4" stroke="#cfcfcf"/><line x1="304.9" y1="301.2" x2="301.5" y2="308.5" stroke-width="1"/><line x1="299.5" y1="313" x2="296.2" y2="323.7" stroke-width="1"/><line x1="293.9" y1="309.5" x2="308.3" y2="316.4" stroke-width="3" stroke="#cfcfcf"/></g><g stroke="#8a8a8a" stroke-width="0.4"><line x1="338.8" y1="261.6" x2="352.8" y2="255"/><line x1="293.9" y1="309.5" x2="308.3" y2="316.4"/></g><circle cx="343.7" cy="255.3" r="1.2" fill="#f4f4f4"/><circle cx="347.1" cy="262" r="1.2" fill="#f4f4f4"/><circle cx="301.5" cy="308.6" r="1.1" fill="#f4f4f4"/><circle cx="299.6" cy="313" r="1.1" fill="#f4f4f4"/><text x="252.4" y="213.8" style="font-family:&quot;Liberation Serif&quot;,serif;font-weight:bold;font-size:7.4px" fill="#22dd22" stroke="#22dd22" stroke-width="0.25" textLength="31" lengthAdjust="spacingAndGlyphs">0.203 nm</text><text x="255.2" y="221.5" style="font-family:&quot;Liberation Serif&quot;,serif;font-weight:bold;font-size:7.4px" fill="#22dd22" stroke="#22dd22" stroke-width="0.25" textLength="25.7" lengthAdjust="spacingAndGlyphs">Fe(110)</text><text x="324" y="276.5" style="font-family:&quot;Liberation Serif&quot;,serif;font-weight:bold;font-size:7.4px" fill="#f4f4f4" stroke="#f4f4f4" stroke-width="0.2" textLength="31.5" lengthAdjust="spacingAndGlyphs">0.253 nm</text><text x="320" y="284.5" style="font-family:&quot;Liberation Serif&quot;,serif;font-weight:bold;font-size:7.4px" fill="#f4f4f4" stroke="#f4f4f4" stroke-width="0.2" textLength="35.6" lengthAdjust="spacingAndGlyphs">Fe<tspan font-size="5px">3</tspan>O<tspan font-size="5px">4</tspan>(311)</text><text x="252" y="309.5" style="font-family:&quot;Liberation Serif&quot;,serif;font-weight:bold;font-size:7.4px" fill="#f4f4f4" stroke="#f4f4f4" stroke-width="0.2" textLength="31.8" lengthAdjust="spacingAndGlyphs">0.210 nm</text><text x="249" y="316.5" style="font-family:&quot;Liberation Serif&quot;,serif;font-weight:bold;font-size:7.4px" fill="#f4f4f4" stroke="#f4f4f4" stroke-width="0.2" textLength="39" lengthAdjust="spacingAndGlyphs">Fe<tspan font-size="5px">3</tspan>O<tspan font-size="5px">4</tspan>(400)</text><text x="335" y="313" style="font-family:&quot;Liberation Serif&quot;,serif;font-weight:bold;font-size:13px" fill="#fff">5 nm</text><rect x="335.7" y="317" width="26.5" height="2.8" fill="#fff"/><text x="360.7" y="187.7" style="font-family:&quot;Liberation Serif&quot;,serif;font-size:20px" fill="#111">(d)</text><line x1="503.0" y1="206.1" x2="503.0" y2="329.4" stroke="#c8c8c8" stroke-width="0.5"/><line x1="395" y1="263.2" x2="503.0" y2="263.2" stroke="#c8c8c8" stroke-width="0.5"/><line x1="473.2" y1="206.1" x2="473.2" y2="329.4" stroke="#c8c8c8" stroke-width="0.5"/><line x1="395" y1="259.1" x2="473.2" y2="259.1" stroke="#c8c8c8" stroke-width="0.5"/><line x1="455.1" y1="207.8" x2="455.1" y2="329.4" stroke="#c8c8c8" stroke-width="0.5"/><line x1="395" y1="254.9" x2="455.1" y2="254.9" stroke="#c8c8c8" stroke-width="0.5"/><line x1="442.5" y1="207.8" x2="442.5" y2="329.4" stroke="#c8c8c8" stroke-width="0.5"/><line x1="395" y1="250.8" x2="442.5" y2="250.8" stroke="#c8c8c8" stroke-width="0.5"/><line x1="432.5" y1="210.2" x2="432.5" y2="329.4" stroke="#c8c8c8" stroke-width="0.5"/><line x1="395" y1="246.6" x2="432.5" y2="246.6" stroke="#c8c8c8" stroke-width="0.5"/><line x1="426.7" y1="221.4" x2="426.7" y2="329.4" stroke="#c8c8c8" stroke-width="0.5"/><line x1="395" y1="243.3" x2="426.7" y2="243.3" stroke="#c8c8c8" stroke-width="0.5"/><line x1="425.3" y1="218.2" x2="425.3" y2="329.4" stroke="#c8c8c8" stroke-width="0.5"/><line x1="395" y1="242.5" x2="425.3" y2="242.5" stroke="#c8c8c8" stroke-width="0.5"/><line x1="424.4" y1="228.6" x2="424.4" y2="329.4" stroke="#c8c8c8" stroke-width="0.5"/><line x1="395" y1="241.6" x2="424.4" y2="241.6" stroke="#c8c8c8" stroke-width="0.5"/><line x1="419.9" y1="211.0" x2="419.9" y2="329.4" stroke="#c8c8c8" stroke-width="0.5"/><line x1="395" y1="238.3" x2="419.9" y2="238.3" stroke="#c8c8c8" stroke-width="0.5"/><line x1="395" y1="282.3" x2="541" y2="282.3" stroke="#7ad87a" stroke-width="0.6" stroke-dasharray="1.2,1.2"/><line x1="395" y1="292.5" x2="541" y2="292.5" stroke="#7ad87a" stroke-width="0.6" stroke-dasharray="1.2,1.2"/><line x1="395" y1="303.0" x2="541" y2="303.0" stroke="#7ad87a" stroke-width="0.6" stroke-dasharray="1.2,1.2"/><line x1="395" y1="313.3" x2="541" y2="313.3" stroke="#7ad87a" stroke-width="0.6" stroke-dasharray="1.2,1.2"/><g clip-path="url(#clipD)"><polyline points="395.5,182.1 396.0,182.1 396.4,182.1 396.9,182.1 397.3,182.1 397.8,182.1 398.2,182.1 398.7,182.1 399.1,182.1 399.6,182.1 400.0,182.1 400.5,182.1 400.9,182.1 401.4,182.1 401.8,182.1 402.3,182.1 402.7,182.1 403.2,182.2 403.6,182.2 404.1,182.2 404.5,182.2 405.0,182.2 405.4,182.2 405.9,182.2 406.3,182.2 406.8,182.2 407.2,182.2 407.7,182.2 408.1,182.2 408.6,182.2 409.0,182.2 409.5,182.2 409.9,182.2 410.4,182.2 410.9,182.2 411.3,182.2 411.8,182.2 412.2,182.2 412.7,182.2 413.1,182.2 413.6,182.2 414.0,182.2 414.5,182.2 414.9,182.2 415.4,182.2 415.8,182.2 416.3,182.2 416.7,182.2 417.2,182.2 417.6,182.2 418.1,182.3 418.5,182.3 419.0,182.3 419.4,182.3 419.9,182.3 420.3,182.3 420.8,182.3 421.2,182.3 421.7,182.3 422.1,182.3 422.6,182.3 423.0,182.3 423.5,182.3 423.9,182.3 424.4,182.3 424.8,182.3 425.3,182.3 425.8,182.3 426.2,182.3 426.7,182.3 427.1,182.3 427.6,182.3 428.0,182.3 428.5,182.3 428.9,182.3 429.4,182.3 429.8,182.3 430.3,182.3 430.7,182.3 431.2,182.3 431.6,182.3 432.1,182.3 432.5,182.3 433.0,182.3 433.4,182.4 433.9,182.4 434.3,182.4 434.8,182.4 435.2,182.4 435.7,182.4 436.1,182.4 436.6,182.4 437.0,182.4 437.5,182.4 437.9,182.4 438.4,182.4 438.8,182.4 439.3,182.4 439.7,182.4 440.2,182.4 440.6,182.4 441.1,182.4 441.6,182.4 442.0,182.4 442.5,182.4 442.9,182.4 443.4,182.4 443.8,182.4 444.3,182.4 444.7,182.4 445.2,182.4 445.6,182.4 446.1,182.4 446.5,182.4 447.0,182.4 447.4,182.4 447.9,182.4 448.3,182.5 448.8,182.5 449.2,182.5 449.7,182.5 450.1,182.5 450.6,182.5 451.0,182.5 451.5,182.5 451.9,182.5 452.4,182.5 452.8,182.5 453.3,182.5 453.7,182.5 454.2,182.5 454.6,182.5 455.1,182.5 455.5,182.5 456.0,182.5 456.5,182.5 456.9,182.5 457.4,182.5 457.8,182.5 458.3,182.5 458.7,182.5 459.2,182.5 459.6,182.5 460.1,182.5 460.5,182.5 461.0,182.5 461.4,182.5 461.9,182.5 462.3,182.5 462.8,182.5 463.2,182.6 463.7,182.6 464.1,182.6 464.6,182.6 465.0,182.6 465.5,182.6 465.9,182.6 466.4,182.6 466.8,182.6 467.3,182.6 467.7,182.6 468.2,182.6 468.6,182.6 469.1,182.6 469.5,182.6 470.0,182.6 470.4,182.6 470.9,182.6 471.4,182.6 471.8,182.6 472.3,182.6 472.7,182.6 473.2,182.6 473.6,182.6 474.1,182.6 474.5,182.6 475.0,182.6 475.4,182.6 475.9,182.6 476.3,182.6 476.8,182.6 477.2,182.6 477.7,182.6 478.1,182.7 478.6,182.7 479.0,182.7 479.5,182.7 479.9,182.7 480.4,182.7 480.8,182.7 481.3,182.7 481.7,182.7 482.2,182.7 482.6,182.7 483.1,182.7 483.5,182.7 484.0,182.7 484.4,182.7 484.9,182.7 485.3,182.7 485.8,182.7 486.3,182.7 486.7,182.7 487.2,182.7 487.6,182.7 488.1,182.7 488.5,182.7 489.0,182.7 489.4,182.7 489.9,182.7 490.3,182.7 490.8,182.7 491.2,182.7 491.7,182.7 492.1,182.7 492.6,182.7 493.0,182.7 493.5,182.8 493.9,182.8 494.4,182.8 494.8,182.8 495.3,182.8 495.7,182.8 496.2,182.8 496.6,182.8 497.1,182.8 497.5,182.8 498.0,182.8 498.4,182.8 498.9,182.8 499.3,182.8 499.8,182.8 500.2,182.8 500.7,182.8 501.2,182.8 501.6,182.8 502.1,182.8 502.5,182.8 503.0,182.8 503.4,182.8 503.9,182.8 504.3,182.8 504.8,182.8 505.2,182.8 505.7,182.8 506.1,182.8 506.6,182.8 507.0,182.8 507.5,182.8 507.9,182.8 508.4,182.9 508.8,182.9 509.3,182.9 509.7,182.9 510.2,182.9 510.6,182.9 511.1,182.9 511.5,182.9 512.0,182.9 512.4,182.9 512.9,182.9 513.3,182.9 513.8,182.9 514.2,182.9 514.7,182.9 515.1,182.9 515.6,182.9 516.1,182.9 516.5,182.9 517.0,182.9 517.4,182.9 517.9,182.9 518.3,182.9 518.8,182.9 519.2,182.9 519.7,182.9 520.1,182.9 520.6,182.9 521.0,182.9 521.5,182.9 521.9,182.9 522.4,182.9 522.8,182.9 523.3,183.0 523.7,183.0 524.2,183.0 524.6,183.0 525.1,183.0 525.5,183.0 526.0,183.0 526.4,183.0 526.9,183.0 527.3,183.0 527.8,183.0 528.2,183.0 528.7,183.0 529.1,183.0 529.6,183.0 530.0,183.0 530.5,183.0 531.0,183.0 531.4,183.0 531.9,183.0 532.3,183.0 532.8,183.0 533.2,183.0 533.7,183.0 534.1,183.0 534.6,183.0 535.0,183.0 535.5,183.0 535.9,183.0 536.4,183.0 536.8,183.0 537.3,183.0 537.7,183.0 538.2,183.0 538.6,183.1 539.1,183.1 539.5,183.1 540.0,183.1" fill="none" stroke="#303030" stroke-width="1.1"/><polyline points="395.5,183.1 396.0,183.1 396.4,183.2 396.9,183.2 397.3,183.2 397.8,183.2 398.2,183.2 398.7,183.2 399.1,183.2 399.6,183.2 400.0,183.2 400.5,183.2 400.9,183.2 401.4,183.2 401.8,183.3 402.3,183.3 402.7,183.3 403.2,183.3 403.6,183.3 404.1,183.3 404.5,183.3 405.0,183.3 405.4,183.3 405.9,183.3 406.3,183.3 406.8,183.4 407.2,183.4 407.7,183.4 408.1,183.4 408.6,183.4 409.0,183.4 409.5,183.4 409.9,183.4 410.4,183.4 410.9,183.4 411.3,183.5 411.8,183.5 412.2,183.5 412.7,183.5 413.1,183.5 413.6,183.5 414.0,183.5 414.5,183.5 414.9,183.6 415.4,183.6 415.8,183.6 416.3,183.6 416.7,183.6 417.2,183.6 417.6,183.6 418.1,183.6 418.5,183.7 419.0,183.7 419.4,183.7 419.9,183.7 420.3,183.7 420.8,183.7 421.2,183.7 421.7,183.8 422.1,183.8 422.6,183.8 423.0,183.8 423.5,183.8 423.9,183.8 424.4,183.8 424.8,183.9 425.3,183.9 425.8,183.9 426.2,183.9 426.7,183.9 427.1,183.9 427.6,184.0 428.0,184.0 428.5,184.0 428.9,184.0 429.4,184.0 429.8,184.0 430.3,184.1 430.7,184.1 431.2,184.1 431.6,184.1 432.1,184.1 432.5,184.2 433.0,184.2 433.4,184.2 433.9,184.2 434.3,184.2 434.8,184.3 435.2,184.3 435.7,184.3 436.1,184.3 436.6,184.4 437.0,184.4 437.5,184.4 437.9,184.4 438.4,184.4 438.8,184.5 439.3,184.5 439.7,184.5 440.2,184.5 440.6,184.6 441.1,184.6 441.6,184.6 442.0,184.6 442.5,184.7 442.9,184.7 443.4,184.7 443.8,184.8 444.3,184.8 444.7,184.8 445.2,184.8 445.6,184.9 446.1,184.9 446.5,184.9 447.0,185.0 447.4,185.0 447.9,185.0 448.3,185.1 448.8,185.1 449.2,185.1 449.7,185.2 450.1,185.2 450.6,185.2 451.0,185.3 451.5,185.3 451.9,185.3 452.4,185.4 452.8,185.4 453.3,185.5 453.7,185.5 454.2,185.5 454.6,185.6 455.1,185.6 455.5,185.7 456.0,185.7 456.5,185.7 456.9,185.8 457.4,185.8 457.8,185.9 458.3,185.9 458.7,186.0 459.2,186.0 459.6,186.1 460.1,186.1 460.5,186.2 461.0,186.2 461.4,186.3 461.9,186.3 462.3,186.4 462.8,186.4 463.2,186.5 463.7,186.6 464.1,186.6 464.6,186.7 465.0,186.7 465.5,186.8 465.9,186.9 466.4,186.9 466.8,187.0 467.3,187.1 467.7,187.1 468.2,187.2 468.6,187.3 469.1,187.3 469.5,187.4 470.0,187.5 470.4,187.6 470.9,187.6 471.4,187.7 471.8,187.8 472.3,187.9 472.7,188.0 473.2,188.0 473.6,188.1 474.1,188.2 474.5,188.3 475.0,188.4 475.4,188.5 475.9,188.6 476.3,188.7 476.8,188.8 477.2,188.9 477.7,189.0 478.1,189.1 478.6,189.2 479.0,189.3 479.5,189.4 479.9,189.6 480.4,189.7 480.8,189.8 481.3,189.9 481.7,190.1 482.2,190.2 482.6,190.3 483.1,190.5 483.5,190.6 484.0,190.8 484.4,190.9 484.9,191.1 485.3,191.2 485.8,191.4 486.3,191.6 486.7,191.7 487.2,191.9 487.6,192.1 488.1,192.3 488.5,192.5 489.0,192.7 489.4,192.9 489.9,193.1 490.3,193.4 490.8,193.6 491.2,193.9 491.7,194.1 492.1,194.4 492.6,194.7 493.0,195.0 493.5,195.3 493.9,195.6 494.4,195.9 494.8,196.3 495.3,196.6 495.7,197.0 496.2,197.4 496.6,197.9 497.1,198.3 497.5,198.8 498.0,199.3 498.4,199.9 498.9,200.5 499.3,201.1 499.8,201.8 500.2,202.5 500.7,203.3 501.2,204.1 501.6,204.8 502.1,205.5 502.5,206.0 503.0,206.1 503.4,206.1 503.9,205.9 504.3,205.7 504.8,205.4 505.2,205.0 505.7,204.6 506.1,204.2 506.6,203.8 507.0,203.3 507.5,202.9 507.9,202.5 508.4,202.1 508.8,201.7 509.3,201.3 509.7,201.0 510.2,200.6 510.6,200.3 511.1,199.9 511.5,199.6 512.0,199.3 512.4,199.0 512.9,198.8 513.3,198.5 513.8,198.3 514.2,198.0 514.7,197.8 515.1,197.6 515.6,197.3 516.1,197.1 516.5,196.9 517.0,196.7 517.4,196.5 517.9,196.4 518.3,196.2 518.8,196.0 519.2,195.8 519.7,195.7 520.1,195.5 520.6,195.3 521.0,195.2 521.5,195.0 521.9,194.9 522.4,194.8 522.8,194.6 523.3,194.5 523.7,194.4 524.2,194.2 524.6,194.1 525.1,194.0 525.5,193.9 526.0,193.7 526.4,193.6 526.9,193.5 527.3,193.4 527.8,193.3 528.2,193.2 528.7,193.1 529.1,193.0 529.6,192.9 530.0,192.8 530.5,192.7 531.0,192.6 531.4,192.5 531.9,192.4 532.3,192.3 532.8,192.2 533.2,192.2 533.7,192.1 534.1,192.0 534.6,191.9 535.0,191.8 535.5,191.8 535.9,191.7 536.4,191.6 536.8,191.5 537.3,191.5 537.7,191.4 538.2,191.3 538.6,191.3 539.1,191.2 539.5,191.1 540.0,191.1" fill="none" stroke="#f03030" stroke-width="1.1"/><polyline points="395.5,183.2 396.0,183.3 396.4,183.3 396.9,183.3 397.3,183.3 397.8,183.3 398.2,183.3 398.7,183.3 399.1,183.3 399.6,183.3 400.0,183.4 400.5,183.4 400.9,183.4 401.4,183.4 401.8,183.4 402.3,183.4 402.7,183.4 403.2,183.5 403.6,183.5 404.1,183.5 404.5,183.5 405.0,183.5 405.4,183.5 405.9,183.5 406.3,183.6 406.8,183.6 407.2,183.6 407.7,183.6 408.1,183.6 408.6,183.6 409.0,183.7 409.5,183.7 409.9,183.7 410.4,183.7 410.9,183.7 411.3,183.8 411.8,183.8 412.2,183.8 412.7,183.8 413.1,183.8 413.6,183.9 414.0,183.9 414.5,183.9 414.9,183.9 415.4,183.9 415.8,184.0 416.3,184.0 416.7,184.0 417.2,184.0 417.6,184.1 418.1,184.1 418.5,184.1 419.0,184.1 419.4,184.2 419.9,184.2 420.3,184.2 420.8,184.2 421.2,184.3 421.7,184.3 422.1,184.3 422.6,184.4 423.0,184.4 423.5,184.4 423.9,184.4 424.4,184.5 424.8,184.5 425.3,184.5 425.8,184.6 426.2,184.6 426.7,184.6 427.1,184.7 427.6,184.7 428.0,184.8 428.5,184.8 428.9,184.8 429.4,184.9 429.8,184.9 430.3,185.0 430.7,185.0 431.2,185.0 431.6,185.1 432.1,185.1 432.5,185.2 433.0,185.2 433.4,185.3 433.9,185.3 434.3,185.4 434.8,185.4 435.2,185.5 435.7,185.5 436.1,185.6 436.6,185.6 437.0,185.7 437.5,185.7 437.9,185.8 438.4,185.8 438.8,185.9 439.3,186.0 439.7,186.0 440.2,186.1 440.6,186.2 441.1,186.2 441.6,186.3 442.0,186.4 442.5,186.4 442.9,186.5 443.4,186.6 443.8,186.7 444.3,186.7 444.7,186.8 445.2,186.9 445.6,187.0 446.1,187.1 446.5,187.2 447.0,187.3 447.4,187.3 447.9,187.4 448.3,187.5 448.8,187.6 449.2,187.7 449.7,187.9 450.1,188.0 450.6,188.1 451.0,188.2 451.5,188.3 451.9,188.4 452.4,188.6 452.8,188.7 453.3,188.8 453.7,189.0 454.2,189.1 454.6,189.2 455.1,189.4 455.5,189.5 456.0,189.7 456.5,189.9 456.9,190.0 457.4,190.2 457.8,190.4 458.3,190.6 458.7,190.8 459.2,191.0 459.6,191.2 460.1,191.4 460.5,191.6 461.0,191.9 461.4,192.1 461.9,192.4 462.3,192.6 462.8,192.9 463.2,193.2 463.7,193.5 464.1,193.8 464.6,194.1 465.0,194.5 465.5,194.9 465.9,195.3 466.4,195.7 466.8,196.1 467.3,196.6 467.7,197.1 468.2,197.7 468.6,198.3 469.1,198.9 469.5,199.6 470.0,200.4 470.4,201.2 470.9,202.1 471.4,203.1 471.8,204.1 472.3,205.1 472.7,205.9 473.2,206.1 473.6,206.1 474.1,205.8 474.5,205.4 475.0,204.9 475.4,204.4 475.9,203.8 476.3,203.3 476.8,202.7 477.2,202.2 477.7,201.7 478.1,201.2 478.6,200.7 479.0,200.3 479.5,199.8 479.9,199.4 480.4,199.0 480.8,198.7 481.3,198.3 481.7,198.0 482.2,197.7 482.6,197.4 483.1,197.1 483.5,196.8 484.0,196.6 484.4,196.3 484.9,196.1 485.3,195.8 485.8,195.6 486.3,195.4 486.7,195.2 487.2,195.0 487.6,194.8 488.1,194.6 488.5,194.4 489.0,194.2 489.4,194.1 489.9,193.9 490.3,193.7 490.8,193.6 491.2,193.4 491.7,193.3 492.1,193.1 492.6,193.0 493.0,192.8 493.5,192.7 493.9,192.6 494.4,192.5 494.8,192.3 495.3,192.2 495.7,192.1 496.2,192.0 496.6,191.9 497.1,191.8 497.5,191.7 498.0,191.5 498.4,191.4 498.9,191.3 499.3,191.2 499.8,191.1 500.2,191.1 500.7,191.0 501.2,190.9 501.6,190.8 502.1,190.7 502.5,190.6 503.0,190.5 503.4,190.5 503.9,190.4 504.3,190.3 504.8,190.2 505.2,190.1 505.7,190.1 506.1,190.0 506.6,189.9 507.0,189.9 507.5,189.8 507.9,189.7 508.4,189.7 508.8,189.6 509.3,189.5 509.7,189.5 510.2,189.4 510.6,189.4 511.1,189.3 511.5,189.2 512.0,189.2 512.4,189.1 512.9,189.1 513.3,189.0 513.8,189.0 514.2,188.9 514.7,188.9 515.1,188.8 515.6,188.8 516.1,188.7 516.5,188.7 517.0,188.6 517.4,188.6 517.9,188.5 518.3,188.5 518.8,188.5 519.2,188.4 519.7,188.4 520.1,188.3 520.6,188.3 521.0,188.3 521.5,188.2 521.9,188.2 522.4,188.1 522.8,188.1 523.3,188.1 523.7,188.0 524.2,188.0 524.6,188.0 525.1,187.9 525.5,187.9 526.0,187.9 526.4,187.8 526.9,187.8 527.3,187.8 527.8,187.8 528.2,187.7 528.7,187.7 529.1,187.7 529.6,187.6 530.0,187.6 530.5,187.6 531.0,187.6 531.4,187.5 531.9,187.5 532.3,187.5 532.8,187.5 533.2,187.4 533.7,187.4 534.1,187.4 534.6,187.4 535.0,187.3 535.5,187.3 535.9,187.3 536.4,187.3 536.8,187.3 537.3,187.2 537.7,187.2 538.2,187.2 538.6,187.2 539.1,187.2 539.5,187.1 540.0,187.1" fill="none" stroke="#3030f0" stroke-width="1.1"/><polyline points="395.5,183.4 396.0,183.4 396.4,183.4 396.9,183.4 397.3,183.4 397.8,183.4 398.2,183.5 398.7,183.5 399.1,183.5 399.6,183.5 400.0,183.5 400.5,183.5 400.9,183.6 401.4,183.6 401.8,183.6 402.3,183.6 402.7,183.6 403.2,183.7 403.6,183.7 404.1,183.7 404.5,183.7 405.0,183.8 405.4,183.8 405.9,183.8 406.3,183.8 406.8,183.9 407.2,183.9 407.7,183.9 408.1,183.9 408.6,184.0 409.0,184.0 409.5,184.0 409.9,184.1 410.4,184.1 410.9,184.1 411.3,184.1 411.8,184.2 412.2,184.2 412.7,184.2 413.1,184.3 413.6,184.3 414.0,184.4 414.5,184.4 414.9,184.4 415.4,184.5 415.8,184.5 416.3,184.5 416.7,184.6 417.2,184.6 417.6,184.7 418.1,184.7 418.5,184.8 419.0,184.8 419.4,184.9 419.9,184.9 420.3,185.0 420.8,185.0 421.2,185.1 421.7,185.1 422.1,185.2 422.6,185.2 423.0,185.3 423.5,185.3 423.9,185.4 424.4,185.5 424.8,185.5 425.3,185.6 425.8,185.7 426.2,185.7 426.7,185.8 427.1,185.9 427.6,186.0 428.0,186.0 428.5,186.1 428.9,186.2 429.4,186.3 429.8,186.4 430.3,186.5 430.7,186.5 431.2,186.6 431.6,186.7 432.1,186.8 432.5,186.9 433.0,187.0 433.4,187.2 433.9,187.3 434.3,187.4 434.8,187.5 435.2,187.6 435.7,187.8 436.1,187.9 436.6,188.0 437.0,188.2 437.5,188.3 437.9,188.5 438.4,188.6 438.8,188.8 439.3,188.9 439.7,189.1 440.2,189.3 440.6,189.5 441.1,189.7 441.6,189.9 442.0,190.1 442.5,190.3 442.9,190.5 443.4,190.8 443.8,191.0 444.3,191.3 444.7,191.6 445.2,191.8 445.6,192.1 446.1,192.5 446.5,192.8 447.0,193.2 447.4,193.5 447.9,193.9 448.3,194.4 448.8,194.8 449.2,195.3 449.7,195.8 450.1,196.4 450.6,197.0 451.0,197.7 451.5,198.5 451.9,199.3 452.4,200.3 452.8,201.4 453.3,202.6 453.7,204.1 454.2,205.6 454.6,207.1 455.1,207.8 455.5,207.5 456.0,207.0 456.5,206.2 456.9,205.3 457.4,204.4 457.8,203.6 458.3,202.8 458.7,202.1 459.2,201.4 459.6,200.8 460.1,200.2 460.5,199.7 461.0,199.2 461.4,198.7 461.9,198.3 462.3,197.9 462.8,197.5 463.2,197.1 463.7,196.7 464.1,196.4 464.6,196.1 465.0,195.8 465.5,195.5 465.9,195.3 466.4,195.0 466.8,194.7 467.3,194.5 467.7,194.3 468.2,194.1 468.6,193.8 469.1,193.6 469.5,193.4 470.0,193.3 470.4,193.1 470.9,192.9 471.4,192.7 471.8,192.6 472.3,192.4 472.7,192.2 473.2,192.1 473.6,191.9 474.1,191.8 474.5,191.7 475.0,191.5 475.4,191.4 475.9,191.3 476.3,191.1 476.8,191.0 477.2,190.9 477.7,190.8 478.1,190.7 478.6,190.6 479.0,190.5 479.5,190.3 479.9,190.2 480.4,190.1 480.8,190.1 481.3,190.0 481.7,189.9 482.2,189.8 482.6,189.7 483.1,189.6 483.5,189.5 484.0,189.4 484.4,189.4 484.9,189.3 485.3,189.2 485.8,189.1 486.3,189.1 486.7,189.0 487.2,188.9 487.6,188.8 488.1,188.8 488.5,188.7 489.0,188.6 489.4,188.6 489.9,188.5 490.3,188.5 490.8,188.4 491.2,188.3 491.7,188.3 492.1,188.2 492.6,188.2 493.0,188.1 493.5,188.1 493.9,188.0 494.4,188.0 494.8,187.9 495.3,187.9 495.7,187.8 496.2,187.8 496.6,187.7 497.1,187.7 497.5,187.7 498.0,187.6 498.4,187.6 498.9,187.5 499.3,187.5 499.8,187.5 500.2,187.4 500.7,187.4 501.2,187.3 501.6,187.3 502.1,187.3 502.5,187.2 503.0,187.2 503.4,187.2 503.9,187.1 504.3,187.1 504.8,187.1 505.2,187.0 505.7,187.0 506.1,187.0 506.6,187.0 507.0,186.9 507.5,186.9 507.9,186.9 508.4,186.8 508.8,186.8 509.3,186.8 509.7,186.8 510.2,186.7 510.6,186.7 511.1,186.7 511.5,186.7 512.0,186.7 512.4,186.6 512.9,186.6 513.3,186.6 513.8,186.6 514.2,186.6 514.7,186.5 515.1,186.5 515.6,186.5 516.1,186.5 516.5,186.5 517.0,186.4 517.4,186.4 517.9,186.4 518.3,186.4 518.8,186.4 519.2,186.4 519.7,186.4 520.1,186.3 520.6,186.3 521.0,186.3 521.5,186.3 521.9,186.3 522.4,186.3 522.8,186.3 523.3,186.2 523.7,186.2 524.2,186.2 524.6,186.2 525.1,186.2 525.5,186.2 526.0,186.2 526.4,186.2 526.9,186.2 527.3,186.1 527.8,186.1 528.2,186.1 528.7,186.1 529.1,186.1 529.6,186.1 530.0,186.1 530.5,186.1 531.0,186.1 531.4,186.1 531.9,186.1 532.3,186.1 532.8,186.1 533.2,186.0 533.7,186.0 534.1,186.0 534.6,186.0 535.0,186.0 535.5,186.0 535.9,186.0 536.4,186.0 536.8,186.0 537.3,186.0 537.7,186.0 538.2,186.0 538.6,186.0 539.1,186.0 539.5,186.0 540.0,186.0" fill="none" stroke="#2aa0a0" stroke-width="1.1"/><polyline points="395.5,183.5 396.0,183.5 396.4,183.5 396.9,183.6 397.3,183.6 397.8,183.6 398.2,183.6 398.7,183.7 399.1,183.7 399.6,183.7 400.0,183.7 400.5,183.8 400.9,183.8 401.4,183.8 401.8,183.8 402.3,183.9 402.7,183.9 403.2,183.9 403.6,184.0 404.1,184.0 404.5,184.0 405.0,184.1 405.4,184.1 405.9,184.2 406.3,184.2 406.8,184.2 407.2,184.3 407.7,184.3 408.1,184.4 408.6,184.4 409.0,184.5 409.5,184.5 409.9,184.5 410.4,184.6 410.9,184.6 411.3,184.7 411.8,184.8 412.2,184.8 412.7,184.9 413.1,184.9 413.6,185.0 414.0,185.0 414.5,185.1 414.9,185.2 415.4,185.2 415.8,185.3 416.3,185.4 416.7,185.5 417.2,185.5 417.6,185.6 418.1,185.7 418.5,185.8 419.0,185.9 419.4,186.0 419.9,186.1 420.3,186.1 420.8,186.2 421.2,186.3 421.7,186.5 422.1,186.6 422.6,186.7 423.0,186.8 423.5,186.9 423.9,187.0 424.4,187.2 424.8,187.3 425.3,187.5 425.8,187.6 426.2,187.8 426.7,187.9 427.1,188.1 427.6,188.2 428.0,188.4 428.5,188.6 428.9,188.8 429.4,189.0 429.8,189.2 430.3,189.4 430.7,189.7 431.2,189.9 431.6,190.2 432.1,190.4 432.5,190.7 433.0,191.0 433.4,191.3 433.9,191.6 434.3,192.0 434.8,192.4 435.2,192.8 435.7,193.2 436.1,193.6 436.6,194.1 437.0,194.7 437.5,195.2 437.9,195.9 438.4,196.6 438.8,197.3 439.3,198.2 439.7,199.2 440.2,200.3 440.6,201.6 441.1,203.2 441.6,205.0 442.0,206.8 442.5,207.8 442.9,207.5 443.4,206.7 443.8,205.7 444.3,204.6 444.7,203.6 445.2,202.7 445.6,201.9 446.1,201.1 446.5,200.4 447.0,199.7 447.4,199.1 447.9,198.6 448.3,198.1 448.8,197.6 449.2,197.1 449.7,196.7 450.1,196.3 450.6,195.9 451.0,195.6 451.5,195.2 451.9,194.9 452.4,194.6 452.8,194.3 453.3,194.1 453.7,193.8 454.2,193.6 454.6,193.3 455.1,193.1 455.5,192.9 456.0,192.7 456.5,192.5 456.9,192.3 457.4,192.1 457.8,191.9 458.3,191.7 458.7,191.6 459.2,191.4 459.6,191.2 460.1,191.1 460.5,190.9 461.0,190.8 461.4,190.7 461.9,190.5 462.3,190.4 462.8,190.3 463.2,190.1 463.7,190.0 464.1,189.9 464.6,189.8 465.0,189.7 465.5,189.6 465.9,189.5 466.4,189.4 466.8,189.3 467.3,189.2 467.7,189.1 468.2,189.0 468.6,188.9 469.1,188.8 469.5,188.7 470.0,188.6 470.4,188.6 470.9,188.5 471.4,188.4 471.8,188.3 472.3,188.3 472.7,188.2 473.2,188.1 473.6,188.0 474.1,188.0 474.5,187.9 475.0,187.9 475.4,187.8 475.9,187.7 476.3,187.7 476.8,187.6 477.2,187.6 477.7,187.5 478.1,187.5 478.6,187.4 479.0,187.3 479.5,187.3 479.9,187.3 480.4,187.2 480.8,187.2 481.3,187.1 481.7,187.1 482.2,187.0 482.6,187.0 483.1,186.9 483.5,186.9 484.0,186.9 484.4,186.8 484.9,186.8 485.3,186.7 485.8,186.7 486.3,186.7 486.7,186.6 487.2,186.6 487.6,186.6 488.1,186.5 488.5,186.5 489.0,186.5 489.4,186.5 489.9,186.4 490.3,186.4 490.8,186.4 491.2,186.3 491.7,186.3 492.1,186.3 492.6,186.3 493.0,186.2 493.5,186.2 493.9,186.2 494.4,186.2 494.8,186.2 495.3,186.1 495.7,186.1 496.2,186.1 496.6,186.1 497.1,186.0 497.5,186.0 498.0,186.0 498.4,186.0 498.9,186.0 499.3,186.0 499.8,185.9 500.2,185.9 500.7,185.9 501.2,185.9 501.6,185.9 502.1,185.9 502.5,185.8 503.0,185.8 503.4,185.8 503.9,185.8 504.3,185.8 504.8,185.8 505.2,185.8 505.7,185.8 506.1,185.7 506.6,185.7 507.0,185.7 507.5,185.7 507.9,185.7 508.4,185.7 508.8,185.7 509.3,185.7 509.7,185.7 510.2,185.7 510.6,185.7 511.1,185.6 511.5,185.6 512.0,185.6 512.4,185.6 512.9,185.6 513.3,185.6 513.8,185.6 514.2,185.6 514.7,185.6 515.1,185.6 515.6,185.6 516.1,185.6 516.5,185.6 517.0,185.6 517.4,185.6 517.9,185.6 518.3,185.6 518.8,185.6 519.2,185.5 519.7,185.5 520.1,185.5 520.6,185.5 521.0,185.5 521.5,185.5 521.9,185.5 522.4,185.5 522.8,185.5 523.3,185.5 523.7,185.5 524.2,185.5 524.6,185.5 525.1,185.5 525.5,185.5 526.0,185.5 526.4,185.5 526.9,185.5 527.3,185.5 527.8,185.5 528.2,185.5 528.7,185.5 529.1,185.5 529.6,185.5 530.0,185.5 530.5,185.5 531.0,185.5 531.4,185.5 531.9,185.5 532.3,185.5 532.8,185.5 533.2,185.5 533.7,185.5 534.1,185.5 534.6,185.5 535.0,185.5 535.5,185.5 535.9,185.5 536.4,185.5 536.8,185.5 537.3,185.5 537.7,185.5 538.2,185.6 538.6,185.6 539.1,185.6 539.5,185.6 540.0,185.6" fill="none" stroke="#f030f0" stroke-width="1.1"/><polyline points="395.5,183.7 396.0,183.7 396.4,183.7 396.9,183.8 397.3,183.8 397.8,183.8 398.2,183.9 398.7,183.9 399.1,183.9 399.6,184.0 400.0,184.0 400.5,184.1 400.9,184.1 401.4,184.1 401.8,184.2 402.3,184.2 402.7,184.3 403.2,184.3 403.6,184.4 404.1,184.4 404.5,184.5 405.0,184.5 405.4,184.6 405.9,184.7 406.3,184.7 406.8,184.8 407.2,184.9 407.7,184.9 408.1,185.0 408.6,185.1 409.0,185.2 409.5,185.2 409.9,185.3 410.4,185.4 410.9,185.5 411.3,185.6 411.8,185.7 412.2,185.8 412.7,185.9 413.1,186.0 413.6,186.1 414.0,186.2 414.5,186.3 414.9,186.5 415.4,186.6 415.8,186.7 416.3,186.9 416.7,187.0 417.2,187.2 417.6,187.3 418.1,187.5 418.5,187.7 419.0,187.8 419.4,188.0 419.9,188.2 420.3,188.5 420.8,188.7 421.2,188.9 421.7,189.1 422.1,189.4 422.6,189.7 423.0,190.0 423.5,190.3 423.9,190.6 424.4,190.9 424.8,191.3 425.3,191.7 425.8,192.1 426.2,192.6 426.7,193.1 427.1,193.6 427.6,194.2 428.0,194.8 428.5,195.5 428.9,196.3 429.4,197.2 429.8,198.2 430.3,199.4 430.7,200.9 431.2,202.7 431.6,205.1 432.1,208.0 432.5,210.2 433.0,209.4 433.4,207.7 433.9,206.0 434.3,204.5 434.8,203.2 435.2,202.1 435.7,201.2 436.1,200.3 436.6,199.5 437.0,198.8 437.5,198.2 437.9,197.6 438.4,197.1 438.8,196.6 439.3,196.1 439.7,195.7 440.2,195.3 440.6,194.9 441.1,194.5 441.6,194.2 442.0,193.9 442.5,193.6 442.9,193.3 443.4,193.0 443.8,192.8 444.3,192.5 444.7,192.3 445.2,192.0 445.6,191.8 446.1,191.6 446.5,191.4 447.0,191.2 447.4,191.0 447.9,190.9 448.3,190.7 448.8,190.5 449.2,190.4 449.7,190.2 450.1,190.1 450.6,189.9 451.0,189.8 451.5,189.6 451.9,189.5 452.4,189.4 452.8,189.3 453.3,189.1 453.7,189.0 454.2,188.9 454.6,188.8 455.1,188.7 455.5,188.6 456.0,188.5 456.5,188.4 456.9,188.3 457.4,188.2 457.8,188.1 458.3,188.0 458.7,188.0 459.2,187.9 459.6,187.8 460.1,187.7 460.5,187.7 461.0,187.6 461.4,187.5 461.9,187.4 462.3,187.4 462.8,187.3 463.2,187.2 463.7,187.2 464.1,187.1 464.6,187.1 465.0,187.0 465.5,186.9 465.9,186.9 466.4,186.8 466.8,186.8 467.3,186.7 467.7,186.7 468.2,186.6 468.6,186.6 469.1,186.6 469.5,186.5 470.0,186.5 470.4,186.4 470.9,186.4 471.4,186.3 471.8,186.3 472.3,186.3 472.7,186.2 473.2,186.2 473.6,186.2 474.1,186.1 474.5,186.1 475.0,186.1 475.4,186.0 475.9,186.0 476.3,186.0 476.8,185.9 477.2,185.9 477.7,185.9 478.1,185.9 478.6,185.8 479.0,185.8 479.5,185.8 479.9,185.8 480.4,185.7 480.8,185.7 481.3,185.7 481.7,185.7 482.2,185.7 482.6,185.6 483.1,185.6 483.5,185.6 484.0,185.6 484.4,185.6 484.9,185.5 485.3,185.5 485.8,185.5 486.3,185.5 486.7,185.5 487.2,185.5 487.6,185.5 488.1,185.4 488.5,185.4 489.0,185.4 489.4,185.4 489.9,185.4 490.3,185.4 490.8,185.4 491.2,185.4 491.7,185.3 492.1,185.3 492.6,185.3 493.0,185.3 493.5,185.3 493.9,185.3 494.4,185.3 494.8,185.3 495.3,185.3 495.7,185.3 496.2,185.3 496.6,185.3 497.1,185.2 497.5,185.2 498.0,185.2 498.4,185.2 498.9,185.2 499.3,185.2 499.8,185.2 500.2,185.2 500.7,185.2 501.2,185.2 501.6,185.2 502.1,185.2 502.5,185.2 503.0,185.2 503.4,185.2 503.9,185.2 504.3,185.2 504.8,185.2 505.2,185.2 505.7,185.2 506.1,185.2 506.6,185.2 507.0,185.2 507.5,185.2 507.9,185.2 508.4,185.2 508.8,185.2 509.3,185.2 509.7,185.2 510.2,185.2 510.6,185.2 511.1,185.2 511.5,185.2 512.0,185.2 512.4,185.2 512.9,185.2 513.3,185.2 513.8,185.2 514.2,185.2 514.7,185.2 515.1,185.2 515.6,185.2 516.1,185.2 516.5,185.2 517.0,185.2 517.4,185.2 517.9,185.2 518.3,185.2 518.8,185.2 519.2,185.2 519.7,185.2 520.1,185.2 520.6,185.2 521.0,185.2 521.5,185.2 521.9,185.2 522.4,185.2 522.8,185.2 523.3,185.2 523.7,185.2 524.2,185.2 524.6,185.2 525.1,185.2 525.5,185.2 526.0,185.2 526.4,185.2 526.9,185.3 527.3,185.3 527.8,185.3 528.2,185.3 528.7,185.3 529.1,185.3 529.6,185.3 530.0,185.3 530.5,185.3 531.0,185.3 531.4,185.3 531.9,185.3 532.3,185.3 532.8,185.3 533.2,185.3 533.7,185.3 534.1,185.3 534.6,185.3 535.0,185.3 535.5,185.4 535.9,185.4 536.4,185.4 536.8,185.4 537.3,185.4 537.7,185.4 538.2,185.4 538.6,185.4 539.1,185.4 539.5,185.4 540.0,185.4" fill="none" stroke="#a0a020" stroke-width="1.1"/><polyline points="395.5,183.8 396.0,183.9 396.4,183.9 396.9,183.9 397.3,184.0 397.8,184.0 398.2,184.1 398.7,184.1 399.1,184.2 399.6,184.2 400.0,184.3 400.5,184.3 400.9,184.4 401.4,184.5 401.8,184.5 402.3,184.6 402.7,184.6 403.2,184.7 403.6,184.8 404.1,184.9 404.5,184.9 405.0,185.0 405.4,185.1 405.9,185.2 406.3,185.3 406.8,185.4 407.2,185.5 407.7,185.6 408.1,185.7 408.6,185.8 409.0,185.9 409.5,186.0 409.9,186.2 410.4,186.3 410.9,186.4 411.3,186.6 411.8,186.7 412.2,186.9 412.7,187.1 413.1,187.2 413.6,187.4 414.0,187.6 414.5,187.8 414.9,188.0 415.4,188.2 415.8,188.5 416.3,188.7 416.7,189.0 417.2,189.3 417.6,189.6 418.1,189.9 418.5,190.2 419.0,190.6 419.4,191.0 419.9,191.4 420.3,191.9 420.8,192.3 421.2,192.9 421.7,193.4 422.1,194.1 422.6,194.8 423.0,195.6 423.5,196.5 423.9,197.6 424.4,198.8 424.8,200.4 425.3,202.4 425.8,205.2 426.2,209.9 426.7,221.4 427.1,213.8 427.6,209.2 428.0,206.5 428.5,204.5 428.9,203.0 429.4,201.7 429.8,200.6 430.3,199.7 430.7,198.9 431.2,198.2 431.6,197.5 432.1,196.9 432.5,196.4 433.0,195.9 433.4,195.4 433.9,195.0 434.3,194.5 434.8,194.2 435.2,193.8 435.7,193.4 436.1,193.1 436.6,192.8 437.0,192.6 437.5,192.3 437.9,192.0 438.4,191.8 438.8,191.6 439.3,191.3 439.7,191.1 440.2,190.9 440.6,190.7 441.1,190.5 441.6,190.3 442.0,190.2 442.5,190.0 442.9,189.8 443.4,189.7 443.8,189.5 444.3,189.4 444.7,189.2 445.2,189.1 445.6,189.0 446.1,188.8 446.5,188.7 447.0,188.6 447.4,188.5 447.9,188.4 448.3,188.3 448.8,188.2 449.2,188.1 449.7,188.0 450.1,187.9 450.6,187.8 451.0,187.7 451.5,187.6 451.9,187.5 452.4,187.4 452.8,187.4 453.3,187.3 453.7,187.2 454.2,187.1 454.6,187.1 455.1,187.0 455.5,186.9 456.0,186.9 456.5,186.8 456.9,186.7 457.4,186.7 457.8,186.6 458.3,186.6 458.7,186.5 459.2,186.5 459.6,186.4 460.1,186.4 460.5,186.3 461.0,186.3 461.4,186.2 461.9,186.2 462.3,186.1 462.8,186.1 463.2,186.1 463.7,186.0 464.1,186.0 464.6,185.9 465.0,185.9 465.5,185.9 465.9,185.8 466.4,185.8 466.8,185.8 467.3,185.7 467.7,185.7 468.2,185.7 468.6,185.7 469.1,185.6 469.5,185.6 470.0,185.6 470.4,185.6 470.9,185.5 471.4,185.5 471.8,185.5 472.3,185.5 472.7,185.4 473.2,185.4 473.6,185.4 474.1,185.4 474.5,185.4 475.0,185.3 475.4,185.3 475.9,185.3 476.3,185.3 476.8,185.3 477.2,185.3 477.7,185.2 478.1,185.2 478.6,185.2 479.0,185.2 479.5,185.2 479.9,185.2 480.4,185.2 480.8,185.1 481.3,185.1 481.7,185.1 482.2,185.1 482.6,185.1 483.1,185.1 483.5,185.1 484.0,185.1 484.4,185.1 484.9,185.1 485.3,185.0 485.8,185.0 486.3,185.0 486.7,185.0 487.2,185.0 487.6,185.0 488.1,185.0 488.5,185.0 489.0,185.0 489.4,185.0 489.9,185.0 490.3,185.0 490.8,185.0 491.2,185.0 491.7,185.0 492.1,185.0 492.6,185.0 493.0,185.0 493.5,185.0 493.9,184.9 494.4,184.9 494.8,184.9 495.3,184.9 495.7,184.9 496.2,184.9 496.6,184.9 497.1,184.9 497.5,184.9 498.0,184.9 498.4,184.9 498.9,184.9 499.3,184.9 499.8,184.9 500.2,184.9 500.7,184.9 501.2,184.9 501.6,184.9 502.1,184.9 502.5,184.9 503.0,184.9 503.4,184.9 503.9,184.9 504.3,184.9 504.8,184.9 505.2,184.9 505.7,184.9 506.1,185.0 506.6,185.0 507.0,185.0 507.5,185.0 507.9,185.0 508.4,185.0 508.8,185.0 509.3,185.0 509.7,185.0 510.2,185.0 510.6,185.0 511.1,185.0 511.5,185.0 512.0,185.0 512.4,185.0 512.9,185.0 513.3,185.0 513.8,185.0 514.2,185.0 514.7,185.0 515.1,185.0 515.6,185.0 516.1,185.0 516.5,185.0 517.0,185.0 517.4,185.0 517.9,185.1 518.3,185.1 518.8,185.1 519.2,185.1 519.7,185.1 520.1,185.1 520.6,185.1 521.0,185.1 521.5,185.1 521.9,185.1 522.4,185.1 522.8,185.1 523.3,185.1 523.7,185.1 524.2,185.1 524.6,185.1 525.1,185.1 525.5,185.2 526.0,185.2 526.4,185.2 526.9,185.2 527.3,185.2 527.8,185.2 528.2,185.2 528.7,185.2 529.1,185.2 529.6,185.2 530.0,185.2 530.5,185.2 531.0,185.2 531.4,185.2 531.9,185.3 532.3,185.3 532.8,185.3 533.2,185.3 533.7,185.3 534.1,185.3 534.6,185.3 535.0,185.3 535.5,185.3 535.9,185.3 536.4,185.3 536.8,185.3 537.3,185.3 537.7,185.4 538.2,185.4 538.6,185.4 539.1,185.4 539.5,185.4 540.0,185.4" fill="none" stroke="#f020a0" stroke-width="1.1"/><polyline points="395.5,183.9 396.0,183.9 396.4,183.9 396.9,184.0 397.3,184.0 397.8,184.1 398.2,184.1 398.7,184.2 399.1,184.2 399.6,184.3 400.0,184.4 400.5,184.4 400.9,184.5 401.4,184.5 401.8,184.6 402.3,184.7 402.7,184.8 403.2,184.8 403.6,184.9 404.1,185.0 404.5,185.1 405.0,185.2 405.4,185.3 405.9,185.4 406.3,185.5 406.8,185.6 407.2,185.7 407.7,185.8 408.1,185.9 408.6,186.0 409.0,186.2 409.5,186.3 409.9,186.4 410.4,186.6 410.9,186.7 411.3,186.9 411.8,187.1 412.2,187.3 412.7,187.5 413.1,187.7 413.6,187.9 414.0,188.1 414.5,188.3 414.9,188.6 415.4,188.8 415.8,189.1 416.3,189.4 416.7,189.7 417.2,190.1 417.6,190.4 418.1,190.8 418.5,191.2 419.0,191.7 419.4,192.2 419.9,192.7 420.3,193.3 420.8,193.9 421.2,194.6 421.7,195.4 422.1,196.3 422.6,197.4 423.0,198.6 423.5,200.2 423.9,202.1 424.4,204.9 424.8,209.5 425.3,218.2 425.8,213.1 426.2,208.9 426.7,206.2 427.1,204.3 427.6,202.7 428.0,201.5 428.5,200.4 428.9,199.5 429.4,198.7 429.8,198.0 430.3,197.3 430.7,196.7 431.2,196.2 431.6,195.7 432.1,195.2 432.5,194.8 433.0,194.4 433.4,194.0 433.9,193.6 434.3,193.3 434.8,192.9 435.2,192.7 435.7,192.4 436.1,192.1 436.6,191.8 437.0,191.6 437.5,191.4 437.9,191.1 438.4,190.9 438.8,190.7 439.3,190.5 439.7,190.3 440.2,190.2 440.6,190.0 441.1,189.8 441.6,189.7 442.0,189.5 442.5,189.4 442.9,189.2 443.4,189.1 443.8,188.9 444.3,188.8 444.7,188.7 445.2,188.6 445.6,188.4 446.1,188.3 446.5,188.2 447.0,188.1 447.4,188.0 447.9,187.9 448.3,187.8 448.8,187.7 449.2,187.6 449.7,187.5 450.1,187.5 450.6,187.4 451.0,187.3 451.5,187.2 451.9,187.1 452.4,187.1 452.8,187.0 453.3,186.9 453.7,186.9 454.2,186.8 454.6,186.7 455.1,186.7 455.5,186.6 456.0,186.6 456.5,186.5 456.9,186.4 457.4,186.4 457.8,186.3 458.3,186.3 458.7,186.2 459.2,186.2 459.6,186.2 460.1,186.1 460.5,186.1 461.0,186.0 461.4,186.0 461.9,185.9 462.3,185.9 462.8,185.9 463.2,185.8 463.7,185.8 464.1,185.8 464.6,185.7 465.0,185.7 465.5,185.7 465.9,185.6 466.4,185.6 466.8,185.6 467.3,185.6 467.7,185.5 468.2,185.5 468.6,185.5 469.1,185.5 469.5,185.4 470.0,185.4 470.4,185.4 470.9,185.4 471.4,185.3 471.8,185.3 472.3,185.3 472.7,185.3 473.2,185.3 473.6,185.2 474.1,185.2 474.5,185.2 475.0,185.2 475.4,185.2 475.9,185.2 476.3,185.2 476.8,185.1 477.2,185.1 477.7,185.1 478.1,185.1 478.6,185.1 479.0,185.1 479.5,185.1 479.9,185.1 480.4,185.0 480.8,185.0 481.3,185.0 481.7,185.0 482.2,185.0 482.6,185.0 483.1,185.0 483.5,185.0 484.0,185.0 484.4,185.0 484.9,185.0 485.3,185.0 485.8,184.9 486.3,184.9 486.7,184.9 487.2,184.9 487.6,184.9 488.1,184.9 488.5,184.9 489.0,184.9 489.4,184.9 489.9,184.9 490.3,184.9 490.8,184.9 491.2,184.9 491.7,184.9 492.1,184.9 492.6,184.9 493.0,184.9 493.5,184.9 493.9,184.9 494.4,184.9 494.8,184.9 495.3,184.9 495.7,184.9 496.2,184.9 496.6,184.9 497.1,184.9 497.5,184.9 498.0,184.9 498.4,184.9 498.9,184.9 499.3,184.9 499.8,184.9 500.2,184.9 500.7,184.9 501.2,184.9 501.6,184.9 502.1,184.9 502.5,184.9 503.0,184.9 503.4,184.9 503.9,184.9 504.3,184.9 504.8,184.9 505.2,184.9 505.7,184.9 506.1,184.9 506.6,184.9 507.0,184.9 507.5,184.9 507.9,184.9 508.4,184.9 508.8,184.9 509.3,184.9 509.7,184.9 510.2,184.9 510.6,185.0 511.1,185.0 511.5,185.0 512.0,185.0 512.4,185.0 512.9,185.0 513.3,185.0 513.8,185.0 514.2,185.0 514.7,185.0 515.1,185.0 515.6,185.0 516.1,185.0 516.5,185.0 517.0,185.0 517.4,185.0 517.9,185.0 518.3,185.0 518.8,185.0 519.2,185.1 519.7,185.1 520.1,185.1 520.6,185.1 521.0,185.1 521.5,185.1 521.9,185.1 522.4,185.1 522.8,185.1 523.3,185.1 523.7,185.1 524.2,185.1 524.6,185.1 525.1,185.1 525.5,185.1 526.0,185.1 526.4,185.2 526.9,185.2 527.3,185.2 527.8,185.2 528.2,185.2 528.7,185.2 529.1,185.2 529.6,185.2 530.0,185.2 530.5,185.2 531.0,185.2 531.4,185.2 531.9,185.2 532.3,185.3 532.8,185.3 533.2,185.3 533.7,185.3 534.1,185.3 534.6,185.3 535.0,185.3 535.5,185.3 535.9,185.3 536.4,185.3 536.8,185.3 537.3,185.3 537.7,185.3 538.2,185.4 538.6,185.4 539.1,185.4 539.5,185.4 540.0,185.4" fill="none" stroke="#3030c0" stroke-width="1.1"/><polyline points="395.5,183.9 396.0,183.9 396.4,184.0 396.9,184.0 397.3,184.1 397.8,184.1 398.2,184.2 398.7,184.2 399.1,184.3 399.6,184.4 400.0,184.4 400.5,184.5 400.9,184.5 401.4,184.6 401.8,184.7 402.3,184.8 402.7,184.8 403.2,184.9 403.6,185.0 404.1,185.1 404.5,185.2 405.0,185.3 405.4,185.4 405.9,185.5 406.3,185.6 406.8,185.7 407.2,185.8 407.7,185.9 408.1,186.1 408.6,186.2 409.0,186.3 409.5,186.5 409.9,186.6 410.4,186.8 410.9,187.0 411.3,187.2 411.8,187.4 412.2,187.6 412.7,187.8 413.1,188.0 413.6,188.2 414.0,188.5 414.5,188.7 414.9,189.0 415.4,189.3 415.8,189.6 416.3,189.9 416.7,190.3 417.2,190.7 417.6,191.1 418.1,191.5 418.5,192.0 419.0,192.6 419.4,193.1 419.9,193.8 420.3,194.5 420.8,195.3 421.2,196.2 421.7,197.3 422.1,198.5 422.6,200.0 423.0,202.0 423.5,204.9 423.9,209.7 424.4,228.6 424.8,213.8 425.3,209.0 425.8,206.2 426.2,204.2 426.7,202.6 427.1,201.4 427.6,200.3 428.0,199.4 428.5,198.6 428.9,197.9 429.4,197.2 429.8,196.6 430.3,196.0 430.7,195.5 431.2,195.1 431.6,194.6 432.1,194.2 432.5,193.8 433.0,193.5 433.4,193.1 433.9,192.8 434.3,192.5 434.8,192.2 435.2,192.0 435.7,191.7 436.1,191.5 436.6,191.2 437.0,191.0 437.5,190.8 437.9,190.6 438.4,190.4 438.8,190.2 439.3,190.0 439.7,189.9 440.2,189.7 440.6,189.5 441.1,189.4 441.6,189.2 442.0,189.1 442.5,189.0 442.9,188.8 443.4,188.7 443.8,188.6 444.3,188.5 444.7,188.3 445.2,188.2 445.6,188.1 446.1,188.0 446.5,187.9 447.0,187.8 447.4,187.7 447.9,187.6 448.3,187.5 448.8,187.4 449.2,187.4 449.7,187.3 450.1,187.2 450.6,187.1 451.0,187.0 451.5,187.0 451.9,186.9 452.4,186.8 452.8,186.8 453.3,186.7 453.7,186.6 454.2,186.6 454.6,186.5 455.1,186.5 455.5,186.4 456.0,186.4 456.5,186.3 456.9,186.3 457.4,186.2 457.8,186.2 458.3,186.1 458.7,186.1 459.2,186.0 459.6,186.0 460.1,185.9 460.5,185.9 461.0,185.9 461.4,185.8 461.9,185.8 462.3,185.8 462.8,185.7 463.2,185.7 463.7,185.7 464.1,185.6 464.6,185.6 465.0,185.6 465.5,185.5 465.9,185.5 466.4,185.5 466.8,185.5 467.3,185.4 467.7,185.4 468.2,185.4 468.6,185.4 469.1,185.3 469.5,185.3 470.0,185.3 470.4,185.3 470.9,185.3 471.4,185.2 471.8,185.2 472.3,185.2 472.7,185.2 473.2,185.2 473.6,185.2 474.1,185.1 474.5,185.1 475.0,185.1 475.4,185.1 475.9,185.1 476.3,185.1 476.8,185.1 477.2,185.0 477.7,185.0 478.1,185.0 478.6,185.0 479.0,185.0 479.5,185.0 479.9,185.0 480.4,185.0 480.8,185.0 481.3,185.0 481.7,184.9 482.2,184.9 482.6,184.9 483.1,184.9 483.5,184.9 484.0,184.9 484.4,184.9 484.9,184.9 485.3,184.9 485.8,184.9 486.3,184.9 486.7,184.9 487.2,184.9 487.6,184.9 488.1,184.9 488.5,184.9 489.0,184.9 489.4,184.9 489.9,184.9 490.3,184.9 490.8,184.9 491.2,184.9 491.7,184.8 492.1,184.8 492.6,184.8 493.0,184.8 493.5,184.8 493.9,184.8 494.4,184.8 494.8,184.8 495.3,184.8 495.7,184.8 496.2,184.8 496.6,184.8 497.1,184.8 497.5,184.8 498.0,184.8 498.4,184.8 498.9,184.8 499.3,184.9 499.8,184.9 500.2,184.9 500.7,184.9 501.2,184.9 501.6,184.9 502.1,184.9 502.5,184.9 503.0,184.9 503.4,184.9 503.9,184.9 504.3,184.9 504.8,184.9 505.2,184.9 505.7,184.9 506.1,184.9 506.6,184.9 507.0,184.9 507.5,184.9 507.9,184.9 508.4,184.9 508.8,184.9 509.3,184.9 509.7,184.9 510.2,184.9 510.6,184.9 511.1,184.9 511.5,184.9 512.0,184.9 512.4,185.0 512.9,185.0 513.3,185.0 513.8,185.0 514.2,185.0 514.7,185.0 515.1,185.0 515.6,185.0 516.1,185.0 516.5,185.0 517.0,185.0 517.4,185.0 517.9,185.0 518.3,185.0 518.8,185.0 519.2,185.0 519.7,185.0 520.1,185.1 520.6,185.1 521.0,185.1 521.5,185.1 521.9,185.1 522.4,185.1 522.8,185.1 523.3,185.1 523.7,185.1 524.2,185.1 524.6,185.1 525.1,185.1 525.5,185.1 526.0,185.1 526.4,185.1 526.9,185.2 527.3,185.2 527.8,185.2 528.2,185.2 528.7,185.2 529.1,185.2 529.6,185.2 530.0,185.2 530.5,185.2 531.0,185.2 531.4,185.2 531.9,185.2 532.3,185.2 532.8,185.3 533.2,185.3 533.7,185.3 534.1,185.3 534.6,185.3 535.0,185.3 535.5,185.3 535.9,185.3 536.4,185.3 536.8,185.3 537.3,185.3 537.7,185.3 538.2,185.4 538.6,185.4 539.1,185.4 539.5,185.4 540.0,185.4" fill="none" stroke="#20a020" stroke-width="1.1"/><polyline points="395.5,184.1 396.0,184.2 396.4,184.2 396.9,184.3 397.3,184.3 397.8,184.4 398.2,184.5 398.7,184.5 399.1,184.6 399.6,184.7 400.0,184.8 400.5,184.9 400.9,185.0 401.4,185.1 401.8,185.2 402.3,185.3 402.7,185.4 403.2,185.5 403.6,185.6 404.1,185.7 404.5,185.9 405.0,186.0 405.4,186.1 405.9,186.3 406.3,186.5 406.8,186.6 407.2,186.8 407.7,187.0 408.1,187.2 408.6,187.4 409.0,187.6 409.5,187.9 409.9,188.1 410.4,188.4 410.9,188.7 411.3,189.0 411.8,189.3 412.2,189.7 412.7,190.0 413.1,190.4 413.6,190.9 414.0,191.4 414.5,191.9 414.9,192.4 415.4,193.1 415.8,193.8 416.3,194.6 416.7,195.5 417.2,196.5 417.6,197.7 418.1,199.2 418.5,201.1 419.0,203.7 419.4,207.4 419.9,211.0 420.3,209.5 420.8,207.0 421.2,204.8 421.7,203.1 422.1,201.7 422.6,200.5 423.0,199.5 423.5,198.6 423.9,197.8 424.4,197.1 424.8,196.4 425.3,195.9 425.8,195.3 426.2,194.8 426.7,194.4 427.1,193.9 427.6,193.5 428.0,193.1 428.5,192.8 428.9,192.4 429.4,192.1 429.8,191.8 430.3,191.6 430.7,191.3 431.2,191.1 431.6,190.8 432.1,190.6 432.5,190.4 433.0,190.2 433.4,190.0 433.9,189.8 434.3,189.6 434.8,189.4 435.2,189.3 435.7,189.1 436.1,188.9 436.6,188.8 437.0,188.6 437.5,188.5 437.9,188.4 438.4,188.2 438.8,188.1 439.3,188.0 439.7,187.9 440.2,187.8 440.6,187.7 441.1,187.6 441.6,187.5 442.0,187.4 442.5,187.3 442.9,187.2 443.4,187.1 443.8,187.0 444.3,186.9 444.7,186.8 445.2,186.8 445.6,186.7 446.1,186.6 446.5,186.6 447.0,186.5 447.4,186.4 447.9,186.4 448.3,186.3 448.8,186.2 449.2,186.2 449.7,186.1 450.1,186.1 450.6,186.0 451.0,186.0 451.5,185.9 451.9,185.9 452.4,185.8 452.8,185.8 453.3,185.7 453.7,185.7 454.2,185.7 454.6,185.6 455.1,185.6 455.5,185.5 456.0,185.5 456.5,185.5 456.9,185.4 457.4,185.4 457.8,185.4 458.3,185.3 458.7,185.3 459.2,185.3 459.6,185.3 460.1,185.2 460.5,185.2 461.0,185.2 461.4,185.2 461.9,185.1 462.3,185.1 462.8,185.1 463.2,185.1 463.7,185.1 464.1,185.0 464.6,185.0 465.0,185.0 465.5,185.0 465.9,185.0 466.4,184.9 466.8,184.9 467.3,184.9 467.7,184.9 468.2,184.9 468.6,184.9 469.1,184.9 469.5,184.9 470.0,184.8 470.4,184.8 470.9,184.8 471.4,184.8 471.8,184.8 472.3,184.8 472.7,184.8 473.2,184.8 473.6,184.8 474.1,184.8 474.5,184.7 475.0,184.7 475.4,184.7 475.9,184.7 476.3,184.7 476.8,184.7 477.2,184.7 477.7,184.7 478.1,184.7 478.6,184.7 479.0,184.7 479.5,184.7 479.9,184.7 480.4,184.7 480.8,184.7 481.3,184.7 481.7,184.7 482.2,184.7 482.6,184.7 483.1,184.7 483.5,184.7 484.0,184.7 484.4,184.7 484.9,184.7 485.3,184.7 485.8,184.7 486.3,184.7 486.7,184.7 487.2,184.7 487.6,184.7 488.1,184.7 488.5,184.7 489.0,184.7 489.4,184.7 489.9,184.7 490.3,184.7 490.8,184.7 491.2,184.7 491.7,184.7 492.1,184.7 492.6,184.7 493.0,184.7 493.5,184.7 493.9,184.7 494.4,184.7 494.8,184.7 495.3,184.7 495.7,184.7 496.2,184.7 496.6,184.7 497.1,184.7 497.5,184.7 498.0,184.7 498.4,184.7 498.9,184.7 499.3,184.7 499.8,184.7 500.2,184.7 500.7,184.7 501.2,184.7 501.6,184.7 502.1,184.8 502.5,184.8 503.0,184.8 503.4,184.8 503.9,184.8 504.3,184.8 504.8,184.8 505.2,184.8 505.7,184.8 506.1,184.8 506.6,184.8 507.0,184.8 507.5,184.8 507.9,184.8 508.4,184.8 508.8,184.8 509.3,184.8 509.7,184.9 510.2,184.9 510.6,184.9 511.1,184.9 511.5,184.9 512.0,184.9 512.4,184.9 512.9,184.9 513.3,184.9 513.8,184.9 514.2,184.9 514.7,184.9 515.1,184.9 515.6,184.9 516.1,185.0 516.5,185.0 517.0,185.0 517.4,185.0 517.9,185.0 518.3,185.0 518.8,185.0 519.2,185.0 519.7,185.0 520.1,185.0 520.6,185.0 521.0,185.0 521.5,185.0 521.9,185.1 522.4,185.1 522.8,185.1 523.3,185.1 523.7,185.1 524.2,185.1 524.6,185.1 525.1,185.1 525.5,185.1 526.0,185.1 526.4,185.1 526.9,185.1 527.3,185.2 527.8,185.2 528.2,185.2 528.7,185.2 529.1,185.2 529.6,185.2 530.0,185.2 530.5,185.2 531.0,185.2 531.4,185.2 531.9,185.2 532.3,185.2 532.8,185.3 533.2,185.3 533.7,185.3 534.1,185.3 534.6,185.3 535.0,185.3 535.5,185.3 535.9,185.3 536.4,185.3 536.8,185.3 537.3,185.3 537.7,185.4 538.2,185.4 538.6,185.4 539.1,185.4 539.5,185.4 540.0,185.4" fill="none" stroke="#c03838" stroke-width="1.1"/></g><polyline points="411.8,229.6 413.4,231.5 415.0,233.2 416.6,234.8 418.2,236.2 419.9,237.6 421.5,238.9 423.1,240.1 424.7,241.2 426.4,242.2 428.0,243.2 429.6,244.1 431.2,245.0 432.9,245.9 434.5,246.7 436.1,247.4 437.7,248.1 439.3,248.8 441.0,249.4 442.6,250.1 444.2,250.7 445.8,251.2 447.5,251.8 449.1,252.3 450.7,252.8 452.3,253.3 454.0,253.7 455.6,254.2 457.2,254.6 458.8,255.0 460.4,255.4 462.1,255.8 463.7,256.1 465.3,256.5 466.9,256.9 468.6,257.2 470.2,257.5 471.8,257.8 473.4,258.1 475.1,258.4 476.7,258.7 478.3,259.0 479.9,259.3 481.5,259.5 483.2,259.8 484.8,260.0 486.4,260.3 488.0,260.5 489.7,260.7 491.3,260.9 492.9,261.2 494.5,261.4 496.2,261.6 497.8,261.8 499.4,262.0 501.0,262.2 502.6,262.3 504.3,262.5 505.9,262.7 507.5,262.9 509.1,263.1 510.8,263.2 512.4,263.4 514.0,263.5 515.6,263.7 517.3,263.9 518.9,264.0 520.5,264.1 522.1,264.3 523.7,264.4 525.4,264.6 527.0,264.7 528.6,264.8 530.2,265.0 531.9,265.1 533.5,265.2 535.1,265.3 536.7,265.5 538.4,265.6 540.0,265.7" fill="none" stroke="#222" stroke-width="1.1"/><circle cx="503.0" cy="263.2" r="1.45" fill="#f02020"/><circle cx="473.2" cy="259.1" r="1.45" fill="#f02020"/><circle cx="455.1" cy="254.9" r="1.45" fill="#f02020"/><circle cx="442.5" cy="250.8" r="1.45" fill="#f02020"/><circle cx="432.5" cy="246.6" r="1.45" fill="#f02020"/><circle cx="426.7" cy="243.3" r="1.45" fill="#f02020"/><circle cx="425.3" cy="242.5" r="1.45" fill="#f02020"/><circle cx="424.4" cy="241.6" r="1.45" fill="#f02020"/><circle cx="419.9" cy="238.3" r="1.45" fill="#f02020"/><g clip-path="url(#clipD)"><polyline points="395.5,327.6 396.0,327.6 396.4,327.5 396.9,327.4 397.3,327.4 397.8,327.3 398.2,327.2 398.7,327.1 399.1,327.1 399.6,327.0 400.0,326.9 400.5,326.9 400.9,326.8 401.4,326.7 401.8,326.7 402.3,326.6 402.7,326.5 403.2,326.5 403.6,326.4 404.1,326.3 404.5,326.3 405.0,326.2 405.4,326.1 405.9,326.1 406.3,326.0 406.8,325.9 407.2,325.8 407.7,325.8 408.1,325.7 408.6,325.6 409.0,325.6 409.5,325.5 409.9,325.4 410.4,325.4 410.9,325.3 411.3,325.2 411.8,325.2 412.2,325.1 412.7,325.0 413.1,325.0 413.6,324.9 414.0,324.8 414.5,324.7 414.9,324.7 415.4,324.6 415.8,324.5 416.3,324.5 416.7,324.4 417.2,324.3 417.6,324.3 418.1,324.2 418.5,324.1 419.0,324.1 419.4,324.0 419.9,323.9 420.3,323.9 420.8,323.8 421.2,323.7 421.7,323.6 422.1,323.6 422.6,323.5 423.0,323.4 423.5,323.4 423.9,323.3 424.4,323.2 424.8,323.2 425.3,323.1 425.8,323.0 426.2,323.0 426.7,322.9 427.1,322.8 427.6,322.8 428.0,322.7 428.5,322.6 428.9,322.6 429.4,322.5 429.8,322.4 430.3,322.3 430.7,322.3 431.2,322.2 431.6,322.1 432.1,322.1 432.5,322.0 433.0,321.9 433.4,321.9 433.9,321.8 434.3,321.7 434.8,321.7 435.2,321.6 435.7,321.5 436.1,321.5 436.6,321.4 437.0,321.3 437.5,321.2 437.9,321.2 438.4,321.1 438.8,321.0 439.3,321.0 439.7,320.9 440.2,320.8 440.6,320.8 441.1,320.7 441.6,320.6 442.0,320.6 442.5,320.5 442.9,320.4 443.4,320.4 443.8,320.3 444.3,320.2 444.7,320.1 445.2,320.1 445.6,320.0 446.1,319.9 446.5,319.9 447.0,319.8 447.4,319.7 447.9,319.7 448.3,319.6 448.8,319.5 449.2,319.5 449.7,319.4 450.1,319.3 450.6,319.3 451.0,319.2 451.5,319.1 451.9,319.1 452.4,319.0 452.8,318.9 453.3,318.8 453.7,318.8 454.2,318.7 454.6,318.6 455.1,318.6 455.5,318.5 456.0,318.4 456.5,318.4 456.9,318.3 457.4,318.2 457.8,318.2 458.3,318.1 458.7,318.0 459.2,318.0 459.6,317.9 460.1,317.8 460.5,317.7 461.0,317.7 461.4,317.6 461.9,317.5 462.3,317.5 462.8,317.4 463.2,317.3 463.7,317.3 464.1,317.2 464.6,317.1 465.0,317.1 465.5,317.0 465.9,316.9 466.4,316.9 466.8,316.8 467.3,316.7 467.7,316.6 468.2,316.6 468.6,316.5 469.1,316.4 469.5,316.4 470.0,316.3 470.4,316.2 470.9,316.2 471.4,316.1 471.8,316.0 472.3,316.0 472.7,315.9 473.2,315.8 473.6,315.8 474.1,315.7 474.5,315.6 475.0,315.6 475.4,315.5 475.9,315.4 476.3,315.3 476.8,315.3 477.2,315.2 477.7,315.1 478.1,315.1 478.6,315.0 479.0,314.9 479.5,314.9 479.9,314.8 480.4,314.7 480.8,314.7 481.3,314.6 481.7,314.5 482.2,314.5 482.6,314.4 483.1,314.3 483.5,314.2 484.0,314.2 484.4,314.1 484.9,314.0 485.3,314.0 485.8,313.9 486.3,313.8 486.7,313.8 487.2,313.7 487.6,313.6 488.1,313.6 488.5,313.5 489.0,313.4 489.4,313.4 489.9,313.3 490.3,313.2 490.8,313.2 491.2,313.1 491.7,313.0 492.1,312.9 492.6,312.9 493.0,312.8 493.5,312.7 493.9,312.7 494.4,312.6 494.8,312.5 495.3,312.5 495.7,312.4 496.2,312.3 496.6,312.3 497.1,312.2 497.5,312.1 498.0,312.1 498.4,312.0 498.9,311.9 499.3,311.8 499.8,311.8 500.2,311.7 500.7,311.6 501.2,311.6 501.6,311.5 502.1,311.4 502.5,311.4 503.0,311.3 503.4,311.2 503.9,311.2 504.3,311.1 504.8,311.0 505.2,311.0 505.7,310.9 506.1,310.8 506.6,310.7 507.0,310.7 507.5,310.6 507.9,310.5 508.4,310.5 508.8,310.4 509.3,310.3 509.7,310.3 510.2,310.2 510.6,310.1 511.1,310.1 511.5,310.0 512.0,309.9 512.4,309.9 512.9,309.8 513.3,309.7 513.8,309.7 514.2,309.6 514.7,309.5 515.1,309.4 515.6,309.4 516.1,309.3 516.5,309.2 517.0,309.2 517.4,309.1 517.9,309.0 518.3,309.0 518.8,308.9 519.2,308.8 519.7,308.8 520.1,308.7 520.6,308.6 521.0,308.6 521.5,308.5 521.9,308.4 522.4,308.3 522.8,308.3 523.3,308.2 523.7,308.1 524.2,308.1 524.6,308.0 525.1,307.9 525.5,307.9 526.0,307.8 526.4,307.7 526.9,307.7 527.3,307.6 527.8,307.5 528.2,307.5 528.7,307.4 529.1,307.3 529.6,307.2 530.0,307.2 530.5,307.1 531.0,307.0 531.4,307.0 531.9,306.9 532.3,306.8 532.8,306.8 533.2,306.7 533.7,306.6 534.1,306.6 534.6,306.5 535.0,306.4 535.5,306.4 535.9,306.3 536.4,306.2 536.8,306.2 537.3,306.1 537.7,306.0 538.2,305.9 538.6,305.9 539.1,305.8 539.5,305.7 540.0,305.7" fill="none" stroke="#303030" stroke-width="1.1"/><polyline points="395.5,324.6 396.0,324.5 396.4,324.3 396.9,324.2 397.3,324.1 397.8,324.0 398.2,323.9 398.7,323.7 399.1,323.6 399.6,323.5 400.0,323.4 400.5,323.3 400.9,323.1 401.4,323.0 401.8,322.9 402.3,322.8 402.7,322.7 403.2,322.5 403.6,322.4 404.1,322.3 404.5,322.2 405.0,322.0 405.4,321.9 405.9,321.8 406.3,321.6 406.8,321.5 407.2,321.4 407.7,321.3 408.1,321.1 408.6,321.0 409.0,320.9 409.5,320.7 409.9,320.6 410.4,320.5 410.9,320.3 411.3,320.2 411.8,320.1 412.2,319.9 412.7,319.8 413.1,319.7 413.6,319.5 414.0,319.4 414.5,319.2 414.9,319.1 415.4,319.0 415.8,318.8 416.3,318.7 416.7,318.5 417.2,318.4 417.6,318.2 418.1,318.1 418.5,317.9 419.0,317.8 419.4,317.6 419.9,317.5 420.3,317.3 420.8,317.2 421.2,317.0 421.7,316.9 422.1,316.7 422.6,316.6 423.0,316.4 423.5,316.2 423.9,316.1 424.4,315.9 424.8,315.8 425.3,315.6 425.8,315.4 426.2,315.3 426.7,315.1 427.1,314.9 427.6,314.8 428.0,314.6 428.5,314.4 428.9,314.2 429.4,314.1 429.8,313.9 430.3,313.7 430.7,313.5 431.2,313.4 431.6,313.2 432.1,313.0 432.5,312.8 433.0,312.6 433.4,312.4 433.9,312.3 434.3,312.1 434.8,311.9 435.2,311.7 435.7,311.5 436.1,311.3 436.6,311.1 437.0,310.9 437.5,310.7 437.9,310.5 438.4,310.3 438.8,310.1 439.3,309.9 439.7,309.7 440.2,309.5 440.6,309.3 441.1,309.0 441.6,308.8 442.0,308.6 442.5,308.4 442.9,308.2 443.4,308.0 443.8,307.7 444.3,307.5 444.7,307.3 445.2,307.1 445.6,306.8 446.1,306.6 446.5,306.4 447.0,306.1 447.4,305.9 447.9,305.7 448.3,305.4 448.8,305.2 449.2,304.9 449.7,304.7 450.1,304.4 450.6,304.2 451.0,303.9 451.5,303.7 451.9,303.4 452.4,303.2 452.8,302.9 453.3,302.7 453.7,302.4 454.2,302.2 454.6,301.9 455.1,301.7 455.5,301.4 456.0,301.1 456.5,300.9 456.9,300.6 457.4,300.3 457.8,300.1 458.3,299.8 458.7,299.5 459.2,299.3 459.6,299.0 460.1,298.7 460.5,298.5 461.0,298.2 461.4,297.9 461.9,297.7 462.3,297.4 462.8,297.1 463.2,296.8 463.7,296.6 464.1,296.3 464.6,296.0 465.0,295.8 465.5,295.5 465.9,295.2 466.4,295.0 466.8,294.7 467.3,294.4 467.7,294.2 468.2,293.9 468.6,293.7 469.1,293.4 469.5,293.2 470.0,292.9 470.4,292.7 470.9,292.4 471.4,292.2 471.8,291.9 472.3,291.7 472.7,291.5 473.2,291.2 473.6,291.0 474.1,290.8 474.5,290.6 475.0,290.4 475.4,290.1 475.9,289.9 476.3,289.7 476.8,289.5 477.2,289.4 477.7,289.2 478.1,289.0 478.6,288.8 479.0,288.7 479.5,288.5 479.9,288.3 480.4,288.2 480.8,288.0 481.3,287.9 481.7,287.8 482.2,287.6 482.6,287.5 483.1,287.4 483.5,287.3 484.0,287.2 484.4,287.1 484.9,287.0 485.3,287.0 485.8,286.9 486.3,286.8 486.7,286.8 487.2,286.7 487.6,286.7 488.1,286.6 488.5,286.6 489.0,286.6 489.4,286.6 489.9,286.5 490.3,286.5 490.8,286.6 491.2,286.6 491.7,286.6 492.1,286.6 492.6,286.7 493.0,286.7 493.5,286.8 493.9,286.8 494.4,286.9 494.8,287.0 495.3,287.1 495.7,287.2 496.2,287.3 496.6,287.4 497.1,287.6 497.5,287.7 498.0,287.8 498.4,288.0 498.9,288.1 499.3,288.3 499.8,288.4 500.2,288.6 500.7,288.7 501.2,288.9 501.6,289.1 502.1,289.3 502.5,289.5 503.0,289.6 503.4,289.8 503.9,290.0 504.3,290.2 504.8,290.4 505.2,290.6 505.7,290.8 506.1,291.0 506.6,291.2 507.0,291.4 507.5,291.6 507.9,291.9 508.4,292.1 508.8,292.3 509.3,292.5 509.7,292.7 510.2,292.9 510.6,293.1 511.1,293.3 511.5,293.5 512.0,293.8 512.4,294.0 512.9,294.2 513.3,294.4 513.8,294.6 514.2,294.8 514.7,295.0 515.1,295.2 515.6,295.4 516.1,295.6 516.5,295.8 517.0,296.0 517.4,296.2 517.9,296.4 518.3,296.6 518.8,296.8 519.2,297.0 519.7,297.2 520.1,297.4 520.6,297.6 521.0,297.8 521.5,298.0 521.9,298.2 522.4,298.4 522.8,298.6 523.3,298.8 523.7,298.9 524.2,299.1 524.6,299.3 525.1,299.5 525.5,299.7 526.0,299.8 526.4,300.0 526.9,300.2 527.3,300.3 527.8,300.5 528.2,300.7 528.7,300.9 529.1,301.0 529.6,301.2 530.0,301.3 530.5,301.5 531.0,301.7 531.4,301.8 531.9,302.0 532.3,302.1 532.8,302.3 533.2,302.4 533.7,302.6 534.1,302.7 534.6,302.9 535.0,303.0 535.5,303.2 535.9,303.3 536.4,303.5 536.8,303.6 537.3,303.7 537.7,303.9 538.2,304.0 538.6,304.1 539.1,304.3 539.5,304.4 540.0,304.5" fill="none" stroke="#f03030" stroke-width="1.1"/><polyline points="395.5,323.3 396.0,323.2 396.4,323.0 396.9,322.8 397.3,322.7 397.8,322.5 398.2,322.4 398.7,322.2 399.1,322.1 399.6,321.9 400.0,321.7 400.5,321.6 400.9,321.4 401.4,321.3 401.8,321.1 402.3,320.9 402.7,320.8 403.2,320.6 403.6,320.4 404.1,320.2 404.5,320.1 405.0,319.9 405.4,319.7 405.9,319.5 406.3,319.4 406.8,319.2 407.2,319.0 407.7,318.8 408.1,318.7 408.6,318.5 409.0,318.3 409.5,318.1 409.9,317.9 410.4,317.7 410.9,317.5 411.3,317.3 411.8,317.1 412.2,316.9 412.7,316.7 413.1,316.5 413.6,316.3 414.0,316.1 414.5,315.9 414.9,315.7 415.4,315.5 415.8,315.3 416.3,315.1 416.7,314.9 417.2,314.7 417.6,314.5 418.1,314.2 418.5,314.0 419.0,313.8 419.4,313.6 419.9,313.3 420.3,313.1 420.8,312.9 421.2,312.6 421.7,312.4 422.1,312.2 422.6,311.9 423.0,311.7 423.5,311.4 423.9,311.2 424.4,310.9 424.8,310.7 425.3,310.4 425.8,310.1 426.2,309.9 426.7,309.6 427.1,309.4 427.6,309.1 428.0,308.8 428.5,308.5 428.9,308.3 429.4,308.0 429.8,307.7 430.3,307.4 430.7,307.1 431.2,306.8 431.6,306.5 432.1,306.2 432.5,305.9 433.0,305.6 433.4,305.3 433.9,305.0 434.3,304.7 434.8,304.4 435.2,304.1 435.7,303.8 436.1,303.5 436.6,303.1 437.0,302.8 437.5,302.5 437.9,302.2 438.4,301.8 438.8,301.5 439.3,301.2 439.7,300.8 440.2,300.5 440.6,300.2 441.1,299.8 441.6,299.5 442.0,299.1 442.5,298.8 442.9,298.5 443.4,298.1 443.8,297.8 444.3,297.4 444.7,297.1 445.2,296.8 445.6,296.4 446.1,296.1 446.5,295.7 447.0,295.4 447.4,295.1 447.9,294.7 448.3,294.4 448.8,294.1 449.2,293.8 449.7,293.4 450.1,293.1 450.6,292.8 451.0,292.5 451.5,292.2 451.9,291.9 452.4,291.6 452.8,291.3 453.3,291.0 453.7,290.8 454.2,290.5 454.6,290.2 455.1,290.0 455.5,289.8 456.0,289.5 456.5,289.3 456.9,289.1 457.4,288.9 457.8,288.7 458.3,288.5 458.7,288.3 459.2,288.1 459.6,288.0 460.1,287.8 460.5,287.7 461.0,287.6 461.4,287.4 461.9,287.3 462.3,287.2 462.8,287.2 463.2,287.1 463.7,287.0 464.1,287.0 464.6,286.9 465.0,286.9 465.5,286.9 465.9,286.9 466.4,286.9 466.8,286.9 467.3,287.0 467.7,287.0 468.2,287.1 468.6,287.2 469.1,287.3 469.5,287.4 470.0,287.5 470.4,287.6 470.9,287.8 471.4,287.9 471.8,288.1 472.3,288.3 472.7,288.5 473.2,288.7 473.6,288.9 474.1,289.1 474.5,289.3 475.0,289.5 475.4,289.7 475.9,290.0 476.3,290.2 476.8,290.5 477.2,290.7 477.7,291.0 478.1,291.2 478.6,291.5 479.0,291.7 479.5,292.0 479.9,292.3 480.4,292.5 480.8,292.8 481.3,293.1 481.7,293.3 482.2,293.6 482.6,293.9 483.1,294.1 483.5,294.4 484.0,294.7 484.4,294.9 484.9,295.2 485.3,295.5 485.8,295.7 486.3,296.0 486.7,296.2 487.2,296.5 487.6,296.8 488.1,297.0 488.5,297.3 489.0,297.5 489.4,297.8 489.9,298.0 490.3,298.2 490.8,298.5 491.2,298.7 491.7,299.0 492.1,299.2 492.6,299.4 493.0,299.6 493.5,299.9 493.9,300.1 494.4,300.3 494.8,300.5 495.3,300.7 495.7,301.0 496.2,301.2 496.6,301.4 497.1,301.6 497.5,301.8 498.0,302.0 498.4,302.2 498.9,302.4 499.3,302.6 499.8,302.8 500.2,302.9 500.7,303.1 501.2,303.3 501.6,303.5 502.1,303.7 502.5,303.8 503.0,304.0 503.4,304.2 503.9,304.4 504.3,304.5 504.8,304.7 505.2,304.9 505.7,305.0 506.1,305.2 506.6,305.3 507.0,305.5 507.5,305.7 507.9,305.8 508.4,306.0 508.8,306.1 509.3,306.3 509.7,306.4 510.2,306.5 510.6,306.7 511.1,306.8 511.5,307.0 512.0,307.1 512.4,307.2 512.9,307.4 513.3,307.5 513.8,307.6 514.2,307.8 514.7,307.9 515.1,308.0 515.6,308.1 516.1,308.3 516.5,308.4 517.0,308.5 517.4,308.6 517.9,308.7 518.3,308.8 518.8,309.0 519.2,309.1 519.7,309.2 520.1,309.3 520.6,309.4 521.0,309.5 521.5,309.6 521.9,309.7 522.4,309.8 522.8,309.9 523.3,310.0 523.7,310.1 524.2,310.2 524.6,310.3 525.1,310.4 525.5,310.5 526.0,310.6 526.4,310.7 526.9,310.8 527.3,310.9 527.8,311.0 528.2,311.1 528.7,311.2 529.1,311.3 529.6,311.3 530.0,311.4 530.5,311.5 531.0,311.6 531.4,311.7 531.9,311.8 532.3,311.9 532.8,311.9 533.2,312.0 533.7,312.1 534.1,312.2 534.6,312.3 535.0,312.3 535.5,312.4 535.9,312.5 536.4,312.6 536.8,312.6 537.3,312.7 537.7,312.8 538.2,312.9 538.6,312.9 539.1,313.0 539.5,313.1 540.0,313.1" fill="none" stroke="#3030f0" stroke-width="1.1"/><polyline points="395.5,322.0 396.0,321.8 396.4,321.6 396.9,321.4 397.3,321.2 397.8,321.0 398.2,320.8 398.7,320.6 399.1,320.4 399.6,320.2 400.0,320.0 400.5,319.8 400.9,319.6 401.4,319.4 401.8,319.2 402.3,318.9 402.7,318.7 403.2,318.5 403.6,318.3 404.1,318.0 404.5,317.8 405.0,317.6 405.4,317.4 405.9,317.1 406.3,316.9 406.8,316.6 407.2,316.4 407.7,316.1 408.1,315.9 408.6,315.6 409.0,315.4 409.5,315.1 409.9,314.9 410.4,314.6 410.9,314.3 411.3,314.1 411.8,313.8 412.2,313.5 412.7,313.2 413.1,313.0 413.6,312.7 414.0,312.4 414.5,312.1 414.9,311.8 415.4,311.5 415.8,311.2 416.3,310.9 416.7,310.6 417.2,310.3 417.6,309.9 418.1,309.6 418.5,309.3 419.0,309.0 419.4,308.6 419.9,308.3 420.3,307.9 420.8,307.6 421.2,307.3 421.7,306.9 422.1,306.5 422.6,306.2 423.0,305.8 423.5,305.4 423.9,305.1 424.4,304.7 424.8,304.3 425.3,303.9 425.8,303.5 426.2,303.2 426.7,302.8 427.1,302.4 427.6,302.0 428.0,301.6 428.5,301.2 428.9,300.8 429.4,300.4 429.8,300.0 430.3,299.5 430.7,299.1 431.2,298.7 431.6,298.3 432.1,297.9 432.5,297.5 433.0,297.1 433.4,296.7 433.9,296.3 434.3,295.9 434.8,295.5 435.2,295.1 435.7,294.7 436.1,294.3 436.6,293.9 437.0,293.5 437.5,293.1 437.9,292.8 438.4,292.4 438.8,292.1 439.3,291.7 439.7,291.4 440.2,291.1 440.6,290.8 441.1,290.5 441.6,290.2 442.0,289.9 442.5,289.7 442.9,289.4 443.4,289.2 443.8,289.0 444.3,288.8 444.7,288.6 445.2,288.4 445.6,288.3 446.1,288.1 446.5,288.0 447.0,287.9 447.4,287.8 447.9,287.7 448.3,287.7 448.8,287.6 449.2,287.6 449.7,287.6 450.1,287.6 450.6,287.7 451.0,287.7 451.5,287.8 451.9,287.9 452.4,288.0 452.8,288.1 453.3,288.3 453.7,288.5 454.2,288.7 454.6,288.9 455.1,289.1 455.5,289.3 456.0,289.6 456.5,289.8 456.9,290.1 457.4,290.4 457.8,290.7 458.3,290.9 458.7,291.2 459.2,291.5 459.6,291.8 460.1,292.2 460.5,292.5 461.0,292.8 461.4,293.1 461.9,293.4 462.3,293.8 462.8,294.1 463.2,294.4 463.7,294.7 464.1,295.0 464.6,295.4 465.0,295.7 465.5,296.0 465.9,296.3 466.4,296.6 466.8,296.9 467.3,297.2 467.7,297.6 468.2,297.9 468.6,298.2 469.1,298.4 469.5,298.7 470.0,299.0 470.4,299.3 470.9,299.6 471.4,299.9 471.8,300.1 472.3,300.4 472.7,300.7 473.2,300.9 473.6,301.2 474.1,301.5 474.5,301.7 475.0,302.0 475.4,302.2 475.9,302.4 476.3,302.7 476.8,302.9 477.2,303.1 477.7,303.4 478.1,303.6 478.6,303.8 479.0,304.0 479.5,304.2 479.9,304.5 480.4,304.7 480.8,304.9 481.3,305.1 481.7,305.3 482.2,305.5 482.6,305.7 483.1,305.8 483.5,306.0 484.0,306.2 484.4,306.4 484.9,306.6 485.3,306.7 485.8,306.9 486.3,307.1 486.7,307.3 487.2,307.4 487.6,307.6 488.1,307.7 488.5,307.9 489.0,308.1 489.4,308.2 489.9,308.4 490.3,308.5 490.8,308.7 491.2,308.8 491.7,308.9 492.1,309.1 492.6,309.2 493.0,309.4 493.5,309.5 493.9,309.6 494.4,309.8 494.8,309.9 495.3,310.0 495.7,310.1 496.2,310.3 496.6,310.4 497.1,310.5 497.5,310.6 498.0,310.7 498.4,310.9 498.9,311.0 499.3,311.1 499.8,311.2 500.2,311.3 500.7,311.4 501.2,311.5 501.6,311.6 502.1,311.7 502.5,311.8 503.0,311.9 503.4,312.0 503.9,312.1 504.3,312.2 504.8,312.3 505.2,312.4 505.7,312.5 506.1,312.6 506.6,312.7 507.0,312.8 507.5,312.9 507.9,313.0 508.4,313.1 508.8,313.2 509.3,313.2 509.7,313.3 510.2,313.4 510.6,313.5 511.1,313.6 511.5,313.7 512.0,313.7 512.4,313.8 512.9,313.9 513.3,314.0 513.8,314.1 514.2,314.1 514.7,314.2 515.1,314.3 515.6,314.4 516.1,314.4 516.5,314.5 517.0,314.6 517.4,314.6 517.9,314.7 518.3,314.8 518.8,314.8 519.2,314.9 519.7,315.0 520.1,315.0 520.6,315.1 521.0,315.2 521.5,315.2 521.9,315.3 522.4,315.4 522.8,315.4 523.3,315.5 523.7,315.5 524.2,315.6 524.6,315.7 525.1,315.7 525.5,315.8 526.0,315.8 526.4,315.9 526.9,315.9 527.3,316.0 527.8,316.1 528.2,316.1 528.7,316.2 529.1,316.2 529.6,316.3 530.0,316.3 530.5,316.4 531.0,316.4 531.4,316.5 531.9,316.5 532.3,316.6 532.8,316.6 533.2,316.7 533.7,316.7 534.1,316.8 534.6,316.8 535.0,316.9 535.5,316.9 535.9,316.9 536.4,317.0 536.8,317.0 537.3,317.1 537.7,317.1 538.2,317.2 538.6,317.2 539.1,317.2 539.5,317.3 540.0,317.3" fill="none" stroke="#2aa0a0" stroke-width="1.1"/><polyline points="395.5,320.9 396.0,320.7 396.4,320.4 396.9,320.2 397.3,320.0 397.8,319.7 398.2,319.5 398.7,319.2 399.1,319.0 399.6,318.7 400.0,318.5 400.5,318.2 400.9,317.9 401.4,317.7 401.8,317.4 402.3,317.1 402.7,316.9 403.2,316.6 403.6,316.3 404.1,316.0 404.5,315.7 405.0,315.4 405.4,315.1 405.9,314.8 406.3,314.5 406.8,314.2 407.2,313.9 407.7,313.6 408.1,313.2 408.6,312.9 409.0,312.6 409.5,312.2 409.9,311.9 410.4,311.5 410.9,311.2 411.3,310.8 411.8,310.5 412.2,310.1 412.7,309.7 413.1,309.3 413.6,309.0 414.0,308.6 414.5,308.2 414.9,307.8 415.4,307.4 415.8,307.0 416.3,306.5 416.7,306.1 417.2,305.7 417.6,305.3 418.1,304.8 418.5,304.4 419.0,304.0 419.4,303.5 419.9,303.1 420.3,302.6 420.8,302.1 421.2,301.7 421.7,301.2 422.1,300.8 422.6,300.3 423.0,299.8 423.5,299.4 423.9,298.9 424.4,298.4 424.8,298.0 425.3,297.5 425.8,297.0 426.2,296.6 426.7,296.1 427.1,295.7 427.6,295.2 428.0,294.8 428.5,294.4 428.9,294.0 429.4,293.6 429.8,293.2 430.3,292.8 430.7,292.4 431.2,292.1 431.6,291.7 432.1,291.4 432.5,291.1 433.0,290.8 433.4,290.6 433.9,290.3 434.3,290.1 434.8,289.9 435.2,289.7 435.7,289.6 436.1,289.4 436.6,289.3 437.0,289.2 437.5,289.1 437.9,289.1 438.4,289.0 438.8,289.0 439.3,289.0 439.7,289.1 440.2,289.2 440.6,289.3 441.1,289.4 441.6,289.6 442.0,289.7 442.5,289.9 442.9,290.2 443.4,290.4 443.8,290.7 444.3,290.9 444.7,291.2 445.2,291.5 445.6,291.9 446.1,292.2 446.5,292.5 447.0,292.9 447.4,293.2 447.9,293.6 448.3,293.9 448.8,294.3 449.2,294.7 449.7,295.0 450.1,295.4 450.6,295.8 451.0,296.1 451.5,296.5 451.9,296.9 452.4,297.2 452.8,297.6 453.3,297.9 453.7,298.3 454.2,298.6 454.6,299.0 455.1,299.3 455.5,299.6 456.0,300.0 456.5,300.3 456.9,300.6 457.4,300.9 457.8,301.2 458.3,301.5 458.7,301.8 459.2,302.1 459.6,302.4 460.1,302.7 460.5,303.0 461.0,303.3 461.4,303.5 461.9,303.8 462.3,304.1 462.8,304.3 463.2,304.6 463.7,304.8 464.1,305.1 464.6,305.3 465.0,305.5 465.5,305.8 465.9,306.0 466.4,306.2 466.8,306.4 467.3,306.7 467.7,306.9 468.2,307.1 468.6,307.3 469.1,307.5 469.5,307.7 470.0,307.9 470.4,308.1 470.9,308.2 471.4,308.4 471.8,308.6 472.3,308.8 472.7,309.0 473.2,309.1 473.6,309.3 474.1,309.5 474.5,309.6 475.0,309.8 475.4,309.9 475.9,310.1 476.3,310.2 476.8,310.4 477.2,310.5 477.7,310.7 478.1,310.8 478.6,311.0 479.0,311.1 479.5,311.2 479.9,311.4 480.4,311.5 480.8,311.6 481.3,311.8 481.7,311.9 482.2,312.0 482.6,312.1 483.1,312.3 483.5,312.4 484.0,312.5 484.4,312.6 484.9,312.7 485.3,312.8 485.8,312.9 486.3,313.0 486.7,313.2 487.2,313.3 487.6,313.4 488.1,313.5 488.5,313.6 489.0,313.7 489.4,313.8 489.9,313.9 490.3,314.0 490.8,314.1 491.2,314.1 491.7,314.2 492.1,314.3 492.6,314.4 493.0,314.5 493.5,314.6 493.9,314.7 494.4,314.8 494.8,314.8 495.3,314.9 495.7,315.0 496.2,315.1 496.6,315.2 497.1,315.2 497.5,315.3 498.0,315.4 498.4,315.5 498.9,315.5 499.3,315.6 499.8,315.7 500.2,315.8 500.7,315.8 501.2,315.9 501.6,316.0 502.1,316.0 502.5,316.1 503.0,316.2 503.4,316.2 503.9,316.3 504.3,316.4 504.8,316.4 505.2,316.5 505.7,316.6 506.1,316.6 506.6,316.7 507.0,316.7 507.5,316.8 507.9,316.8 508.4,316.9 508.8,317.0 509.3,317.0 509.7,317.1 510.2,317.1 510.6,317.2 511.1,317.2 511.5,317.3 512.0,317.3 512.4,317.4 512.9,317.4 513.3,317.5 513.8,317.5 514.2,317.6 514.7,317.6 515.1,317.7 515.6,317.7 516.1,317.8 516.5,317.8 517.0,317.8 517.4,317.9 517.9,317.9 518.3,318.0 518.8,318.0 519.2,318.0 519.7,318.1 520.1,318.1 520.6,318.2 521.0,318.2 521.5,318.2 521.9,318.3 522.4,318.3 522.8,318.3 523.3,318.4 523.7,318.4 524.2,318.4 524.6,318.5 525.1,318.5 525.5,318.5 526.0,318.5 526.4,318.6 526.9,318.6 527.3,318.6 527.8,318.7 528.2,318.7 528.7,318.7 529.1,318.7 529.6,318.7 530.0,318.8 530.5,318.8 531.0,318.8 531.4,318.8 531.9,318.8 532.3,318.8 532.8,318.9 533.2,318.9 533.7,318.9 534.1,318.9 534.6,318.9 535.0,318.9 535.5,318.9 535.9,318.9 536.4,318.9 536.8,318.9 537.3,318.9 537.7,318.9 538.2,318.9 538.6,318.9 539.1,318.9 539.5,318.9 540.0,318.9" fill="none" stroke="#f030f0" stroke-width="1.1"/><polyline points="395.5,319.7 396.0,319.4 396.4,319.1 396.9,318.9 397.3,318.6 397.8,318.3 398.2,318.0 398.7,317.7 399.1,317.4 399.6,317.0 400.0,316.7 400.5,316.4 400.9,316.1 401.4,315.8 401.8,315.4 402.3,315.1 402.7,314.7 403.2,314.4 403.6,314.0 404.1,313.7 404.5,313.3 405.0,312.9 405.4,312.5 405.9,312.1 406.3,311.7 406.8,311.3 407.2,310.9 407.7,310.5 408.1,310.1 408.6,309.7 409.0,309.2 409.5,308.8 409.9,308.3 410.4,307.9 410.9,307.4 411.3,307.0 411.8,306.5 412.2,306.0 412.7,305.5 413.1,305.0 413.6,304.5 414.0,304.0 414.5,303.5 414.9,303.0 415.4,302.5 415.8,302.0 416.3,301.5 416.7,300.9 417.2,300.4 417.6,299.9 418.1,299.4 418.5,298.8 419.0,298.3 419.4,297.8 419.9,297.3 420.3,296.8 420.8,296.3 421.2,295.8 421.7,295.3 422.1,294.9 422.6,294.4 423.0,294.0 423.5,293.6 423.9,293.2 424.4,292.8 424.8,292.4 425.3,292.1 425.8,291.8 426.2,291.5 426.7,291.2 427.1,291.0 427.6,290.8 428.0,290.6 428.5,290.4 428.9,290.3 429.4,290.2 429.8,290.1 430.3,290.1 430.7,290.1 431.2,290.1 431.6,290.2 432.1,290.3 432.5,290.4 433.0,290.6 433.4,290.8 433.9,291.0 434.3,291.2 434.8,291.5 435.2,291.8 435.7,292.2 436.1,292.5 436.6,292.8 437.0,293.2 437.5,293.6 437.9,294.0 438.4,294.4 438.8,294.8 439.3,295.2 439.7,295.6 440.2,296.0 440.6,296.4 441.1,296.8 441.6,297.2 442.0,297.7 442.5,298.1 442.9,298.5 443.4,298.8 443.8,299.2 444.3,299.6 444.7,300.0 445.2,300.4 445.6,300.8 446.1,301.1 446.5,301.5 447.0,301.8 447.4,302.2 447.9,302.5 448.3,302.8 448.8,303.2 449.2,303.5 449.7,303.8 450.1,304.1 450.6,304.4 451.0,304.7 451.5,305.0 451.9,305.3 452.4,305.5 452.8,305.8 453.3,306.1 453.7,306.3 454.2,306.6 454.6,306.8 455.1,307.1 455.5,307.3 456.0,307.6 456.5,307.8 456.9,308.0 457.4,308.2 457.8,308.5 458.3,308.7 458.7,308.9 459.2,309.1 459.6,309.3 460.1,309.5 460.5,309.7 461.0,309.9 461.4,310.0 461.9,310.2 462.3,310.4 462.8,310.6 463.2,310.7 463.7,310.9 464.1,311.1 464.6,311.2 465.0,311.4 465.5,311.5 465.9,311.7 466.4,311.9 466.8,312.0 467.3,312.1 467.7,312.3 468.2,312.4 468.6,312.6 469.1,312.7 469.5,312.8 470.0,313.0 470.4,313.1 470.9,313.2 471.4,313.3 471.8,313.5 472.3,313.6 472.7,313.7 473.2,313.8 473.6,313.9 474.1,314.0 474.5,314.2 475.0,314.3 475.4,314.4 475.9,314.5 476.3,314.6 476.8,314.7 477.2,314.8 477.7,314.9 478.1,315.0 478.6,315.1 479.0,315.2 479.5,315.3 479.9,315.3 480.4,315.4 480.8,315.5 481.3,315.6 481.7,315.7 482.2,315.8 482.6,315.9 483.1,316.0 483.5,316.0 484.0,316.1 484.4,316.2 484.9,316.3 485.3,316.3 485.8,316.4 486.3,316.5 486.7,316.6 487.2,316.6 487.6,316.7 488.1,316.8 488.5,316.8 489.0,316.9 489.4,317.0 489.9,317.0 490.3,317.1 490.8,317.2 491.2,317.2 491.7,317.3 492.1,317.4 492.6,317.4 493.0,317.5 493.5,317.5 493.9,317.6 494.4,317.7 494.8,317.7 495.3,317.8 495.7,317.8 496.2,317.9 496.6,317.9 497.1,318.0 497.5,318.0 498.0,318.1 498.4,318.1 498.9,318.2 499.3,318.2 499.8,318.3 500.2,318.3 500.7,318.3 501.2,318.4 501.6,318.4 502.1,318.5 502.5,318.5 503.0,318.5 503.4,318.6 503.9,318.6 504.3,318.6 504.8,318.7 505.2,318.7 505.7,318.7 506.1,318.8 506.6,318.8 507.0,318.8 507.5,318.9 507.9,318.9 508.4,318.9 508.8,318.9 509.3,319.0 509.7,319.0 510.2,319.0 510.6,319.0 511.1,319.0 511.5,319.0 512.0,319.1 512.4,319.1 512.9,319.1 513.3,319.1 513.8,319.1 514.2,319.1 514.7,319.1 515.1,319.1 515.6,319.1 516.1,319.1 516.5,319.1 517.0,319.1 517.4,319.1 517.9,319.1 518.3,319.1 518.8,319.1 519.2,319.1 519.7,319.0 520.1,319.0 520.6,319.0 521.0,319.0 521.5,319.0 521.9,318.9 522.4,318.9 522.8,318.9 523.3,318.8 523.7,318.8 524.2,318.8 524.6,318.7 525.1,318.7 525.5,318.6 526.0,318.6 526.4,318.5 526.9,318.5 527.3,318.4 527.8,318.4 528.2,318.3 528.7,318.3 529.1,318.2 529.6,318.1 530.0,318.1 530.5,318.0 531.0,317.9 531.4,317.8 531.9,317.8 532.3,317.7 532.8,317.6 533.2,317.5 533.7,317.4 534.1,317.3 534.6,317.2 535.0,317.1 535.5,317.0 535.9,316.9 536.4,316.8 536.8,316.7 537.3,316.6 537.7,316.5 538.2,316.4 538.6,316.3 539.1,316.2 539.5,316.1 540.0,315.9" fill="none" stroke="#a0a020" stroke-width="1.1"/><polyline points="395.5,318.7 396.0,318.4 396.4,318.0 396.9,317.7 397.3,317.4 397.8,317.0 398.2,316.7 398.7,316.3 399.1,316.0 399.6,315.6 400.0,315.2 400.5,314.9 400.9,314.5 401.4,314.1 401.8,313.7 402.3,313.3 402.7,312.8 403.2,312.4 403.6,312.0 404.1,311.6 404.5,311.1 405.0,310.7 405.4,310.2 405.9,309.7 406.3,309.2 406.8,308.8 407.2,308.3 407.7,307.8 408.1,307.2 408.6,306.7 409.0,306.2 409.5,305.7 409.9,305.1 410.4,304.6 410.9,304.0 411.3,303.5 411.8,302.9 412.2,302.4 412.7,301.8 413.1,301.2 413.6,300.7 414.0,300.1 414.5,299.5 414.9,299.0 415.4,298.4 415.8,297.9 416.3,297.3 416.7,296.8 417.2,296.3 417.6,295.8 418.1,295.3 418.5,294.8 419.0,294.4 419.4,293.9 419.9,293.5 420.3,293.2 420.8,292.8 421.2,292.5 421.7,292.2 422.1,292.0 422.6,291.8 423.0,291.6 423.5,291.4 423.9,291.3 424.4,291.2 424.8,291.2 425.3,291.1 425.8,291.2 426.2,291.2 426.7,291.4 427.1,291.5 427.6,291.7 428.0,292.0 428.5,292.2 428.9,292.5 429.4,292.8 429.8,293.2 430.3,293.6 430.7,294.0 431.2,294.4 431.6,294.8 432.1,295.2 432.5,295.6 433.0,296.1 433.4,296.5 433.9,297.0 434.3,297.4 434.8,297.9 435.2,298.3 435.7,298.7 436.1,299.2 436.6,299.6 437.0,300.0 437.5,300.5 437.9,300.9 438.4,301.3 438.8,301.7 439.3,302.1 439.7,302.4 440.2,302.8 440.6,303.2 441.1,303.5 441.6,303.9 442.0,304.2 442.5,304.6 442.9,304.9 443.4,305.2 443.8,305.5 444.3,305.9 444.7,306.2 445.2,306.4 445.6,306.7 446.1,307.0 446.5,307.3 447.0,307.6 447.4,307.8 447.9,308.1 448.3,308.3 448.8,308.6 449.2,308.8 449.7,309.0 450.1,309.3 450.6,309.5 451.0,309.7 451.5,309.9 451.9,310.1 452.4,310.3 452.8,310.5 453.3,310.7 453.7,310.9 454.2,311.1 454.6,311.3 455.1,311.5 455.5,311.7 456.0,311.8 456.5,312.0 456.9,312.2 457.4,312.3 457.8,312.5 458.3,312.6 458.7,312.8 459.2,312.9 459.6,313.1 460.1,313.2 460.5,313.4 461.0,313.5 461.4,313.7 461.9,313.8 462.3,313.9 462.8,314.0 463.2,314.2 463.7,314.3 464.1,314.4 464.6,314.5 465.0,314.7 465.5,314.8 465.9,314.9 466.4,315.0 466.8,315.1 467.3,315.2 467.7,315.3 468.2,315.4 468.6,315.5 469.1,315.6 469.5,315.7 470.0,315.8 470.4,315.9 470.9,316.0 471.4,316.1 471.8,316.2 472.3,316.3 472.7,316.4 473.2,316.5 473.6,316.5 474.1,316.6 474.5,316.7 475.0,316.8 475.4,316.9 475.9,316.9 476.3,317.0 476.8,317.1 477.2,317.2 477.7,317.2 478.1,317.3 478.6,317.4 479.0,317.5 479.5,317.5 479.9,317.6 480.4,317.7 480.8,317.7 481.3,317.8 481.7,317.9 482.2,317.9 482.6,318.0 483.1,318.0 483.5,318.1 484.0,318.1 484.4,318.2 484.9,318.3 485.3,318.3 485.8,318.4 486.3,318.4 486.7,318.5 487.2,318.5 487.6,318.6 488.1,318.6 488.5,318.6 489.0,318.7 489.4,318.7 489.9,318.8 490.3,318.8 490.8,318.8 491.2,318.9 491.7,318.9 492.1,319.0 492.6,319.0 493.0,319.0 493.5,319.0 493.9,319.1 494.4,319.1 494.8,319.1 495.3,319.2 495.7,319.2 496.2,319.2 496.6,319.2 497.1,319.2 497.5,319.2 498.0,319.3 498.4,319.3 498.9,319.3 499.3,319.3 499.8,319.3 500.2,319.3 500.7,319.3 501.2,319.3 501.6,319.3 502.1,319.3 502.5,319.3 503.0,319.3 503.4,319.3 503.9,319.2 504.3,319.2 504.8,319.2 505.2,319.2 505.7,319.2 506.1,319.1 506.6,319.1 507.0,319.1 507.5,319.0 507.9,319.0 508.4,319.0 508.8,318.9 509.3,318.9 509.7,318.8 510.2,318.8 510.6,318.7 511.1,318.7 511.5,318.6 512.0,318.5 512.4,318.5 512.9,318.4 513.3,318.3 513.8,318.3 514.2,318.2 514.7,318.1 515.1,318.0 515.6,317.9 516.1,317.9 516.5,317.8 517.0,317.7 517.4,317.6 517.9,317.5 518.3,317.4 518.8,317.3 519.2,317.1 519.7,317.0 520.1,316.9 520.6,316.8 521.0,316.7 521.5,316.5 521.9,316.4 522.4,316.3 522.8,316.2 523.3,316.0 523.7,315.9 524.2,315.7 524.6,315.6 525.1,315.4 525.5,315.3 526.0,315.1 526.4,315.0 526.9,314.8 527.3,314.7 527.8,314.5 528.2,314.3 528.7,314.2 529.1,314.0 529.6,313.8 530.0,313.7 530.5,313.5 531.0,313.3 531.4,313.1 531.9,313.0 532.3,312.8 532.8,312.6 533.2,312.4 533.7,312.2 534.1,312.0 534.6,311.9 535.0,311.7 535.5,311.5 535.9,311.3 536.4,311.1 536.8,310.9 537.3,310.8 537.7,310.6 538.2,310.4 538.6,310.2 539.1,310.1 539.5,309.9 540.0,309.7" fill="none" stroke="#f020a0" stroke-width="1.1"/><polyline points="395.5,318.4 396.0,318.1 396.4,317.7 396.9,317.4 397.3,317.1 397.8,316.7 398.2,316.3 398.7,316.0 399.1,315.6 399.6,315.2 400.0,314.8 400.5,314.4 400.9,314.0 401.4,313.6 401.8,313.2 402.3,312.7 402.7,312.3 403.2,311.9 403.6,311.4 404.1,311.0 404.5,310.5 405.0,310.0 405.4,309.5 405.9,309.0 406.3,308.5 406.8,308.0 407.2,307.5 407.7,307.0 408.1,306.4 408.6,305.9 409.0,305.3 409.5,304.8 409.9,304.2 410.4,303.6 410.9,303.1 411.3,302.5 411.8,301.9 412.2,301.3 412.7,300.8 413.1,300.2 413.6,299.6 414.0,299.0 414.5,298.5 414.9,297.9 415.4,297.4 415.8,296.8 416.3,296.3 416.7,295.8 417.2,295.3 417.6,294.9 418.1,294.4 418.5,294.0 419.0,293.6 419.4,293.3 419.9,292.9 420.3,292.6 420.8,292.4 421.2,292.1 421.7,291.9 422.1,291.8 422.6,291.7 423.0,291.6 423.5,291.5 423.9,291.5 424.4,291.5 424.8,291.6 425.3,291.7 425.8,291.9 426.2,292.1 426.7,292.3 427.1,292.6 427.6,292.9 428.0,293.3 428.5,293.6 428.9,294.0 429.4,294.4 429.8,294.8 430.3,295.3 430.7,295.7 431.2,296.2 431.6,296.6 432.1,297.1 432.5,297.5 433.0,298.0 433.4,298.4 433.9,298.9 434.3,299.3 434.8,299.8 435.2,300.2 435.7,300.6 436.1,301.0 436.6,301.5 437.0,301.9 437.5,302.3 437.9,302.7 438.4,303.0 438.8,303.4 439.3,303.8 439.7,304.1 440.2,304.5 440.6,304.8 441.1,305.2 441.6,305.5 442.0,305.8 442.5,306.1 442.9,306.4 443.4,306.7 443.8,307.0 444.3,307.3 444.7,307.6 445.2,307.9 445.6,308.1 446.1,308.4 446.5,308.6 447.0,308.9 447.4,309.1 447.9,309.4 448.3,309.6 448.8,309.8 449.2,310.0 449.7,310.2 450.1,310.5 450.6,310.7 451.0,310.9 451.5,311.1 451.9,311.2 452.4,311.4 452.8,311.6 453.3,311.8 453.7,312.0 454.2,312.1 454.6,312.3 455.1,312.5 455.5,312.6 456.0,312.8 456.5,313.0 456.9,313.1 457.4,313.3 457.8,313.4 458.3,313.6 458.7,313.7 459.2,313.8 459.6,314.0 460.1,314.1 460.5,314.2 461.0,314.4 461.4,314.5 461.9,314.6 462.3,314.7 462.8,314.8 463.2,315.0 463.7,315.1 464.1,315.2 464.6,315.3 465.0,315.4 465.5,315.5 465.9,315.6 466.4,315.7 466.8,315.8 467.3,315.9 467.7,316.0 468.2,316.1 468.6,316.2 469.1,316.3 469.5,316.4 470.0,316.5 470.4,316.6 470.9,316.7 471.4,316.7 471.8,316.8 472.3,316.9 472.7,317.0 473.2,317.1 473.6,317.2 474.1,317.2 474.5,317.3 475.0,317.4 475.4,317.5 475.9,317.5 476.3,317.6 476.8,317.7 477.2,317.7 477.7,317.8 478.1,317.9 478.6,317.9 479.0,318.0 479.5,318.0 479.9,318.1 480.4,318.2 480.8,318.2 481.3,318.3 481.7,318.3 482.2,318.4 482.6,318.4 483.1,318.5 483.5,318.5 484.0,318.6 484.4,318.6 484.9,318.7 485.3,318.7 485.8,318.8 486.3,318.8 486.7,318.9 487.2,318.9 487.6,318.9 488.1,319.0 488.5,319.0 489.0,319.0 489.4,319.1 489.9,319.1 490.3,319.1 490.8,319.2 491.2,319.2 491.7,319.2 492.1,319.2 492.6,319.3 493.0,319.3 493.5,319.3 493.9,319.3 494.4,319.3 494.8,319.3 495.3,319.3 495.7,319.3 496.2,319.4 496.6,319.4 497.1,319.4 497.5,319.4 498.0,319.4 498.4,319.3 498.9,319.3 499.3,319.3 499.8,319.3 500.2,319.3 500.7,319.3 501.2,319.3 501.6,319.2 502.1,319.2 502.5,319.2 503.0,319.2 503.4,319.1 503.9,319.1 504.3,319.0 504.8,319.0 505.2,319.0 505.7,318.9 506.1,318.9 506.6,318.8 507.0,318.7 507.5,318.7 507.9,318.6 508.4,318.5 508.8,318.5 509.3,318.4 509.7,318.3 510.2,318.3 510.6,318.2 511.1,318.1 511.5,318.0 512.0,317.9 512.4,317.8 512.9,317.7 513.3,317.6 513.8,317.5 514.2,317.4 514.7,317.3 515.1,317.2 515.6,317.1 516.1,316.9 516.5,316.8 517.0,316.7 517.4,316.6 517.9,316.4 518.3,316.3 518.8,316.2 519.2,316.0 519.7,315.9 520.1,315.7 520.6,315.6 521.0,315.4 521.5,315.3 521.9,315.1 522.4,314.9 522.8,314.8 523.3,314.6 523.7,314.4 524.2,314.3 524.6,314.1 525.1,313.9 525.5,313.7 526.0,313.6 526.4,313.4 526.9,313.2 527.3,313.0 527.8,312.8 528.2,312.6 528.7,312.5 529.1,312.3 529.6,312.1 530.0,311.9 530.5,311.7 531.0,311.5 531.4,311.3 531.9,311.1 532.3,310.9 532.8,310.8 533.2,310.6 533.7,310.4 534.1,310.2 534.6,310.0 535.0,309.9 535.5,309.7 535.9,309.5 536.4,309.4 536.8,309.2 537.3,309.1 537.7,308.9 538.2,308.8 538.6,308.7 539.1,308.5 539.5,308.4 540.0,308.3" fill="none" stroke="#3030c0" stroke-width="1.1"/><polyline points="395.5,318.2 396.0,317.8 396.4,317.5 396.9,317.1 397.3,316.7 397.8,316.4 398.2,316.0 398.7,315.6 399.1,315.2 399.6,314.8 400.0,314.4 400.5,314.0 400.9,313.6 401.4,313.2 401.8,312.7 402.3,312.3 402.7,311.8 403.2,311.4 403.6,310.9 404.1,310.4 404.5,309.9 405.0,309.4 405.4,308.9 405.9,308.4 406.3,307.9 406.8,307.3 407.2,306.8 407.7,306.2 408.1,305.7 408.6,305.1 409.0,304.6 409.5,304.0 409.9,303.4 410.4,302.8 410.9,302.2 411.3,301.6 411.8,301.1 412.2,300.5 412.7,299.9 413.1,299.3 413.6,298.7 414.0,298.1 414.5,297.6 414.9,297.0 415.4,296.5 415.8,296.0 416.3,295.5 416.7,295.0 417.2,294.5 417.6,294.1 418.1,293.7 418.5,293.3 419.0,293.0 419.4,292.7 419.9,292.4 420.3,292.2 420.8,292.0 421.2,291.8 421.7,291.7 422.1,291.6 422.6,291.5 423.0,291.5 423.5,291.5 423.9,291.6 424.4,291.7 424.8,291.9 425.3,292.1 425.8,292.4 426.2,292.7 426.7,293.0 427.1,293.3 427.6,293.7 428.0,294.1 428.5,294.5 428.9,295.0 429.4,295.4 429.8,295.8 430.3,296.3 430.7,296.8 431.2,297.2 431.6,297.7 432.1,298.2 432.5,298.6 433.0,299.1 433.4,299.5 433.9,300.0 434.3,300.4 434.8,300.8 435.2,301.3 435.7,301.7 436.1,302.1 436.6,302.5 437.0,302.9 437.5,303.3 437.9,303.6 438.4,304.0 438.8,304.4 439.3,304.7 439.7,305.1 440.2,305.4 440.6,305.7 441.1,306.1 441.6,306.4 442.0,306.7 442.5,307.0 442.9,307.3 443.4,307.6 443.8,307.8 444.3,308.1 444.7,308.4 445.2,308.6 445.6,308.9 446.1,309.1 446.5,309.4 447.0,309.6 447.4,309.8 447.9,310.0 448.3,310.3 448.8,310.5 449.2,310.7 449.7,310.9 450.1,311.1 450.6,311.3 451.0,311.5 451.5,311.7 451.9,311.8 452.4,312.0 452.8,312.2 453.3,312.4 453.7,312.5 454.2,312.7 454.6,312.9 455.1,313.0 455.5,313.2 456.0,313.3 456.5,313.5 456.9,313.6 457.4,313.8 457.8,313.9 458.3,314.0 458.7,314.2 459.2,314.3 459.6,314.4 460.1,314.6 460.5,314.7 461.0,314.8 461.4,314.9 461.9,315.0 462.3,315.2 462.8,315.3 463.2,315.4 463.7,315.5 464.1,315.6 464.6,315.7 465.0,315.8 465.5,315.9 465.9,316.0 466.4,316.1 466.8,316.2 467.3,316.3 467.7,316.4 468.2,316.5 468.6,316.6 469.1,316.7 469.5,316.8 470.0,316.8 470.4,316.9 470.9,317.0 471.4,317.1 471.8,317.2 472.3,317.2 472.7,317.3 473.2,317.4 473.6,317.5 474.1,317.5 474.5,317.6 475.0,317.7 475.4,317.7 475.9,317.8 476.3,317.9 476.8,317.9 477.2,318.0 477.7,318.1 478.1,318.1 478.6,318.2 479.0,318.3 479.5,318.3 479.9,318.4 480.4,318.4 480.8,318.5 481.3,318.5 481.7,318.6 482.2,318.6 482.6,318.7 483.1,318.7 483.5,318.8 484.0,318.8 484.4,318.8 484.9,318.9 485.3,318.9 485.8,319.0 486.3,319.0 486.7,319.0 487.2,319.1 487.6,319.1 488.1,319.1 488.5,319.2 489.0,319.2 489.4,319.2 489.9,319.2 490.3,319.3 490.8,319.3 491.2,319.3 491.7,319.3 492.1,319.3 492.6,319.3 493.0,319.3 493.5,319.3 493.9,319.4 494.4,319.4 494.8,319.4 495.3,319.4 495.7,319.4 496.2,319.3 496.6,319.3 497.1,319.3 497.5,319.3 498.0,319.3 498.4,319.3 498.9,319.3 499.3,319.2 499.8,319.2 500.2,319.2 500.7,319.1 501.2,319.1 501.6,319.1 502.1,319.0 502.5,319.0 503.0,318.9 503.4,318.9 503.9,318.8 504.3,318.8 504.8,318.7 505.2,318.6 505.7,318.6 506.1,318.5 506.6,318.4 507.0,318.4 507.5,318.3 507.9,318.2 508.4,318.1 508.8,318.0 509.3,317.9 509.7,317.8 510.2,317.7 510.6,317.6 511.1,317.5 511.5,317.4 512.0,317.3 512.4,317.2 512.9,317.1 513.3,316.9 513.8,316.8 514.2,316.7 514.7,316.6 515.1,316.4 515.6,316.3 516.1,316.1 516.5,316.0 517.0,315.9 517.4,315.7 517.9,315.5 518.3,315.4 518.8,315.2 519.2,315.1 519.7,314.9 520.1,314.7 520.6,314.6 521.0,314.4 521.5,314.2 521.9,314.0 522.4,313.9 522.8,313.7 523.3,313.5 523.7,313.3 524.2,313.1 524.6,312.9 525.1,312.7 525.5,312.6 526.0,312.4 526.4,312.2 526.9,312.0 527.3,311.8 527.8,311.6 528.2,311.4 528.7,311.2 529.1,311.0 529.6,310.8 530.0,310.6 530.5,310.4 531.0,310.3 531.4,310.1 531.9,309.9 532.3,309.7 532.8,309.6 533.2,309.4 533.7,309.2 534.1,309.1 534.6,308.9 535.0,308.8 535.5,308.7 535.9,308.6 536.4,308.4 536.8,308.3 537.3,308.2 537.7,308.1 538.2,308.1 538.6,308.0 539.1,307.9 539.5,307.9 540.0,307.8" fill="none" stroke="#20a020" stroke-width="1.1"/><polyline points="395.5,316.8 396.0,316.4 396.4,315.9 396.9,315.5 397.3,315.1 397.8,314.6 398.2,314.2 398.7,313.7 399.1,313.2 399.6,312.8 400.0,312.3 400.5,311.7 400.9,311.2 401.4,310.7 401.8,310.2 402.3,309.6 402.7,309.1 403.2,308.5 403.6,307.9 404.1,307.3 404.5,306.7 405.0,306.1 405.4,305.5 405.9,304.9 406.3,304.2 406.8,303.6 407.2,303.0 407.7,302.3 408.1,301.7 408.6,301.0 409.0,300.4 409.5,299.8 409.9,299.1 410.4,298.5 410.9,297.9 411.3,297.3 411.8,296.8 412.2,296.2 412.7,295.7 413.1,295.2 413.6,294.8 414.0,294.4 414.5,294.0 414.9,293.7 415.4,293.4 415.8,293.1 416.3,292.9 416.7,292.8 417.2,292.7 417.6,292.6 418.1,292.6 418.5,292.6 419.0,292.7 419.4,292.8 419.9,293.1 420.3,293.3 420.8,293.6 421.2,294.0 421.7,294.3 422.1,294.8 422.6,295.2 423.0,295.6 423.5,296.1 423.9,296.6 424.4,297.1 424.8,297.6 425.3,298.1 425.8,298.6 426.2,299.1 426.7,299.6 427.1,300.1 427.6,300.6 428.0,301.1 428.5,301.6 428.9,302.0 429.4,302.5 429.8,302.9 430.3,303.4 430.7,303.8 431.2,304.2 431.6,304.6 432.1,305.0 432.5,305.4 433.0,305.8 433.4,306.1 433.9,306.5 434.3,306.8 434.8,307.2 435.2,307.5 435.7,307.8 436.1,308.1 436.6,308.4 437.0,308.7 437.5,309.0 437.9,309.3 438.4,309.6 438.8,309.8 439.3,310.1 439.7,310.3 440.2,310.6 440.6,310.8 441.1,311.1 441.6,311.3 442.0,311.5 442.5,311.7 442.9,311.9 443.4,312.1 443.8,312.3 444.3,312.5 444.7,312.7 445.2,312.9 445.6,313.1 446.1,313.3 446.5,313.4 447.0,313.6 447.4,313.8 447.9,313.9 448.3,314.1 448.8,314.2 449.2,314.4 449.7,314.5 450.1,314.7 450.6,314.8 451.0,315.0 451.5,315.1 451.9,315.2 452.4,315.4 452.8,315.5 453.3,315.6 453.7,315.7 454.2,315.9 454.6,316.0 455.1,316.1 455.5,316.2 456.0,316.3 456.5,316.4 456.9,316.5 457.4,316.6 457.8,316.7 458.3,316.8 458.7,316.9 459.2,317.0 459.6,317.1 460.1,317.2 460.5,317.3 461.0,317.4 461.4,317.5 461.9,317.6 462.3,317.6 462.8,317.7 463.2,317.8 463.7,317.9 464.1,318.0 464.6,318.0 465.0,318.1 465.5,318.2 465.9,318.2 466.4,318.3 466.8,318.4 467.3,318.4 467.7,318.5 468.2,318.6 468.6,318.6 469.1,318.7 469.5,318.7 470.0,318.8 470.4,318.9 470.9,318.9 471.4,319.0 471.8,319.0 472.3,319.1 472.7,319.1 473.2,319.1 473.6,319.2 474.1,319.2 474.5,319.3 475.0,319.3 475.4,319.3 475.9,319.4 476.3,319.4 476.8,319.4 477.2,319.4 477.7,319.5 478.1,319.5 478.6,319.5 479.0,319.5 479.5,319.5 479.9,319.5 480.4,319.5 480.8,319.5 481.3,319.5 481.7,319.5 482.2,319.5 482.6,319.5 483.1,319.5 483.5,319.5 484.0,319.5 484.4,319.5 484.9,319.4 485.3,319.4 485.8,319.4 486.3,319.4 486.7,319.3 487.2,319.3 487.6,319.2 488.1,319.2 488.5,319.1 489.0,319.1 489.4,319.0 489.9,319.0 490.3,318.9 490.8,318.8 491.2,318.7 491.7,318.7 492.1,318.6 492.6,318.5 493.0,318.4 493.5,318.3 493.9,318.2 494.4,318.1 494.8,318.0 495.3,317.9 495.7,317.8 496.2,317.7 496.6,317.5 497.1,317.4 497.5,317.3 498.0,317.2 498.4,317.0 498.9,316.9 499.3,316.7 499.8,316.6 500.2,316.4 500.7,316.3 501.2,316.1 501.6,315.9 502.1,315.8 502.5,315.6 503.0,315.4 503.4,315.2 503.9,315.1 504.3,314.9 504.8,314.7 505.2,314.5 505.7,314.3 506.1,314.1 506.6,313.9 507.0,313.7 507.5,313.5 507.9,313.3 508.4,313.1 508.8,312.8 509.3,312.6 509.7,312.4 510.2,312.2 510.6,312.0 511.1,311.8 511.5,311.5 512.0,311.3 512.4,311.1 512.9,310.9 513.3,310.7 513.8,310.5 514.2,310.3 514.7,310.1 515.1,309.9 515.6,309.7 516.1,309.5 516.5,309.3 517.0,309.1 517.4,309.0 517.9,308.8 518.3,308.7 518.8,308.5 519.2,308.4 519.7,308.3 520.1,308.2 520.6,308.1 521.0,308.0 521.5,307.9 521.9,307.9 522.4,307.8 522.8,307.8 523.3,307.8 523.7,307.8 524.2,307.8 524.6,307.8 525.1,307.8 525.5,307.9 526.0,307.9 526.4,308.0 526.9,308.1 527.3,308.2 527.8,308.3 528.2,308.4 528.7,308.5 529.1,308.6 529.6,308.7 530.0,308.9 530.5,309.0 531.0,309.2 531.4,309.4 531.9,309.5 532.3,309.7 532.8,309.9 533.2,310.0 533.7,310.2 534.1,310.4 534.6,310.6 535.0,310.8 535.5,310.9 535.9,311.1 536.4,311.3 536.8,311.5 537.3,311.7 537.7,311.9 538.2,312.0 538.6,312.2 539.1,312.4 539.5,312.6 540.0,312.8" fill="none" stroke="#c03838" stroke-width="1.1"/></g><g stroke="#444" fill="none"><rect x="395" y="181.5" width="146" height="147.9" stroke-width="0.8"/><line x1="395" y1="230.6" x2="541" y2="230.6" stroke-width="1.4"/><line x1="395" y1="280.2" x2="541" y2="280.2" stroke-width="1.4"/></g><line x1="395" y1="182.1" x2="397" y2="182.1" stroke="#444" stroke-width="0.5"/><text x="392.8" y="185.0" text-anchor="end" style="font-family:&quot;Liberation Sans&quot;,sans-serif;font-weight:bold;font-size:6.3px" fill="#333">0</text><line x1="395" y1="194.1" x2="397" y2="194.1" stroke="#444" stroke-width="0.5"/><text x="392.8" y="197.0" text-anchor="end" style="font-family:&quot;Liberation Sans&quot;,sans-serif;font-weight:bold;font-size:6.3px" fill="#333">-15</text><line x1="395" y1="206.1" x2="397" y2="206.1" stroke="#444" stroke-width="0.5"/><text x="392.8" y="209.0" text-anchor="end" style="font-family:&quot;Liberation Sans&quot;,sans-serif;font-weight:bold;font-size:6.3px" fill="#333">-30</text><line x1="395" y1="218.2" x2="397" y2="218.2" stroke="#444" stroke-width="0.5"/><text x="392.8" y="221.1" text-anchor="end" style="font-family:&quot;Liberation Sans&quot;,sans-serif;font-weight:bold;font-size:6.3px" fill="#333">-45</text><line x1="395" y1="230.2" x2="397" y2="230.2" stroke="#444" stroke-width="0.5"/><text x="392.8" y="233.1" text-anchor="end" style="font-family:&quot;Liberation Sans&quot;,sans-serif;font-weight:bold;font-size:6.3px" fill="#333">-60</text><line x1="395" y1="279.8" x2="397" y2="279.8" stroke="#444" stroke-width="0.5"/><text x="392.8" y="282.4" text-anchor="end" style="font-family:&quot;Liberation Sans&quot;,sans-serif;font-weight:bold;font-size:6.3px" fill="#333">0</text><line x1="395" y1="271.5" x2="397" y2="271.5" stroke="#444" stroke-width="0.5"/><text x="392.8" y="274.1" text-anchor="end" style="font-family:&quot;Liberation Sans&quot;,sans-serif;font-weight:bold;font-size:6.3px" fill="#333">1</text><line x1="395" y1="263.2" x2="397" y2="263.2" stroke="#444" stroke-width="0.5"/><text x="392.8" y="265.8" text-anchor="end" style="font-family:&quot;Liberation Sans&quot;,sans-serif;font-weight:bold;font-size:6.3px" fill="#333">2</text><line x1="395" y1="254.9" x2="397" y2="254.9" stroke="#444" stroke-width="0.5"/><text x="392.8" y="257.5" text-anchor="end" style="font-family:&quot;Liberation Sans&quot;,sans-serif;font-weight:bold;font-size:6.3px" fill="#333">3</text><line x1="395" y1="246.6" x2="397" y2="246.6" stroke="#444" stroke-width="0.5"/><text x="392.8" y="249.2" text-anchor="end" style="font-family:&quot;Liberation Sans&quot;,sans-serif;font-weight:bold;font-size:6.3px" fill="#333">4</text><line x1="395" y1="238.3" x2="397" y2="238.3" stroke="#444" stroke-width="0.5"/><text x="392.8" y="240.9" text-anchor="end" style="font-family:&quot;Liberation Sans&quot;,sans-serif;font-weight:bold;font-size:6.3px" fill="#333">5</text><line x1="395" y1="329.4" x2="397" y2="329.4" stroke="#444" stroke-width="0.5"/><text x="393" y="332.3" text-anchor="end" style="font-family:&quot;Liberation Sans&quot;,sans-serif;font-weight:bold;font-size:6.3px" fill="#333">0.0</text><line x1="395" y1="318.8" x2="397" y2="318.8" stroke="#444" stroke-width="0.5"/><text x="393" y="321.7" text-anchor="end" style="font-family:&quot;Liberation Sans&quot;,sans-serif;font-weight:bold;font-size:6.3px" fill="#333">0.3</text><line x1="395" y1="308.1" x2="397" y2="308.1" stroke="#444" stroke-width="0.5"/><text x="393" y="311.0" text-anchor="end" style="font-family:&quot;Liberation Sans&quot;,sans-serif;font-weight:bold;font-size:6.3px" fill="#333">0.6</text><line x1="395" y1="297.5" x2="397" y2="297.5" stroke="#444" stroke-width="0.5"/><text x="393" y="300.4" text-anchor="end" style="font-family:&quot;Liberation Sans&quot;,sans-serif;font-weight:bold;font-size:6.3px" fill="#333">0.9</text><line x1="395" y1="286.9" x2="397" y2="286.9" stroke="#444" stroke-width="0.5"/><text x="393" y="289.8" text-anchor="end" style="font-family:&quot;Liberation Sans&quot;,sans-serif;font-weight:bold;font-size:6.3px" fill="#333">1.2</text><line x1="395.5" y1="329.4" x2="395.5" y2="327.4" stroke="#444" stroke-width="0.5"/><text x="395.5" y="337.6" text-anchor="middle" style="font-family:&quot;Liberation Sans&quot;,sans-serif;font-weight:bold;font-size:6.3px" fill="#333">2</text><line x1="413.6" y1="329.4" x2="413.6" y2="327.4" stroke="#444" stroke-width="0.5"/><text x="413.6" y="337.6" text-anchor="middle" style="font-family:&quot;Liberation Sans&quot;,sans-serif;font-weight:bold;font-size:6.3px" fill="#333">4</text><line x1="431.6" y1="329.4" x2="431.6" y2="327.4" stroke="#444" stroke-width="0.5"/><text x="431.6" y="337.6" text-anchor="middle" style="font-family:&quot;Liberation Sans&quot;,sans-serif;font-weight:bold;font-size:6.3px" fill="#333">6</text><line x1="449.7" y1="329.4" x2="449.7" y2="327.4" stroke="#444" stroke-width="0.5"/><text x="449.7" y="337.6" text-anchor="middle" style="font-family:&quot;Liberation Sans&quot;,sans-serif;font-weight:bold;font-size:6.3px" fill="#333">8</text><line x1="467.7" y1="329.4" x2="467.7" y2="327.4" stroke="#444" stroke-width="0.5"/><text x="467.7" y="337.6" text-anchor="middle" style="font-family:&quot;Liberation Sans&quot;,sans-serif;font-weight:bold;font-size:6.3px" fill="#333">10</text><line x1="485.8" y1="329.4" x2="485.8" y2="327.4" stroke="#444" stroke-width="0.5"/><text x="485.8" y="337.6" text-anchor="middle" style="font-family:&quot;Liberation Sans&quot;,sans-serif;font-weight:bold;font-size:6.3px" fill="#333">12</text><line x1="503.9" y1="329.4" x2="503.9" y2="327.4" stroke="#444" stroke-width="0.5"/><text x="503.9" y="337.6" text-anchor="middle" style="font-family:&quot;Liberation Sans&quot;,sans-serif;font-weight:bold;font-size:6.3px" fill="#333">14</text><line x1="521.9" y1="329.4" x2="521.9" y2="327.4" stroke="#444" stroke-width="0.5"/><text x="521.9" y="337.6" text-anchor="middle" style="font-family:&quot;Liberation Sans&quot;,sans-serif;font-weight:bold;font-size:6.3px" fill="#333">16</text><line x1="540.0" y1="329.4" x2="540.0" y2="327.4" stroke="#444" stroke-width="0.5"/><text x="540.0" y="337.6" text-anchor="middle" style="font-family:&quot;Liberation Sans&quot;,sans-serif;font-weight:bold;font-size:6.3px" fill="#333">18</text><text x="441" y="347.2" style="font-family:&quot;Liberation Sans&quot;,sans-serif;font-weight:bold;font-size:9.2px" fill="#222" textLength="60" lengthAdjust="spacingAndGlyphs">Frequency (GHz)</text><text transform="translate(381.8,223) rotate(-90)" style="font-family:&quot;Liberation Sans&quot;,sans-serif;font-weight:bold;font-size:8px" fill="#222" textLength="26.5" lengthAdjust="spacingAndGlyphs"><tspan font-style="italic">R</tspan><tspan font-size="5.5px" dy="1.8">L</tspan><tspan dy="-1.8"> (dB)</tspan></text><text transform="translate(381.8,272.6) rotate(-90)" style="font-family:&quot;Liberation Sans&quot;,sans-serif;font-weight:bold;font-size:8px" fill="#222" textLength="24.6" lengthAdjust="spacingAndGlyphs"><tspan font-style="italic">t</tspan> (mm)</text><text transform="translate(379.6,308.2) rotate(-90)" style="font-family:&quot;Liberation Sans&quot;,sans-serif;font-weight:bold;font-size:7.4px" fill="#222">Z</text><line x1="476" y1="205.5" x2="485.5" y2="205.5" stroke="#303030" stroke-width="1.3"/><text x="487" y="207.2" style="font-family:&quot;Liberation Sans&quot;,sans-serif;font-weight:bold;font-size:4.6px" fill="#333" textLength="14.8" lengthAdjust="spacingAndGlyphs">1.0 mm</text><line x1="476" y1="211.4" x2="485.5" y2="211.4" stroke="#f03030" stroke-width="1.3"/><text x="487" y="213.1" style="font-family:&quot;Liberation Sans&quot;,sans-serif;font-weight:bold;font-size:4.6px" fill="#333" textLength="14.8" lengthAdjust="spacingAndGlyphs">2.0 mm</text><line x1="476" y1="217.4" x2="485.5" y2="217.4" stroke="#3030f0" stroke-width="1.3"/><text x="487" y="219.1" style="font-family:&quot;Liberation Sans&quot;,sans-serif;font-weight:bold;font-size:4.6px" fill="#333" textLength="14.8" lengthAdjust="spacingAndGlyphs">2.5 mm</text><line x1="476" y1="223.2" x2="485.5" y2="223.2" stroke="#2aa0a0" stroke-width="1.3"/><text x="487" y="224.9" style="font-family:&quot;Liberation Sans&quot;,sans-serif;font-weight:bold;font-size:4.6px" fill="#333" textLength="14.8" lengthAdjust="spacingAndGlyphs">3.0 mm</text><line x1="476" y1="228.8" x2="485.5" y2="228.8" stroke="#f030f0" stroke-width="1.3"/><text x="487" y="230.5" style="font-family:&quot;Liberation Sans&quot;,sans-serif;font-weight:bold;font-size:4.6px" fill="#333" textLength="14.8" lengthAdjust="spacingAndGlyphs">3.5 mm</text><line x1="512.7" y1="207.4" x2="522.7" y2="207.4" stroke="#a0a020" stroke-width="1.3"/><text x="523.8" y="209.1" style="font-family:&quot;Liberation Sans&quot;,sans-serif;font-weight:bold;font-size:4.6px" fill="#333" textLength="14.8" lengthAdjust="spacingAndGlyphs">4.0 mm</text><line x1="512.7" y1="212.6" x2="522.7" y2="212.6" stroke="#f020a0" stroke-width="1.3"/><text x="523.8" y="214.3" style="font-family:&quot;Liberation Sans&quot;,sans-serif;font-weight:bold;font-size:4.6px" fill="#333" textLength="14.8" lengthAdjust="spacingAndGlyphs">4.4 mm</text><line x1="512.7" y1="217.9" x2="522.7" y2="217.9" stroke="#3030c0" stroke-width="1.3"/><text x="523.8" y="219.6" style="font-family:&quot;Liberation Sans&quot;,sans-serif;font-weight:bold;font-size:4.6px" fill="#333" textLength="14.8" lengthAdjust="spacingAndGlyphs">4.5 mm</text><line x1="512.7" y1="223.0" x2="522.7" y2="223.0" stroke="#20a020" stroke-width="1.3"/><text x="523.8" y="224.7" style="font-family:&quot;Liberation Sans&quot;,sans-serif;font-weight:bold;font-size:4.6px" fill="#333" textLength="14.8" lengthAdjust="spacingAndGlyphs">4.6 mm</text><line x1="512.7" y1="228.0" x2="522.7" y2="228.0" stroke="#c03838" stroke-width="1.3"/><text x="523.8" y="229.7" style="font-family:&quot;Liberation Sans&quot;,sans-serif;font-weight:bold;font-size:4.6px" fill="#333" textLength="14.8" lengthAdjust="spacingAndGlyphs">5.0 mm</text><circle cx="514" cy="239.3" r="1.4" fill="#f02020"/><text x="524" y="242.3" style="font-family:&quot;Liberation Sans&quot;,sans-serif;font-weight:bold;font-size:7px" fill="#222"><tspan font-style="italic">f</tspan><tspan font-size="5px" dy="1.2">m</tspan><tspan font-size="5px" dy="-4.5">exp</tspan></text><line x1="509" y1="250.7" x2="522.7" y2="250.7" stroke="#222" stroke-width="1.1"/><text x="524.5" y="252.5" style="font-family:&quot;Liberation Sans&quot;,sans-serif;font-weight:bold;font-size:7px" fill="#222"><tspan font-style="italic">f</tspan><tspan font-size="5px" dy="1.2">m</tspan><tspan font-size="5px" dy="-4.5">fit</tspan></text></svg></body></html>
